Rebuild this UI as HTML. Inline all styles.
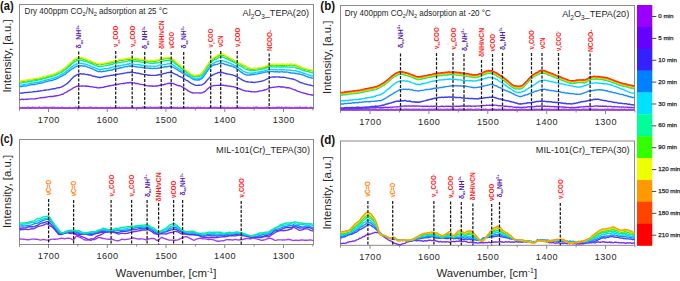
<!DOCTYPE html><html><head><meta charset="utf-8"><style>
html,body{margin:0;padding:0;background:#fff;}
svg{display:block;font-family:"Liberation Sans", sans-serif;}
</style></head><body>
<svg width="680" height="281" viewBox="0 0 680 281">
<rect x="19.5" y="4.5" width="294.0" height="104.0" fill="none" stroke="#8a8a8a" stroke-width="1"/>
<line x1="19.5" y1="108.5" x2="19.5" y2="110.8" stroke="#8a8a8a" stroke-width="1"/>
<line x1="48.50" y1="108.5" x2="48.50" y2="112.0" stroke="#8a8a8a" stroke-width="1"/>
<text x="48.80" y="123.0" font-size="9.1" letter-spacing="0.5" text-anchor="middle" fill="#262626">1700</text>
<line x1="77.88" y1="108.5" x2="77.88" y2="110.5" stroke="#8a8a8a" stroke-width="1"/>
<line x1="107.25" y1="108.5" x2="107.25" y2="112.0" stroke="#8a8a8a" stroke-width="1"/>
<text x="107.55" y="123.0" font-size="9.1" letter-spacing="0.5" text-anchor="middle" fill="#262626">1600</text>
<line x1="136.62" y1="108.5" x2="136.62" y2="110.5" stroke="#8a8a8a" stroke-width="1"/>
<line x1="166.00" y1="108.5" x2="166.00" y2="112.0" stroke="#8a8a8a" stroke-width="1"/>
<text x="166.30" y="123.0" font-size="9.1" letter-spacing="0.5" text-anchor="middle" fill="#262626">1500</text>
<line x1="195.38" y1="108.5" x2="195.38" y2="110.5" stroke="#8a8a8a" stroke-width="1"/>
<line x1="224.75" y1="108.5" x2="224.75" y2="112.0" stroke="#8a8a8a" stroke-width="1"/>
<text x="225.05" y="123.0" font-size="9.1" letter-spacing="0.5" text-anchor="middle" fill="#262626">1400</text>
<line x1="254.12" y1="108.5" x2="254.12" y2="110.5" stroke="#8a8a8a" stroke-width="1"/>
<line x1="283.50" y1="108.5" x2="283.50" y2="112.0" stroke="#8a8a8a" stroke-width="1"/>
<text x="283.80" y="123.0" font-size="9.1" letter-spacing="0.5" text-anchor="middle" fill="#262626">1300</text>
<line x1="312.88" y1="108.5" x2="312.88" y2="110.5" stroke="#8a8a8a" stroke-width="1"/>
<rect x="340.5" y="5.5" width="294.0" height="105.0" fill="none" stroke="#8a8a8a" stroke-width="1"/>
<line x1="340.5" y1="110.5" x2="340.5" y2="112.8" stroke="#8a8a8a" stroke-width="1"/>
<line x1="370.04" y1="110.5" x2="370.04" y2="114.0" stroke="#8a8a8a" stroke-width="1"/>
<text x="370.34" y="125.0" font-size="9.1" letter-spacing="0.5" text-anchor="middle" fill="#262626">1700</text>
<line x1="399.48" y1="110.5" x2="399.48" y2="112.5" stroke="#8a8a8a" stroke-width="1"/>
<line x1="428.92" y1="110.5" x2="428.92" y2="114.0" stroke="#8a8a8a" stroke-width="1"/>
<text x="429.22" y="125.0" font-size="9.1" letter-spacing="0.5" text-anchor="middle" fill="#262626">1600</text>
<line x1="458.36" y1="110.5" x2="458.36" y2="112.5" stroke="#8a8a8a" stroke-width="1"/>
<line x1="487.80" y1="110.5" x2="487.80" y2="114.0" stroke="#8a8a8a" stroke-width="1"/>
<text x="488.10" y="125.0" font-size="9.1" letter-spacing="0.5" text-anchor="middle" fill="#262626">1500</text>
<line x1="517.24" y1="110.5" x2="517.24" y2="112.5" stroke="#8a8a8a" stroke-width="1"/>
<line x1="546.68" y1="110.5" x2="546.68" y2="114.0" stroke="#8a8a8a" stroke-width="1"/>
<text x="546.98" y="125.0" font-size="9.1" letter-spacing="0.5" text-anchor="middle" fill="#262626">1400</text>
<line x1="576.12" y1="110.5" x2="576.12" y2="112.5" stroke="#8a8a8a" stroke-width="1"/>
<line x1="605.56" y1="110.5" x2="605.56" y2="114.0" stroke="#8a8a8a" stroke-width="1"/>
<text x="605.86" y="125.0" font-size="9.1" letter-spacing="0.5" text-anchor="middle" fill="#262626">1300</text>
<line x1="635.00" y1="110.5" x2="635.00" y2="112.5" stroke="#8a8a8a" stroke-width="1"/>
<rect x="19.5" y="139.5" width="294.0" height="105.0" fill="none" stroke="#8a8a8a" stroke-width="1"/>
<line x1="19.5" y1="244.5" x2="19.5" y2="246.8" stroke="#8a8a8a" stroke-width="1"/>
<line x1="48.50" y1="244.5" x2="48.50" y2="248.0" stroke="#8a8a8a" stroke-width="1"/>
<text x="48.80" y="259.0" font-size="9.1" letter-spacing="0.5" text-anchor="middle" fill="#262626">1700</text>
<line x1="77.88" y1="244.5" x2="77.88" y2="246.5" stroke="#8a8a8a" stroke-width="1"/>
<line x1="107.25" y1="244.5" x2="107.25" y2="248.0" stroke="#8a8a8a" stroke-width="1"/>
<text x="107.55" y="259.0" font-size="9.1" letter-spacing="0.5" text-anchor="middle" fill="#262626">1600</text>
<line x1="136.62" y1="244.5" x2="136.62" y2="246.5" stroke="#8a8a8a" stroke-width="1"/>
<line x1="166.00" y1="244.5" x2="166.00" y2="248.0" stroke="#8a8a8a" stroke-width="1"/>
<text x="166.30" y="259.0" font-size="9.1" letter-spacing="0.5" text-anchor="middle" fill="#262626">1500</text>
<line x1="195.38" y1="244.5" x2="195.38" y2="246.5" stroke="#8a8a8a" stroke-width="1"/>
<line x1="224.75" y1="244.5" x2="224.75" y2="248.0" stroke="#8a8a8a" stroke-width="1"/>
<text x="225.05" y="259.0" font-size="9.1" letter-spacing="0.5" text-anchor="middle" fill="#262626">1400</text>
<line x1="254.12" y1="244.5" x2="254.12" y2="246.5" stroke="#8a8a8a" stroke-width="1"/>
<line x1="283.50" y1="244.5" x2="283.50" y2="248.0" stroke="#8a8a8a" stroke-width="1"/>
<text x="283.80" y="259.0" font-size="9.1" letter-spacing="0.5" text-anchor="middle" fill="#262626">1300</text>
<line x1="312.88" y1="244.5" x2="312.88" y2="246.5" stroke="#8a8a8a" stroke-width="1"/>
<rect x="340.5" y="141.0" width="294.0" height="104.30000000000001" fill="none" stroke="#8a8a8a" stroke-width="1"/>
<line x1="340.5" y1="245.3" x2="340.5" y2="247.60000000000002" stroke="#8a8a8a" stroke-width="1"/>
<line x1="370.04" y1="245.3" x2="370.04" y2="248.8" stroke="#8a8a8a" stroke-width="1"/>
<text x="370.34" y="259.8" font-size="9.1" letter-spacing="0.5" text-anchor="middle" fill="#262626">1700</text>
<line x1="399.48" y1="245.3" x2="399.48" y2="247.3" stroke="#8a8a8a" stroke-width="1"/>
<line x1="428.92" y1="245.3" x2="428.92" y2="248.8" stroke="#8a8a8a" stroke-width="1"/>
<text x="429.22" y="259.8" font-size="9.1" letter-spacing="0.5" text-anchor="middle" fill="#262626">1600</text>
<line x1="458.36" y1="245.3" x2="458.36" y2="247.3" stroke="#8a8a8a" stroke-width="1"/>
<line x1="487.80" y1="245.3" x2="487.80" y2="248.8" stroke="#8a8a8a" stroke-width="1"/>
<text x="488.10" y="259.8" font-size="9.1" letter-spacing="0.5" text-anchor="middle" fill="#262626">1500</text>
<line x1="517.24" y1="245.3" x2="517.24" y2="247.3" stroke="#8a8a8a" stroke-width="1"/>
<line x1="546.68" y1="245.3" x2="546.68" y2="248.8" stroke="#8a8a8a" stroke-width="1"/>
<text x="546.98" y="259.8" font-size="9.1" letter-spacing="0.5" text-anchor="middle" fill="#262626">1400</text>
<line x1="576.12" y1="245.3" x2="576.12" y2="247.3" stroke="#8a8a8a" stroke-width="1"/>
<line x1="605.56" y1="245.3" x2="605.56" y2="248.8" stroke="#8a8a8a" stroke-width="1"/>
<text x="605.86" y="259.8" font-size="9.1" letter-spacing="0.5" text-anchor="middle" fill="#262626">1300</text>
<line x1="635.00" y1="245.3" x2="635.00" y2="247.3" stroke="#8a8a8a" stroke-width="1"/>
<text transform="translate(0,9.9) scale(1,1.15)" font-size="10.5" font-weight="bold" fill="#111" textLength="13.6" lengthAdjust="spacingAndGlyphs">(a)</text>
<text transform="translate(320.3,9.9) scale(1,1.15)" font-size="10.5" font-weight="bold" fill="#111" textLength="14.8" lengthAdjust="spacingAndGlyphs">(b)</text>
<text transform="translate(0.3,143) scale(1,1.15)" font-size="10.5" font-weight="bold" fill="#111" textLength="12.8" lengthAdjust="spacingAndGlyphs">(c)</text>
<text transform="translate(320.3,144) scale(1,1.15)" font-size="10.5" font-weight="bold" fill="#111" textLength="14.8" lengthAdjust="spacingAndGlyphs">(d)</text>
<text transform="translate(10.5,56) rotate(-90)" x="0" y="0" font-size="11.4" text-anchor="middle" fill="#262626">Intensity, [a.u.]</text>
<text transform="translate(331.3,57.3) rotate(-90)" x="0" y="0" font-size="11.4" text-anchor="middle" fill="#262626">Intensity, [a.u.]</text>
<text transform="translate(10.5,191.5) rotate(-90)" x="0" y="0" font-size="11.4" text-anchor="middle" fill="#262626">Intensity, [a.u.]</text>
<text transform="translate(331.3,193) rotate(-90)" x="0" y="0" font-size="11.4" text-anchor="middle" fill="#262626">Intensity, [a.u.]</text>
<text x="166" y="276.5" font-size="11.4" text-anchor="middle" fill="#262626">Wavenumber, [cm<tspan dy="-3.5" font-size="7">-1</tspan><tspan dy="3.5">]</tspan></text>
<text x="486.8" y="276.5" font-size="11.4" text-anchor="middle" fill="#262626">Wavenumber, [cm<tspan dy="-3.5" font-size="7">-1</tspan><tspan dy="3.5">]</tspan></text>
<text x="24.6" y="13.6" font-size="8.3" textLength="143.2" lengthAdjust="spacingAndGlyphs" fill="#262626">Dry 400ppm CO<tspan dy="2.6" font-size="5.8">2</tspan><tspan dy="-2.6">/N</tspan><tspan dy="2.6" font-size="5.8">2</tspan><tspan dy="-2.6"> adsorption at 25 °C</tspan></text>
<text x="344.8" y="15.7" font-size="8.3" textLength="146" lengthAdjust="spacingAndGlyphs" fill="#262626">Dry 400ppm CO<tspan dy="2.6" font-size="5.8">2</tspan><tspan dy="-2.6">/N</tspan><tspan dy="2.6" font-size="5.8">2</tspan><tspan dy="-2.6"> adsorption at -20 °C</tspan></text>
<text x="242.6" y="15.9" font-size="9" textLength="66.4" lengthAdjust="spacingAndGlyphs" fill="#262626">Al<tspan dy="2.8" font-size="6.3">2</tspan><tspan dy="-2.8">O</tspan><tspan dy="2.8" font-size="6.3">3</tspan><tspan dy="-2.8">_TEPA(20)</tspan></text>
<text x="562.2" y="16.9" font-size="9" textLength="67" lengthAdjust="spacingAndGlyphs" fill="#262626">Al<tspan dy="2.8" font-size="6.3">2</tspan><tspan dy="-2.8">O</tspan><tspan dy="2.8" font-size="6.3">3</tspan><tspan dy="-2.8">_TEPA(20)</tspan></text>
<text x="216" y="153" font-size="9.2" textLength="94" lengthAdjust="spacingAndGlyphs" fill="#262626">MIL-101(Cr)_TEPA(30)</text>
<text x="535.8" y="153" font-size="9.2" textLength="93.8" lengthAdjust="spacingAndGlyphs" fill="#262626">MIL-101(Cr)_TEPA(30)</text>
<rect x="637" y="5.00" width="15.3" height="22.16" fill="#9900ff"/>
<line x1="652" y1="16.53" x2="656.3" y2="16.53" stroke="#333" stroke-width="0.9"/>
<text x="658.3" y="18.08" font-size="6.2" font-weight="normal" stroke="#222" stroke-width="0.25" fill="#222">0 min</text>
<rect x="637" y="26.86" width="15.3" height="22.16" fill="#6600ff"/>
<line x1="652" y1="38.40" x2="656.3" y2="38.40" stroke="#333" stroke-width="0.9"/>
<text x="658.3" y="39.95" font-size="6.2" font-weight="normal" stroke="#222" stroke-width="0.25" fill="#222">5 min</text>
<rect x="637" y="48.73" width="15.3" height="22.16" fill="#3322ff"/>
<line x1="652" y1="60.26" x2="656.3" y2="60.26" stroke="#333" stroke-width="0.9"/>
<text x="658.3" y="61.81" font-size="6.2" font-weight="normal" stroke="#222" stroke-width="0.25" fill="#222">10 min</text>
<rect x="637" y="70.59" width="15.3" height="22.16" fill="#0080ff"/>
<line x1="652" y1="82.12" x2="656.3" y2="82.12" stroke="#333" stroke-width="0.9"/>
<text x="658.3" y="83.67" font-size="6.2" font-weight="normal" stroke="#222" stroke-width="0.25" fill="#222">20 min</text>
<rect x="637" y="92.45" width="15.3" height="22.16" fill="#00e0ff"/>
<line x1="652" y1="103.99" x2="656.3" y2="103.99" stroke="#333" stroke-width="0.9"/>
<text x="658.3" y="105.54" font-size="6.2" font-weight="normal" stroke="#222" stroke-width="0.25" fill="#222">30 min</text>
<rect x="637" y="114.32" width="15.3" height="22.16" fill="#00ff99"/>
<line x1="652" y1="125.85" x2="656.3" y2="125.85" stroke="#333" stroke-width="0.9"/>
<text x="658.3" y="127.40" font-size="6.2" font-weight="normal" stroke="#222" stroke-width="0.25" fill="#222">60 min</text>
<rect x="637" y="136.18" width="15.3" height="22.16" fill="#33ff00"/>
<line x1="652" y1="147.71" x2="656.3" y2="147.71" stroke="#333" stroke-width="0.9"/>
<text x="658.3" y="149.26" font-size="6.2" font-weight="normal" stroke="#222" stroke-width="0.25" fill="#222">90 min</text>
<rect x="637" y="158.05" width="15.3" height="22.16" fill="#eeff00"/>
<line x1="652" y1="169.58" x2="656.3" y2="169.58" stroke="#333" stroke-width="0.9"/>
<text x="658.3" y="171.13" font-size="6.2" font-weight="normal" stroke="#222" stroke-width="0.25" fill="#222">120 min</text>
<rect x="637" y="179.91" width="15.3" height="22.16" fill="#ff9900"/>
<line x1="652" y1="191.44" x2="656.3" y2="191.44" stroke="#333" stroke-width="0.9"/>
<text x="658.3" y="192.99" font-size="6.2" font-weight="normal" stroke="#222" stroke-width="0.25" fill="#222">150 min</text>
<rect x="637" y="201.77" width="15.3" height="22.16" fill="#ff4400"/>
<line x1="652" y1="213.30" x2="656.3" y2="213.30" stroke="#333" stroke-width="0.9"/>
<text x="658.3" y="214.85" font-size="6.2" font-weight="normal" stroke="#222" stroke-width="0.25" fill="#222">180 min</text>
<rect x="637" y="223.64" width="15.3" height="22.16" fill="#ff0000"/>
<line x1="652" y1="235.17" x2="656.3" y2="235.17" stroke="#333" stroke-width="0.9"/>
<text x="658.3" y="236.72" font-size="6.2" font-weight="normal" stroke="#222" stroke-width="0.25" fill="#222">210 min</text>
<polyline points="19.5,107.54 20.5,108.04 21.5,107.98 22.5,107.63 23.5,107.80 24.5,107.76 25.5,107.91 26.5,108.00 27.5,107.52 28.5,107.47 29.5,108.04 30.5,107.75 31.5,107.98 32.5,107.45 33.5,107.76 34.5,107.96 35.5,107.61 36.5,108.11 37.5,108.08 38.5,107.47 39.5,107.47 40.5,107.83 41.5,108.11 42.5,107.72 43.5,107.60 44.5,107.75 45.5,107.47 46.5,107.61 47.5,107.76 48.5,107.80 49.5,107.61 50.5,107.61 51.5,107.60 52.5,107.77 53.5,107.65 54.5,107.47 55.5,108.04 56.5,107.84 57.5,107.90 58.5,107.58 59.5,108.14 60.5,108.05 61.5,107.53 62.5,107.68 63.5,107.96 64.5,107.95 65.5,108.11 66.5,107.75 67.5,108.03 68.5,107.92 69.5,107.66 70.5,107.86 71.5,108.07 72.5,108.04 73.5,107.80 74.5,107.86 75.5,107.47 76.5,107.62 77.5,108.01 78.5,107.74 79.5,107.57 80.5,107.83 81.5,107.94 82.5,107.92 83.5,107.71 84.5,107.76 85.5,107.81 86.5,107.99 87.5,107.81 88.5,107.73 89.5,107.79 90.5,107.47 91.5,107.48 92.5,107.94 93.5,108.14 94.5,107.87 95.5,107.73 96.5,107.57 97.5,107.80 98.5,108.14 99.5,107.99 100.5,107.83 101.5,108.05 102.5,107.61 103.5,107.81 104.5,108.12 105.5,107.85 106.5,107.77 107.5,107.64 108.5,107.83 109.5,108.12 110.5,107.45 111.5,108.00 112.5,108.02 113.5,108.07 114.5,107.97 115.5,108.02 116.5,107.81 117.5,107.84 118.5,107.75 119.5,107.49 120.5,108.06 121.5,107.85 122.5,107.59 123.5,107.80 124.5,107.79 125.5,107.70 126.5,107.69 127.5,107.83 128.5,107.89 129.5,107.88 130.5,107.77 131.5,107.47 132.5,107.61 133.5,107.57 134.5,107.86 135.5,108.05 136.5,108.01 137.5,108.01 138.5,108.02 139.5,107.63 140.5,108.04 141.5,107.92 142.5,107.51 143.5,107.46 144.5,107.46 145.5,107.98 146.5,107.62 147.5,107.53 148.5,107.89 149.5,107.69 150.5,107.50 151.5,107.56 152.5,107.82 153.5,107.57 154.5,107.64 155.5,107.95 156.5,107.77 157.5,107.68 158.5,107.78 159.5,107.47 160.5,107.72 161.5,107.74 162.5,107.58 163.5,107.53 164.5,108.08 165.5,107.81 166.5,107.60 167.5,107.87 168.5,108.02 169.5,107.46 170.5,107.46 171.5,107.55 172.5,107.95 173.5,107.56 174.5,107.94 175.5,107.92 176.5,107.83 177.5,107.60 178.5,108.13 179.5,108.01 180.5,107.81 181.5,107.61 182.5,107.90 183.5,107.73 184.5,107.85 185.5,107.67 186.5,107.89 187.5,107.49 188.5,107.66 189.5,108.13 190.5,108.06 191.5,107.66 192.5,108.05 193.5,107.67 194.5,108.11 195.5,107.97 196.5,107.74 197.5,107.63 198.5,107.46 199.5,108.07 200.5,107.48 201.5,108.02 202.5,108.12 203.5,107.85 204.5,107.57 205.5,108.06 206.5,108.13 207.5,107.94 208.5,107.81 209.5,107.71 210.5,107.69 211.5,107.59 212.5,107.92 213.5,107.75 214.5,107.59 215.5,107.52 216.5,107.92 217.5,107.66 218.5,107.80 219.5,107.68 220.5,108.06 221.5,108.08 222.5,107.46 223.5,107.59 224.5,107.68 225.5,108.14 226.5,108.00 227.5,107.69 228.5,107.60 229.5,107.92 230.5,108.04 231.5,108.10 232.5,107.69 233.5,108.07 234.5,107.93 235.5,107.79 236.5,108.14 237.5,107.61 238.5,107.96 239.5,107.51 240.5,107.57 241.5,108.09 242.5,107.60 243.5,107.98 244.5,107.87 245.5,108.04 246.5,107.71 247.5,107.69 248.5,107.65 249.5,108.06 250.5,107.87 251.5,108.12 252.5,108.07 253.5,107.54 254.5,107.84 255.5,107.52 256.5,107.48 257.5,107.50 258.5,108.06 259.5,108.00 260.5,108.03 261.5,107.69 262.5,107.88 263.5,108.00 264.5,107.71 265.5,107.85 266.5,107.61 267.5,107.51 268.5,107.64 269.5,108.07 270.5,107.85 271.5,108.10 272.5,107.77 273.5,107.64 274.5,108.00 275.5,108.03 276.5,107.46 277.5,107.92 278.5,107.51 279.5,107.53 280.5,108.07 281.5,107.48 282.5,107.62 283.5,108.14 284.5,107.74 285.5,107.53 286.5,107.57 287.5,107.62 288.5,107.97 289.5,107.52 290.5,108.09 291.5,107.71 292.5,108.13 293.5,108.09 294.5,107.66 295.5,107.63 296.5,107.78 297.5,107.52 298.5,107.91 299.5,107.48 300.5,107.46 301.5,108.14 302.5,107.66 303.5,107.87 304.5,107.76 305.5,107.67 306.5,107.49 307.5,108.09 308.5,108.13 309.5,108.13 310.5,107.53 311.5,107.60 312.5,107.88 313.5,108.14" fill="none" stroke="#a23cf5" stroke-width="1.8399999999999999" stroke-linejoin="round" opacity="1"/>
<polyline points="19.5,99.70 20.5,99.67 21.5,99.29 22.5,99.25 23.5,99.49 24.5,99.40 25.5,99.32 26.5,99.12 27.5,99.19 28.5,99.14 29.5,99.07 30.5,98.85 31.5,98.91 32.5,98.83 33.5,98.88 34.5,98.90 35.5,98.77 36.5,98.48 37.5,98.31 38.5,98.11 39.5,97.88 40.5,97.74 41.5,97.79 42.5,97.59 43.5,97.49 44.5,97.56 45.5,97.28 46.5,97.16 47.5,96.89 48.5,96.68 49.5,96.66 50.5,96.45 51.5,96.47 52.5,96.53 53.5,96.26 54.5,95.91 55.5,96.02 56.5,95.79 57.5,95.56 58.5,95.41 59.5,95.14 60.5,94.90 61.5,94.41 62.5,94.27 63.5,93.81 64.5,92.96 65.5,92.63 66.5,92.05 67.5,91.39 68.5,90.85 69.5,90.25 70.5,89.82 71.5,89.04 72.5,88.55 73.5,87.72 74.5,87.36 75.5,86.92 76.5,86.42 77.5,86.26 78.5,86.32 79.5,86.23 80.5,86.11 81.5,85.99 82.5,86.01 83.5,86.14 84.5,85.91 85.5,86.21 86.5,85.99 87.5,86.32 88.5,86.19 89.5,86.60 90.5,86.67 91.5,86.75 92.5,86.92 93.5,87.14 94.5,87.29 95.5,87.34 96.5,87.47 97.5,87.72 98.5,87.94 99.5,87.80 100.5,87.49 101.5,87.63 102.5,87.39 103.5,87.26 104.5,86.78 105.5,86.80 106.5,86.32 107.5,86.36 108.5,86.01 109.5,85.79 110.5,85.85 111.5,85.34 112.5,85.31 113.5,85.24 114.5,84.80 115.5,84.59 116.5,84.68 117.5,84.32 118.5,84.28 119.5,83.86 120.5,83.84 121.5,83.63 122.5,83.68 123.5,83.30 124.5,83.51 125.5,83.00 126.5,83.13 127.5,82.71 128.5,82.66 129.5,82.77 130.5,82.47 131.5,82.51 132.5,82.81 133.5,82.85 134.5,82.92 135.5,83.50 136.5,83.36 137.5,83.51 138.5,83.84 139.5,84.15 140.5,84.40 141.5,84.35 142.5,84.63 143.5,84.71 144.5,85.08 145.5,85.40 146.5,85.56 147.5,85.77 148.5,85.84 149.5,85.99 150.5,86.03 151.5,86.04 152.5,86.04 153.5,86.28 154.5,86.15 155.5,86.01 156.5,86.03 157.5,86.02 158.5,85.51 159.5,85.48 160.5,85.19 161.5,85.02 162.5,84.66 163.5,84.78 164.5,84.28 165.5,84.21 166.5,83.92 167.5,83.55 168.5,83.55 169.5,83.23 170.5,83.15 171.5,83.20 172.5,83.42 173.5,83.67 174.5,84.22 175.5,84.50 176.5,85.03 177.5,85.34 178.5,85.70 179.5,85.73 180.5,86.14 181.5,86.44 182.5,87.04 183.5,87.59 184.5,88.29 185.5,88.96 186.5,89.53 187.5,90.34 188.5,91.14 189.5,91.60 190.5,92.14 191.5,92.66 192.5,92.77 193.5,93.09 194.5,92.90 195.5,92.84 196.5,92.87 197.5,92.89 198.5,92.89 199.5,93.01 200.5,92.99 201.5,92.84 202.5,92.71 203.5,92.10 204.5,91.76 205.5,91.00 206.5,90.03 207.5,89.04 208.5,88.19 209.5,87.42 210.5,86.57 211.5,86.23 212.5,85.94 213.5,85.62 214.5,85.49 215.5,85.67 216.5,85.40 217.5,85.36 218.5,85.42 219.5,85.22 220.5,85.06 221.5,85.36 222.5,85.19 223.5,85.16 224.5,85.57 225.5,85.48 226.5,85.71 227.5,86.06 228.5,86.14 229.5,86.02 230.5,86.34 231.5,86.46 232.5,86.64 233.5,86.69 234.5,87.07 235.5,87.13 236.5,87.54 237.5,87.95 238.5,88.57 239.5,88.63 240.5,89.30 241.5,89.48 242.5,90.03 243.5,90.33 244.5,90.67 245.5,91.03 246.5,91.08 247.5,91.10 248.5,91.20 249.5,91.28 250.5,91.69 251.5,91.71 252.5,91.93 253.5,91.90 254.5,91.64 255.5,91.84 256.5,91.78 257.5,91.59 258.5,91.30 259.5,91.04 260.5,90.88 261.5,90.82 262.5,90.41 263.5,90.28 264.5,89.97 265.5,89.81 266.5,89.34 267.5,88.96 268.5,88.52 269.5,87.97 270.5,87.68 271.5,87.58 272.5,87.32 273.5,87.22 274.5,87.15 275.5,87.08 276.5,86.81 277.5,86.83 278.5,86.52 279.5,86.66 280.5,87.01 281.5,86.80 282.5,87.03 283.5,87.01 284.5,87.15 285.5,87.60 286.5,87.76 287.5,87.75 288.5,87.69 289.5,87.97 290.5,88.20 291.5,88.70 292.5,89.07 293.5,89.38 294.5,89.81 295.5,90.04 296.5,90.62 297.5,91.18 298.5,91.49 299.5,91.59 300.5,92.09 301.5,92.48 302.5,92.58 303.5,93.10 304.5,93.20 305.5,93.56 306.5,93.71 307.5,94.22 308.5,94.40 309.5,94.59 310.5,94.68 311.5,95.05 312.5,95.01 313.5,95.36" fill="none" stroke="#7a2cf0" stroke-width="1.38" stroke-linejoin="round" opacity="1"/>
<polyline points="19.5,93.12 20.5,93.19 21.5,93.06 22.5,93.04 23.5,92.94 24.5,92.60 25.5,92.46 26.5,92.68 27.5,92.33 28.5,92.21 29.5,92.40 30.5,92.07 31.5,92.11 32.5,91.85 33.5,91.80 34.5,91.49 35.5,91.57 36.5,91.55 37.5,91.29 38.5,91.26 39.5,91.10 40.5,90.72 41.5,90.85 42.5,90.62 43.5,90.34 44.5,90.06 45.5,90.23 46.5,89.91 47.5,89.84 48.5,89.73 49.5,89.50 50.5,89.42 51.5,89.04 52.5,89.04 53.5,88.72 54.5,88.74 55.5,88.53 56.5,88.01 57.5,87.82 58.5,87.64 59.5,87.72 60.5,87.25 61.5,86.98 62.5,86.41 63.5,85.96 64.5,85.29 65.5,84.61 66.5,83.98 67.5,83.15 68.5,82.35 69.5,81.22 70.5,80.17 71.5,79.01 72.5,78.05 73.5,77.04 74.5,76.08 75.5,75.73 76.5,75.20 77.5,74.68 78.5,74.18 79.5,74.00 80.5,73.70 81.5,73.98 82.5,73.98 83.5,73.96 84.5,73.98 85.5,74.41 86.5,74.61 87.5,74.44 88.5,74.94 89.5,75.03 90.5,75.19 91.5,75.52 92.5,75.97 93.5,76.28 94.5,76.22 95.5,76.71 96.5,76.75 97.5,77.24 98.5,77.22 99.5,77.49 100.5,77.48 101.5,77.16 102.5,77.18 103.5,76.72 104.5,76.45 105.5,76.48 106.5,76.08 107.5,75.97 108.5,75.87 109.5,75.78 110.5,75.42 111.5,75.19 112.5,75.35 113.5,74.95 114.5,75.03 115.5,74.83 116.5,74.44 117.5,74.30 118.5,74.15 119.5,74.03 120.5,73.84 121.5,73.65 122.5,73.51 123.5,73.46 124.5,73.12 125.5,72.92 126.5,72.86 127.5,72.50 128.5,72.35 129.5,72.48 130.5,72.24 131.5,72.26 132.5,72.12 133.5,72.43 134.5,72.69 135.5,72.65 136.5,73.08 137.5,73.27 138.5,73.23 139.5,73.64 140.5,73.77 141.5,74.04 142.5,74.10 143.5,74.43 144.5,74.63 145.5,74.52 146.5,74.69 147.5,75.06 148.5,75.29 149.5,75.09 150.5,75.25 151.5,75.37 152.5,75.34 153.5,75.40 154.5,75.37 155.5,75.32 156.5,75.27 157.5,74.96 158.5,74.76 159.5,74.70 160.5,74.17 161.5,74.17 162.5,74.01 163.5,73.61 164.5,73.35 165.5,73.36 166.5,72.91 167.5,72.66 168.5,72.54 169.5,72.49 170.5,72.24 171.5,72.47 172.5,72.76 173.5,73.38 174.5,73.73 175.5,74.39 176.5,74.62 177.5,75.18 178.5,75.81 179.5,76.40 180.5,76.73 181.5,77.15 182.5,77.65 183.5,78.38 184.5,78.84 185.5,79.71 186.5,80.35 187.5,80.72 188.5,81.39 189.5,82.24 190.5,82.81 191.5,83.51 192.5,83.95 193.5,84.43 194.5,84.92 195.5,85.40 196.5,85.33 197.5,85.35 198.5,85.30 199.5,85.23 200.5,85.15 201.5,85.17 202.5,84.46 203.5,83.77 204.5,83.30 205.5,82.21 206.5,81.08 207.5,79.69 208.5,78.72 209.5,77.61 210.5,76.39 211.5,75.81 212.5,75.21 213.5,74.67 214.5,74.21 215.5,73.72 216.5,73.34 217.5,72.89 218.5,72.49 219.5,72.49 220.5,72.29 221.5,72.55 222.5,72.42 223.5,73.00 224.5,73.16 225.5,73.49 226.5,73.72 227.5,73.96 228.5,74.07 229.5,74.09 230.5,74.62 231.5,74.63 232.5,74.92 233.5,75.34 234.5,75.63 235.5,76.00 236.5,76.70 237.5,77.12 238.5,77.60 239.5,78.16 240.5,78.99 241.5,79.43 242.5,80.14 243.5,80.51 244.5,80.89 245.5,81.37 246.5,81.73 247.5,81.62 248.5,81.97 249.5,82.12 250.5,82.17 251.5,82.28 252.5,82.05 253.5,82.37 254.5,82.48 255.5,82.10 256.5,82.08 257.5,81.91 258.5,81.81 259.5,81.57 260.5,81.39 261.5,81.31 262.5,80.80 263.5,80.57 264.5,80.23 265.5,79.75 266.5,79.15 267.5,78.88 268.5,78.27 269.5,77.53 270.5,77.39 271.5,77.13 272.5,77.02 273.5,76.93 274.5,76.99 275.5,76.94 276.5,76.87 277.5,76.85 278.5,76.98 279.5,76.96 280.5,77.21 281.5,77.34 282.5,77.28 283.5,77.24 284.5,77.39 285.5,77.60 286.5,77.85 287.5,78.11 288.5,78.15 289.5,78.52 290.5,78.65 291.5,78.77 292.5,78.95 293.5,79.24 294.5,79.64 295.5,79.93 296.5,80.52 297.5,80.98 298.5,81.46 299.5,82.08 300.5,82.58 301.5,82.70 302.5,83.14 303.5,83.41 304.5,83.86 305.5,84.16 306.5,84.20 307.5,84.68 308.5,84.90 309.5,84.96 310.5,85.31 311.5,85.42 312.5,85.82 313.5,85.89" fill="none" stroke="#4040f0" stroke-width="1.38" stroke-linejoin="round" opacity="1"/>
<polyline points="19.5,86.61 20.5,86.45 21.5,86.51 22.5,86.21 23.5,86.00 24.5,85.99 25.5,86.07 26.5,85.84 27.5,85.65 28.5,85.20 29.5,85.18 30.5,84.88 31.5,84.65 32.5,84.44 33.5,84.32 34.5,84.50 35.5,84.28 36.5,84.09 37.5,83.91 38.5,83.40 39.5,83.25 40.5,83.18 41.5,82.99 42.5,82.80 43.5,82.57 44.5,81.92 45.5,81.93 46.5,81.71 47.5,81.38 48.5,80.96 49.5,80.86 50.5,80.42 51.5,80.59 52.5,80.31 53.5,79.87 54.5,79.43 55.5,79.35 56.5,78.76 57.5,78.44 58.5,77.92 59.5,77.25 60.5,76.71 61.5,76.30 62.5,75.72 63.5,75.05 64.5,74.53 65.5,74.13 66.5,73.02 67.5,72.24 68.5,71.72 69.5,70.73 70.5,70.05 71.5,69.24 72.5,68.47 73.5,68.17 74.5,67.21 75.5,66.83 76.5,66.28 77.5,66.10 78.5,65.66 79.5,65.55 80.5,65.73 81.5,65.62 82.5,65.90 83.5,66.23 84.5,65.99 85.5,66.16 86.5,66.49 87.5,67.06 88.5,67.33 89.5,67.55 90.5,68.03 91.5,68.39 92.5,68.96 93.5,69.19 94.5,69.95 95.5,70.48 96.5,70.94 97.5,71.21 98.5,71.59 99.5,71.28 100.5,71.46 101.5,71.73 102.5,71.52 103.5,71.22 104.5,71.36 105.5,71.08 106.5,71.06 107.5,70.66 108.5,70.45 109.5,70.40 110.5,70.03 111.5,69.92 112.5,69.96 113.5,69.39 114.5,68.98 115.5,68.75 116.5,68.58 117.5,68.66 118.5,68.24 119.5,68.00 120.5,67.70 121.5,67.94 122.5,67.46 123.5,67.15 124.5,66.88 125.5,66.68 126.5,66.53 127.5,66.59 128.5,66.12 129.5,65.91 130.5,66.05 131.5,65.91 132.5,66.35 133.5,66.05 134.5,66.43 135.5,66.72 136.5,66.72 137.5,67.18 138.5,67.08 139.5,67.11 140.5,67.34 141.5,67.28 142.5,67.60 143.5,67.64 144.5,68.08 145.5,68.17 146.5,68.11 147.5,67.96 148.5,68.14 149.5,68.20 150.5,68.23 151.5,68.29 152.5,68.66 153.5,68.32 154.5,68.26 155.5,68.64 156.5,68.35 157.5,68.41 158.5,67.94 159.5,68.01 160.5,67.71 161.5,67.61 162.5,67.41 163.5,67.11 164.5,66.73 165.5,66.62 166.5,66.77 167.5,66.61 168.5,66.45 169.5,66.06 170.5,66.28 171.5,66.57 172.5,66.88 173.5,67.50 174.5,67.97 175.5,68.65 176.5,69.28 177.5,69.69 178.5,70.64 179.5,71.27 180.5,71.45 181.5,72.51 182.5,73.11 183.5,73.56 184.5,73.84 185.5,74.86 186.5,75.06 187.5,76.06 188.5,76.49 189.5,76.77 190.5,77.41 191.5,78.23 192.5,78.78 193.5,79.38 194.5,79.86 195.5,79.77 196.5,79.79 197.5,80.24 198.5,79.72 199.5,79.96 200.5,79.12 201.5,78.74 202.5,77.74 203.5,76.54 204.5,75.00 205.5,73.78 206.5,72.06 207.5,70.92 208.5,69.37 209.5,68.37 210.5,67.26 211.5,66.27 212.5,65.67 213.5,65.01 214.5,64.72 215.5,64.70 216.5,64.34 217.5,64.23 218.5,63.80 219.5,63.33 220.5,63.32 221.5,63.52 222.5,63.52 223.5,63.51 224.5,64.22 225.5,64.51 226.5,64.44 227.5,64.97 228.5,65.19 229.5,65.69 230.5,65.76 231.5,66.02 232.5,66.44 233.5,67.03 234.5,67.04 235.5,67.59 236.5,68.48 237.5,69.34 238.5,69.94 239.5,70.68 240.5,71.67 241.5,72.41 242.5,72.83 243.5,73.94 244.5,74.15 245.5,74.59 246.5,75.09 247.5,74.96 248.5,75.15 249.5,74.81 250.5,75.11 251.5,74.66 252.5,74.51 253.5,74.51 254.5,74.24 255.5,74.15 256.5,74.13 257.5,73.84 258.5,73.29 259.5,73.25 260.5,73.18 261.5,72.95 262.5,72.87 263.5,72.56 264.5,72.16 265.5,72.05 266.5,72.16 267.5,71.74 268.5,71.82 269.5,71.85 270.5,71.63 271.5,71.67 272.5,71.66 273.5,71.55 274.5,71.88 275.5,71.69 276.5,71.94 277.5,71.67 278.5,71.98 279.5,71.97 280.5,71.92 281.5,71.86 282.5,71.74 283.5,72.10 284.5,71.96 285.5,72.19 286.5,72.03 287.5,72.12 288.5,72.29 289.5,72.75 290.5,72.57 291.5,73.07 292.5,72.94 293.5,73.17 294.5,73.19 295.5,73.46 296.5,73.33 297.5,73.62 298.5,74.04 299.5,73.86 300.5,74.34 301.5,74.45 302.5,74.77 303.5,74.97 304.5,75.32 305.5,76.13 306.5,76.41 307.5,76.75 308.5,77.10 309.5,77.52 310.5,77.46 311.5,77.99 312.5,78.11 313.5,78.31" fill="none" stroke="#1a8cff" stroke-width="1.38" stroke-linejoin="round" opacity="1"/>
<polyline points="19.5,85.21 20.5,85.18 21.5,85.12 22.5,85.02 23.5,84.75 24.5,84.67 25.5,84.05 26.5,84.10 27.5,84.16 28.5,83.84 29.5,83.80 30.5,83.23 31.5,83.24 32.5,82.95 33.5,82.93 34.5,82.77 35.5,82.32 36.5,82.25 37.5,82.10 38.5,82.22 39.5,81.93 40.5,81.40 41.5,81.47 42.5,80.88 43.5,80.86 44.5,80.36 45.5,80.04 46.5,80.22 47.5,79.63 48.5,79.38 49.5,79.50 50.5,79.19 51.5,78.64 52.5,78.72 53.5,78.23 54.5,77.96 55.5,77.34 56.5,77.27 57.5,76.65 58.5,76.27 59.5,75.72 60.5,74.90 61.5,74.42 62.5,73.80 63.5,73.24 64.5,72.58 65.5,72.01 66.5,71.40 67.5,70.27 68.5,69.74 69.5,68.71 70.5,67.83 71.5,67.26 72.5,66.34 73.5,65.59 74.5,65.08 75.5,64.68 76.5,63.88 77.5,63.94 78.5,63.19 79.5,63.42 80.5,63.47 81.5,63.20 82.5,63.79 83.5,63.79 84.5,64.10 85.5,64.05 86.5,64.34 87.5,64.72 88.5,65.47 89.5,65.49 90.5,66.20 91.5,66.71 92.5,67.14 93.5,67.26 94.5,67.69 95.5,68.20 96.5,68.75 97.5,68.78 98.5,69.36 99.5,69.52 100.5,69.58 101.5,69.08 102.5,69.40 103.5,68.83 104.5,68.81 105.5,68.80 106.5,68.81 107.5,68.37 108.5,68.49 109.5,68.10 110.5,67.77 111.5,67.53 112.5,67.21 113.5,66.91 114.5,66.70 115.5,66.72 116.5,66.64 117.5,66.01 118.5,65.74 119.5,66.01 120.5,65.59 121.5,65.34 122.5,65.06 123.5,65.05 124.5,64.97 125.5,64.59 126.5,64.38 127.5,64.01 128.5,64.25 129.5,63.65 130.5,63.79 131.5,63.95 132.5,63.65 133.5,64.08 134.5,64.35 135.5,64.35 136.5,64.59 137.5,64.41 138.5,64.73 139.5,64.73 140.5,65.23 141.5,65.09 142.5,65.31 143.5,65.72 144.5,65.79 145.5,65.98 146.5,65.83 147.5,65.95 148.5,66.15 149.5,66.09 150.5,66.06 151.5,66.17 152.5,66.10 153.5,66.24 154.5,66.52 155.5,66.42 156.5,66.10 157.5,65.84 158.5,65.53 159.5,65.17 160.5,65.03 161.5,65.06 162.5,64.90 163.5,64.47 164.5,64.51 165.5,64.36 166.5,64.18 167.5,64.02 168.5,63.93 169.5,63.67 170.5,63.95 171.5,64.01 172.5,64.55 173.5,65.30 174.5,65.95 175.5,66.43 176.5,67.45 177.5,67.99 178.5,68.64 179.5,69.04 180.5,69.99 181.5,70.53 182.5,71.41 183.5,71.97 184.5,72.79 185.5,73.35 186.5,74.06 187.5,74.47 188.5,75.26 189.5,75.94 190.5,76.62 191.5,76.99 192.5,77.80 193.5,78.27 194.5,78.50 195.5,78.82 196.5,78.87 197.5,78.62 198.5,78.54 199.5,78.14 200.5,77.99 201.5,77.30 202.5,76.05 203.5,74.88 204.5,73.48 205.5,72.07 206.5,70.38 207.5,69.27 208.5,67.75 209.5,66.48 210.5,65.25 211.5,64.44 212.5,63.81 213.5,63.24 214.5,62.88 215.5,62.13 216.5,61.79 217.5,61.53 218.5,61.23 219.5,60.69 220.5,60.75 221.5,60.70 222.5,60.55 223.5,61.05 224.5,61.30 225.5,61.59 226.5,62.00 227.5,62.46 228.5,62.76 229.5,63.14 230.5,63.43 231.5,64.01 232.5,64.34 233.5,64.86 234.5,65.32 235.5,65.68 236.5,66.62 237.5,66.84 238.5,67.75 239.5,68.39 240.5,69.17 241.5,69.73 242.5,70.79 243.5,71.21 244.5,71.58 245.5,72.30 246.5,72.35 247.5,72.78 248.5,72.82 249.5,73.05 250.5,73.29 251.5,73.20 252.5,72.92 253.5,72.97 254.5,72.71 255.5,72.39 256.5,72.10 257.5,72.14 258.5,71.95 259.5,71.96 260.5,71.79 261.5,71.43 262.5,71.12 263.5,71.20 264.5,70.53 265.5,70.34 266.5,70.29 267.5,70.05 268.5,69.60 269.5,69.69 270.5,69.75 271.5,69.48 272.5,69.53 273.5,69.45 274.5,69.50 275.5,69.87 276.5,69.59 277.5,69.91 278.5,69.90 279.5,69.77 280.5,69.62 281.5,70.01 282.5,69.79 283.5,69.77 284.5,69.77 285.5,70.15 286.5,69.97 287.5,69.94 288.5,70.11 289.5,70.02 290.5,70.35 291.5,70.34 292.5,70.36 293.5,70.72 294.5,70.90 295.5,70.67 296.5,71.14 297.5,71.23 298.5,71.79 299.5,71.98 300.5,72.01 301.5,72.34 302.5,72.63 303.5,73.39 304.5,73.38 305.5,73.86 306.5,74.12 307.5,74.52 308.5,74.82 309.5,75.21 310.5,75.22 311.5,75.82 312.5,75.75 313.5,76.01" fill="none" stroke="#00d8ff" stroke-width="1.38" stroke-linejoin="round" opacity="1"/>
<polyline points="19.5,83.13 20.5,83.06 21.5,82.81 22.5,82.53 23.5,82.23 24.5,82.39 25.5,82.13 26.5,82.10 27.5,81.74 28.5,81.77 29.5,81.36 30.5,81.45 31.5,81.25 32.5,80.92 33.5,80.82 34.5,80.72 35.5,80.31 36.5,80.32 37.5,80.27 38.5,79.80 39.5,79.85 40.5,79.55 41.5,79.38 42.5,78.86 43.5,78.47 44.5,78.55 45.5,78.29 46.5,77.84 47.5,77.40 48.5,77.19 49.5,77.14 50.5,76.70 51.5,76.76 52.5,76.32 53.5,75.83 54.5,75.71 55.5,75.16 56.5,74.99 57.5,74.46 58.5,73.72 59.5,73.25 60.5,72.74 61.5,72.25 62.5,71.80 63.5,70.74 64.5,70.25 65.5,69.63 66.5,68.67 67.5,67.91 68.5,66.73 69.5,66.19 70.5,65.07 71.5,63.98 72.5,63.44 73.5,62.55 74.5,61.85 75.5,61.45 76.5,60.77 77.5,60.38 78.5,60.44 79.5,60.23 80.5,59.93 81.5,60.50 82.5,60.39 83.5,60.82 84.5,61.38 85.5,61.52 86.5,61.67 87.5,62.05 88.5,62.42 89.5,62.69 90.5,63.54 91.5,63.48 92.5,64.07 93.5,64.64 94.5,64.88 95.5,65.58 96.5,65.63 97.5,66.35 98.5,66.54 99.5,66.55 100.5,66.66 101.5,66.33 102.5,66.34 103.5,66.15 104.5,65.84 105.5,65.65 106.5,65.59 107.5,65.26 108.5,64.90 109.5,65.02 110.5,64.56 111.5,64.42 112.5,64.32 113.5,63.77 114.5,63.44 115.5,63.25 116.5,63.25 117.5,62.92 118.5,62.67 119.5,62.58 120.5,62.64 121.5,62.12 122.5,62.02 123.5,62.07 124.5,61.75 125.5,61.40 126.5,61.32 127.5,61.14 128.5,60.79 129.5,60.76 130.5,60.64 131.5,60.87 132.5,60.68 133.5,60.95 134.5,61.25 135.5,61.37 136.5,61.24 137.5,61.50 138.5,61.50 139.5,61.69 140.5,61.89 141.5,62.20 142.5,62.43 143.5,62.26 144.5,62.28 145.5,62.65 146.5,62.58 147.5,62.68 148.5,63.15 149.5,62.89 150.5,63.26 151.5,63.15 152.5,63.50 153.5,63.49 154.5,63.05 155.5,63.00 156.5,63.18 157.5,62.74 158.5,62.34 159.5,62.21 160.5,61.92 161.5,61.47 162.5,61.22 163.5,60.84 164.5,60.81 165.5,60.59 166.5,60.74 167.5,60.63 168.5,60.31 169.5,60.55 170.5,60.45 171.5,60.80 172.5,61.59 173.5,62.19 174.5,63.19 175.5,63.84 176.5,64.66 177.5,65.15 178.5,66.28 179.5,66.69 180.5,67.74 181.5,68.66 182.5,69.42 183.5,70.16 184.5,70.66 185.5,71.50 186.5,72.25 187.5,72.63 188.5,73.74 189.5,74.43 190.5,74.91 191.5,75.72 192.5,76.09 193.5,76.39 194.5,76.83 195.5,76.57 196.5,76.90 197.5,76.91 198.5,76.46 199.5,76.54 200.5,75.60 201.5,75.21 202.5,73.87 203.5,72.89 204.5,71.16 205.5,69.95 206.5,68.04 207.5,66.61 208.5,65.52 209.5,64.06 210.5,62.82 211.5,61.57 212.5,60.82 213.5,60.28 214.5,59.58 215.5,59.51 216.5,58.85 217.5,58.40 218.5,57.73 219.5,57.11 220.5,56.73 221.5,57.02 222.5,56.87 223.5,57.45 224.5,57.88 225.5,58.36 226.5,58.61 227.5,59.08 228.5,59.77 229.5,59.99 230.5,60.70 231.5,60.98 232.5,61.51 233.5,61.92 234.5,62.64 235.5,63.08 236.5,63.57 237.5,64.16 238.5,64.94 239.5,65.72 240.5,66.08 241.5,66.56 242.5,67.24 243.5,67.79 244.5,68.48 245.5,69.06 246.5,69.38 247.5,69.55 248.5,69.96 249.5,70.28 250.5,70.51 251.5,70.58 252.5,70.87 253.5,70.53 254.5,70.43 255.5,70.29 256.5,70.10 257.5,70.02 258.5,69.64 259.5,69.63 260.5,69.62 261.5,69.06 262.5,69.13 263.5,68.81 264.5,68.40 265.5,68.07 266.5,68.04 267.5,67.32 268.5,67.29 269.5,66.75 270.5,66.75 271.5,66.54 272.5,66.81 273.5,66.94 274.5,66.67 275.5,66.85 276.5,67.04 277.5,66.74 278.5,66.83 279.5,66.97 280.5,67.05 281.5,66.72 282.5,66.97 283.5,66.71 284.5,66.72 285.5,67.16 286.5,66.71 287.5,67.15 288.5,67.07 289.5,67.04 290.5,67.08 291.5,67.05 292.5,66.91 293.5,67.10 294.5,67.15 295.5,67.72 296.5,67.98 297.5,68.33 298.5,68.38 299.5,68.93 300.5,69.14 301.5,69.78 302.5,70.13 303.5,70.60 304.5,70.78 305.5,71.06 306.5,71.39 307.5,71.33 308.5,71.86 309.5,71.86 310.5,72.31 311.5,72.44 312.5,72.99 313.5,72.66" fill="none" stroke="#00f090" stroke-width="1.38" stroke-linejoin="round" opacity="1"/>
<polyline points="19.5,81.63 20.5,81.44 21.5,81.66 22.5,81.15 23.5,81.26 24.5,80.99 25.5,80.64 26.5,80.74 27.5,80.29 28.5,80.37 29.5,79.98 30.5,79.83 31.5,79.86 32.5,79.94 33.5,79.35 34.5,79.24 35.5,79.32 36.5,79.34 37.5,78.94 38.5,78.64 39.5,78.77 40.5,77.97 41.5,78.20 42.5,77.58 43.5,77.22 44.5,76.93 45.5,76.78 46.5,76.81 47.5,76.16 48.5,76.12 49.5,75.89 50.5,75.46 51.5,75.29 52.5,74.73 53.5,74.42 54.5,74.16 55.5,74.03 56.5,73.41 57.5,72.81 58.5,72.42 59.5,71.79 60.5,71.15 61.5,70.89 62.5,70.28 63.5,69.41 64.5,68.93 65.5,68.14 66.5,67.50 67.5,66.47 68.5,65.23 69.5,64.67 70.5,63.17 71.5,62.42 72.5,61.78 73.5,60.67 74.5,60.21 75.5,59.38 76.5,59.23 77.5,58.85 78.5,58.46 79.5,58.53 80.5,58.25 81.5,58.70 82.5,58.95 83.5,59.24 84.5,59.47 85.5,60.02 86.5,60.42 87.5,60.49 88.5,60.98 89.5,61.01 90.5,61.80 91.5,62.17 92.5,62.78 93.5,63.08 94.5,63.16 95.5,63.63 96.5,64.20 97.5,64.16 98.5,64.65 99.5,64.58 100.5,64.54 101.5,64.37 102.5,64.61 103.5,64.03 104.5,63.91 105.5,63.81 106.5,63.91 107.5,63.24 108.5,63.25 109.5,63.09 110.5,63.06 111.5,62.77 112.5,62.55 113.5,61.95 114.5,61.78 115.5,61.51 116.5,61.59 117.5,61.43 118.5,60.74 119.5,60.58 120.5,60.44 121.5,60.26 122.5,60.24 123.5,60.12 124.5,59.75 125.5,59.42 126.5,59.50 127.5,59.29 128.5,59.24 129.5,59.32 130.5,59.08 131.5,58.96 132.5,59.06 133.5,59.19 134.5,58.95 135.5,59.59 136.5,59.65 137.5,59.84 138.5,59.94 139.5,59.84 140.5,60.00 141.5,59.99 142.5,60.48 143.5,60.31 144.5,60.48 145.5,60.72 146.5,60.83 147.5,61.06 148.5,60.99 149.5,61.04 150.5,61.20 151.5,61.24 152.5,61.47 153.5,61.30 154.5,61.76 155.5,61.46 156.5,60.96 157.5,60.71 158.5,60.42 159.5,60.07 160.5,59.58 161.5,59.69 162.5,59.51 163.5,58.99 164.5,58.85 165.5,58.52 166.5,58.46 167.5,58.54 168.5,58.43 169.5,58.79 170.5,58.60 171.5,58.90 172.5,60.02 173.5,60.52 174.5,61.12 175.5,62.20 176.5,62.73 177.5,63.86 178.5,64.97 179.5,65.74 180.5,66.47 181.5,67.04 182.5,67.91 183.5,68.59 184.5,69.72 185.5,70.34 186.5,71.23 187.5,71.71 188.5,72.39 189.5,73.49 190.5,74.35 191.5,74.94 192.5,75.42 193.5,75.77 194.5,75.90 195.5,75.59 196.5,75.67 197.5,75.46 198.5,75.15 199.5,74.89 200.5,74.52 201.5,73.70 202.5,72.89 203.5,71.70 204.5,69.90 205.5,68.71 206.5,67.26 207.5,65.75 208.5,63.91 209.5,62.43 210.5,61.20 211.5,60.13 212.5,59.25 213.5,58.79 214.5,58.33 215.5,57.67 216.5,56.83 217.5,56.31 218.5,55.77 219.5,54.83 220.5,54.89 221.5,54.99 222.5,55.09 223.5,55.47 224.5,55.83 225.5,56.17 226.5,57.06 227.5,57.30 228.5,58.10 229.5,58.73 230.5,58.90 231.5,59.42 232.5,60.27 233.5,60.66 234.5,60.86 235.5,61.37 236.5,61.92 237.5,62.92 238.5,63.41 239.5,63.57 240.5,64.53 241.5,65.17 242.5,65.52 243.5,65.88 244.5,66.52 245.5,66.77 246.5,67.19 247.5,68.23 248.5,68.49 249.5,68.81 250.5,69.33 251.5,69.19 252.5,69.48 253.5,69.37 254.5,68.85 255.5,68.72 256.5,68.60 257.5,68.42 258.5,68.48 259.5,68.13 260.5,68.08 261.5,67.76 262.5,68.08 263.5,67.55 264.5,67.34 265.5,67.05 266.5,66.80 267.5,66.03 268.5,65.93 269.5,65.40 270.5,65.25 271.5,65.19 272.5,64.89 273.5,65.14 274.5,64.99 275.5,64.89 276.5,65.37 277.5,65.00 278.5,65.18 279.5,65.34 280.5,65.24 281.5,65.11 282.5,65.23 283.5,65.25 284.5,65.38 285.5,64.96 286.5,65.21 287.5,64.99 288.5,64.98 289.5,65.24 290.5,65.05 291.5,65.05 292.5,65.18 293.5,65.37 294.5,65.27 295.5,65.65 296.5,65.95 297.5,66.36 298.5,66.88 299.5,67.15 300.5,67.62 301.5,67.99 302.5,68.65 303.5,68.85 304.5,69.27 305.5,69.59 306.5,69.44 307.5,69.88 308.5,70.37 309.5,70.57 310.5,70.41 311.5,70.64 312.5,70.96 313.5,70.85" fill="none" stroke="#40e010" stroke-width="1.38" stroke-linejoin="round" opacity="1"/>
<polyline points="19.5,80.89 20.5,81.25 21.5,80.66 22.5,80.85 23.5,80.31 24.5,80.24 25.5,80.53 26.5,79.89 27.5,79.98 28.5,79.71 29.5,79.54 30.5,79.40 31.5,79.05 32.5,79.27 33.5,78.66 34.5,78.58 35.5,78.29 36.5,78.27 37.5,78.18 38.5,78.28 39.5,77.75 40.5,77.34 41.5,77.17 42.5,77.33 43.5,76.50 44.5,76.56 45.5,76.14 46.5,76.03 47.5,75.57 48.5,75.50 49.5,75.11 50.5,74.93 51.5,74.80 52.5,74.34 53.5,73.77 54.5,73.36 55.5,73.47 56.5,72.72 57.5,72.02 58.5,71.91 59.5,71.13 60.5,70.66 61.5,70.19 62.5,69.27 63.5,68.71 64.5,68.33 65.5,67.10 66.5,66.61 67.5,65.26 68.5,64.61 69.5,63.62 70.5,62.77 71.5,61.75 72.5,60.69 73.5,59.74 74.5,59.04 75.5,58.68 76.5,58.14 77.5,57.43 78.5,57.65 79.5,57.31 80.5,57.49 81.5,57.44 82.5,57.78 83.5,57.97 84.5,58.49 85.5,58.78 86.5,59.22 87.5,59.56 88.5,60.21 89.5,60.63 90.5,60.61 91.5,61.14 92.5,61.40 93.5,62.10 94.5,62.68 95.5,62.62 96.5,63.36 97.5,63.42 98.5,63.47 99.5,64.02 100.5,63.75 101.5,63.50 102.5,63.46 103.5,63.14 104.5,63.05 105.5,62.87 106.5,62.65 107.5,62.55 108.5,62.15 109.5,61.81 110.5,61.57 111.5,61.34 112.5,61.34 113.5,60.99 114.5,61.01 115.5,60.59 116.5,60.48 117.5,60.43 118.5,59.69 119.5,59.48 120.5,59.38 121.5,59.36 122.5,59.30 123.5,59.23 124.5,58.83 125.5,59.02 126.5,58.27 127.5,58.60 128.5,58.05 129.5,58.31 130.5,57.72 131.5,58.26 132.5,58.17 133.5,58.41 134.5,58.29 135.5,58.17 136.5,58.77 137.5,58.58 138.5,58.51 139.5,58.97 140.5,59.07 141.5,59.22 142.5,59.21 143.5,59.36 144.5,59.81 145.5,59.90 146.5,59.85 147.5,60.16 148.5,60.44 149.5,60.52 150.5,60.45 151.5,60.47 152.5,60.53 153.5,60.48 154.5,60.40 155.5,60.40 156.5,59.96 157.5,60.00 158.5,59.61 159.5,59.18 160.5,58.45 161.5,58.31 162.5,58.08 163.5,57.66 164.5,58.04 165.5,57.83 166.5,57.63 167.5,57.70 168.5,57.35 169.5,57.40 170.5,57.81 171.5,58.35 172.5,58.88 173.5,59.27 174.5,60.50 175.5,61.55 176.5,62.31 177.5,63.29 178.5,64.19 179.5,64.60 180.5,65.51 181.5,66.52 182.5,67.61 183.5,68.07 184.5,69.21 185.5,69.94 186.5,70.50 187.5,71.34 188.5,72.31 189.5,72.97 190.5,73.45 191.5,74.46 192.5,74.57 193.5,75.00 194.5,75.50 195.5,75.40 196.5,74.95 197.5,74.81 198.5,74.88 199.5,74.76 200.5,74.12 201.5,73.46 202.5,72.25 203.5,70.94 204.5,69.31 205.5,67.67 206.5,66.21 207.5,64.74 208.5,63.27 209.5,62.04 210.5,60.44 211.5,59.24 212.5,58.72 213.5,57.69 214.5,57.11 215.5,56.26 216.5,56.01 217.5,55.01 218.5,54.35 219.5,54.11 220.5,53.63 221.5,53.43 222.5,53.98 223.5,54.12 224.5,54.64 225.5,55.55 226.5,56.00 227.5,56.52 228.5,56.77 229.5,57.66 230.5,58.08 231.5,58.77 232.5,59.05 233.5,59.84 234.5,60.39 235.5,60.68 236.5,61.37 237.5,61.97 238.5,62.61 239.5,63.09 240.5,63.52 241.5,63.65 242.5,64.46 243.5,65.02 244.5,65.18 245.5,65.92 246.5,66.69 247.5,67.23 248.5,67.76 249.5,67.71 250.5,68.34 251.5,68.68 252.5,68.61 253.5,68.33 254.5,68.02 255.5,68.41 256.5,68.23 257.5,67.96 258.5,67.65 259.5,67.78 260.5,67.63 261.5,67.43 262.5,67.22 263.5,66.86 264.5,66.56 265.5,66.21 266.5,65.71 267.5,65.31 268.5,64.63 269.5,64.68 270.5,64.27 271.5,64.10 272.5,64.15 273.5,64.23 274.5,64.26 275.5,64.47 276.5,64.06 277.5,64.13 278.5,64.18 279.5,64.11 280.5,64.45 281.5,64.07 282.5,64.03 283.5,64.33 284.5,64.42 285.5,64.45 286.5,64.25 287.5,64.06 288.5,64.33 289.5,64.19 290.5,63.98 291.5,63.98 292.5,64.19 293.5,64.33 294.5,64.48 295.5,64.30 296.5,64.81 297.5,65.30 298.5,65.60 299.5,66.40 300.5,66.43 301.5,67.35 302.5,67.55 303.5,67.92 304.5,68.10 305.5,68.69 306.5,68.72 307.5,69.16 308.5,69.43 309.5,69.54 310.5,69.97 311.5,69.89 312.5,69.94 313.5,70.34" fill="none" stroke="#e8f000" stroke-width="1.38" stroke-linejoin="round" opacity="1"/>
<polyline points="340.5,109.57 341.5,109.64 342.5,109.85 343.5,109.58 344.5,109.60 345.5,109.65 346.5,109.41 347.5,109.61 348.5,109.68 349.5,109.78 350.5,109.36 351.5,109.48 352.5,109.35 353.5,109.79 354.5,109.72 355.5,109.33 356.5,109.89 357.5,109.88 358.5,109.69 359.5,109.67 360.5,109.39 361.5,109.31 362.5,109.62 363.5,109.34 364.5,109.41 365.5,109.45 366.5,109.32 367.5,109.58 368.5,109.56 369.5,109.81 370.5,109.61 371.5,109.68 372.5,109.60 373.5,109.70 374.5,109.57 375.5,109.47 376.5,109.90 377.5,109.90 378.5,109.80 379.5,109.72 380.5,109.49 381.5,109.44 382.5,109.47 383.5,109.34 384.5,109.76 385.5,109.54 386.5,109.81 387.5,109.53 388.5,109.87 389.5,109.81 390.5,109.30 391.5,109.43 392.5,109.85 393.5,109.58 394.5,109.89 395.5,109.54 396.5,109.34 397.5,109.68 398.5,109.77 399.5,109.46 400.5,109.35 401.5,109.50 402.5,109.88 403.5,109.75 404.5,109.37 405.5,109.45 406.5,109.36 407.5,109.34 408.5,109.78 409.5,109.41 410.5,109.64 411.5,109.57 412.5,109.41 413.5,109.74 414.5,109.38 415.5,109.69 416.5,109.37 417.5,109.55 418.5,109.43 419.5,109.46 420.5,109.88 421.5,109.78 422.5,109.48 423.5,109.83 424.5,109.43 425.5,109.54 426.5,109.81 427.5,109.69 428.5,109.36 429.5,109.89 430.5,109.43 431.5,109.45 432.5,109.76 433.5,109.50 434.5,109.48 435.5,109.34 436.5,109.35 437.5,109.65 438.5,109.45 439.5,109.66 440.5,109.52 441.5,109.57 442.5,109.88 443.5,109.59 444.5,109.64 445.5,109.82 446.5,109.41 447.5,109.39 448.5,109.85 449.5,109.79 450.5,109.45 451.5,109.41 452.5,109.74 453.5,109.86 454.5,109.42 455.5,109.87 456.5,109.83 457.5,109.66 458.5,109.55 459.5,109.36 460.5,109.32 461.5,109.88 462.5,109.44 463.5,109.72 464.5,109.45 465.5,109.79 466.5,109.66 467.5,109.48 468.5,109.41 469.5,109.73 470.5,109.34 471.5,109.44 472.5,109.64 473.5,109.81 474.5,109.67 475.5,109.47 476.5,109.85 477.5,109.42 478.5,109.31 479.5,109.46 480.5,109.57 481.5,109.34 482.5,109.41 483.5,109.52 484.5,109.64 485.5,109.38 486.5,109.52 487.5,109.83 488.5,109.89 489.5,109.69 490.5,109.71 491.5,109.65 492.5,109.38 493.5,109.32 494.5,109.31 495.5,109.85 496.5,109.72 497.5,109.88 498.5,109.31 499.5,109.68 500.5,109.59 501.5,109.74 502.5,109.49 503.5,109.90 504.5,109.35 505.5,109.63 506.5,109.74 507.5,109.84 508.5,109.74 509.5,109.72 510.5,109.78 511.5,109.85 512.5,109.51 513.5,109.71 514.5,109.84 515.5,109.82 516.5,109.55 517.5,109.77 518.5,109.82 519.5,109.64 520.5,109.67 521.5,109.53 522.5,109.65 523.5,109.67 524.5,109.35 525.5,109.68 526.5,109.90 527.5,109.83 528.5,109.74 529.5,109.53 530.5,109.74 531.5,109.65 532.5,109.56 533.5,109.80 534.5,109.35 535.5,109.75 536.5,109.32 537.5,109.66 538.5,109.59 539.5,109.44 540.5,109.72 541.5,109.60 542.5,109.67 543.5,109.85 544.5,109.45 545.5,109.31 546.5,109.48 547.5,109.71 548.5,109.42 549.5,109.40 550.5,109.84 551.5,109.70 552.5,109.57 553.5,109.84 554.5,109.50 555.5,109.70 556.5,109.42 557.5,109.56 558.5,109.78 559.5,109.85 560.5,109.83 561.5,109.53 562.5,109.65 563.5,109.49 564.5,109.38 565.5,109.60 566.5,109.80 567.5,109.81 568.5,109.73 569.5,109.87 570.5,109.47 571.5,109.40 572.5,109.57 573.5,109.47 574.5,109.43 575.5,109.55 576.5,109.68 577.5,109.60 578.5,109.49 579.5,109.80 580.5,109.89 581.5,109.57 582.5,109.34 583.5,109.32 584.5,109.82 585.5,109.32 586.5,109.73 587.5,109.64 588.5,109.49 589.5,109.77 590.5,109.31 591.5,109.38 592.5,109.57 593.5,109.31 594.5,109.80 595.5,109.44 596.5,109.38 597.5,109.33 598.5,109.68 599.5,109.57 600.5,109.68 601.5,109.69 602.5,109.78 603.5,109.88 604.5,109.71 605.5,109.42 606.5,109.59 607.5,109.41 608.5,109.31 609.5,109.58 610.5,109.73 611.5,109.41 612.5,109.46 613.5,109.51 614.5,109.72 615.5,109.61 616.5,109.67 617.5,109.75 618.5,109.54 619.5,109.78 620.5,109.84 621.5,109.35 622.5,109.86 623.5,109.73 624.5,109.38 625.5,109.57 626.5,109.68 627.5,109.85 628.5,109.53 629.5,109.64 630.5,109.83 631.5,109.78 632.5,109.87 633.5,109.58 634.5,109.69" fill="none" stroke="#a23cf5" stroke-width="1.8399999999999999" stroke-linejoin="round" opacity="1"/>
<polyline points="340.5,108.95 341.5,109.02 342.5,109.01 343.5,108.71 344.5,108.61 345.5,108.76 346.5,108.67 347.5,108.90 348.5,108.81 349.5,108.73 350.5,108.67 351.5,108.68 352.5,108.39 353.5,108.50 354.5,108.33 355.5,108.66 356.5,108.20 357.5,108.55 358.5,108.14 359.5,108.41 360.5,108.20 361.5,108.20 362.5,108.38 363.5,107.93 364.5,107.92 365.5,108.31 366.5,108.07 367.5,107.82 368.5,108.23 369.5,108.18 370.5,107.73 371.5,107.84 372.5,107.66 373.5,107.72 374.5,107.84 375.5,107.57 376.5,107.80 377.5,107.44 378.5,107.47 379.5,107.75 380.5,107.51 381.5,107.48 382.5,107.53 383.5,107.44 384.5,107.36 385.5,107.14 386.5,107.46 387.5,107.54 388.5,107.51 389.5,107.32 390.5,107.13 391.5,107.09 392.5,107.22 393.5,107.18 394.5,106.85 395.5,106.85 396.5,106.83 397.5,106.81 398.5,106.84 399.5,106.56 400.5,106.20 401.5,106.47 402.5,106.17 403.5,106.13 404.5,105.92 405.5,105.99 406.5,105.97 407.5,106.18 408.5,105.85 409.5,106.09 410.5,105.92 411.5,106.19 412.5,105.87 413.5,106.00 414.5,106.05 415.5,106.20 416.5,105.92 417.5,106.14 418.5,106.02 419.5,106.07 420.5,106.18 421.5,106.44 422.5,106.21 423.5,106.46 424.5,106.07 425.5,106.47 426.5,106.20 427.5,106.12 428.5,106.41 429.5,106.51 430.5,106.07 431.5,106.21 432.5,106.47 433.5,106.27 434.5,106.23 435.5,106.12 436.5,106.15 437.5,106.44 438.5,106.63 439.5,106.63 440.5,106.38 441.5,106.13 442.5,106.26 443.5,106.49 444.5,106.50 445.5,106.39 446.5,106.18 447.5,106.31 448.5,106.28 449.5,106.34 450.5,106.15 451.5,106.48 452.5,106.44 453.5,106.07 454.5,106.12 455.5,106.40 456.5,106.09 457.5,106.42 458.5,106.19 459.5,106.27 460.5,106.27 461.5,106.01 462.5,106.03 463.5,106.01 464.5,106.21 465.5,106.21 466.5,105.92 467.5,106.28 468.5,106.04 469.5,105.94 470.5,106.03 471.5,106.29 472.5,106.07 473.5,106.09 474.5,106.22 475.5,106.22 476.5,106.08 477.5,105.86 478.5,105.89 479.5,105.98 480.5,105.86 481.5,105.70 482.5,105.52 483.5,105.47 484.5,105.59 485.5,105.44 486.5,105.10 487.5,105.39 488.5,105.42 489.5,105.31 490.5,105.31 491.5,105.30 492.5,105.13 493.5,105.30 494.5,105.17 495.5,105.12 496.5,105.34 497.5,105.42 498.5,105.82 499.5,105.79 500.5,105.81 501.5,105.94 502.5,105.79 503.5,106.08 504.5,106.26 505.5,106.20 506.5,106.22 507.5,106.39 508.5,106.44 509.5,106.72 510.5,106.54 511.5,106.61 512.5,106.81 513.5,107.09 514.5,107.22 515.5,107.26 516.5,107.49 517.5,107.30 518.5,107.21 519.5,107.48 520.5,107.47 521.5,107.31 522.5,107.50 523.5,107.27 524.5,107.14 525.5,107.11 526.5,107.35 527.5,106.81 528.5,106.91 529.5,106.80 530.5,106.69 531.5,106.73 532.5,106.55 533.5,106.83 534.5,106.55 535.5,106.57 536.5,106.23 537.5,106.31 538.5,106.31 539.5,106.35 540.5,106.00 541.5,106.07 542.5,106.25 543.5,106.26 544.5,106.00 545.5,106.21 546.5,106.37 547.5,106.24 548.5,106.43 549.5,106.48 550.5,106.69 551.5,106.53 552.5,106.65 553.5,106.54 554.5,106.78 555.5,106.63 556.5,106.77 557.5,106.76 558.5,106.78 559.5,106.75 560.5,106.85 561.5,107.06 562.5,106.97 563.5,106.92 564.5,107.35 565.5,107.15 566.5,107.52 567.5,107.41 568.5,107.36 569.5,107.65 570.5,107.71 571.5,107.44 572.5,107.33 573.5,107.56 574.5,107.60 575.5,107.42 576.5,107.44 577.5,107.19 578.5,107.23 579.5,106.98 580.5,106.99 581.5,106.91 582.5,106.84 583.5,106.78 584.5,106.92 585.5,106.53 586.5,106.49 587.5,106.44 588.5,106.74 589.5,106.44 590.5,106.14 591.5,106.47 592.5,106.42 593.5,106.33 594.5,106.04 595.5,106.19 596.5,105.96 597.5,105.89 598.5,106.28 599.5,106.30 600.5,106.03 601.5,106.40 602.5,106.02 603.5,106.20 604.5,106.09 605.5,106.21 606.5,106.24 607.5,106.56 608.5,106.39 609.5,106.37 610.5,106.41 611.5,106.51 612.5,106.82 613.5,106.74 614.5,106.52 615.5,106.85 616.5,106.82 617.5,106.81 618.5,106.89 619.5,106.99 620.5,107.10 621.5,107.00 622.5,107.10 623.5,107.06 624.5,107.18 625.5,107.09 626.5,107.15 627.5,107.24 628.5,107.37 629.5,107.19 630.5,107.56 631.5,107.38 632.5,107.60 633.5,107.54 634.5,107.69" fill="none" stroke="#7a2cf0" stroke-width="1.38" stroke-linejoin="round" opacity="1"/>
<polyline points="340.5,107.84 341.5,108.04 342.5,108.02 343.5,108.07 344.5,107.70 345.5,107.68 346.5,107.61 347.5,107.61 348.5,107.83 349.5,107.49 350.5,107.65 351.5,107.46 352.5,107.46 353.5,107.49 354.5,107.66 355.5,107.51 356.5,107.18 357.5,107.27 358.5,107.17 359.5,107.49 360.5,107.43 361.5,107.39 362.5,107.36 363.5,107.29 364.5,107.35 365.5,107.24 366.5,106.93 367.5,107.16 368.5,106.91 369.5,106.96 370.5,106.76 371.5,106.59 372.5,106.45 373.5,106.38 374.5,106.21 375.5,106.01 376.5,106.25 377.5,106.13 378.5,106.12 379.5,105.86 380.5,105.67 381.5,105.61 382.5,105.10 383.5,105.14 384.5,104.76 385.5,104.34 386.5,104.07 387.5,103.94 388.5,103.52 389.5,103.34 390.5,103.12 391.5,102.73 392.5,102.32 393.5,102.21 394.5,101.81 395.5,101.57 396.5,101.35 397.5,101.26 398.5,100.97 399.5,101.14 400.5,101.16 401.5,100.76 402.5,100.82 403.5,100.88 404.5,100.44 405.5,100.55 406.5,100.99 407.5,101.14 408.5,101.18 409.5,101.08 410.5,101.34 411.5,101.70 412.5,101.85 413.5,101.94 414.5,101.78 415.5,102.24 416.5,102.10 417.5,102.29 418.5,101.95 419.5,102.24 420.5,101.85 421.5,101.67 422.5,101.18 423.5,101.14 424.5,100.88 425.5,100.65 426.5,100.29 427.5,100.23 428.5,99.80 429.5,99.54 430.5,99.23 431.5,99.25 432.5,98.73 433.5,98.54 434.5,98.22 435.5,98.27 436.5,98.01 437.5,97.82 438.5,97.43 439.5,97.53 440.5,97.41 441.5,97.25 442.5,97.16 443.5,97.61 444.5,97.13 445.5,97.18 446.5,97.12 447.5,97.24 448.5,96.94 449.5,97.09 450.5,97.01 451.5,97.24 452.5,96.85 453.5,97.05 454.5,97.21 455.5,97.53 456.5,97.38 457.5,97.45 458.5,97.63 459.5,97.52 460.5,97.47 461.5,97.79 462.5,98.08 463.5,98.08 464.5,97.92 465.5,98.22 466.5,98.38 467.5,98.17 468.5,98.42 469.5,98.39 470.5,98.41 471.5,98.52 472.5,98.56 473.5,98.72 474.5,98.62 475.5,98.82 476.5,98.65 477.5,98.92 478.5,98.74 479.5,98.31 480.5,98.57 481.5,98.16 482.5,98.18 483.5,98.09 484.5,97.85 485.5,97.71 486.5,97.65 487.5,97.38 488.5,97.62 489.5,97.12 490.5,97.39 491.5,97.07 492.5,97.18 493.5,97.36 494.5,97.39 495.5,97.69 496.5,98.06 497.5,98.35 498.5,98.81 499.5,99.12 500.5,98.90 501.5,99.39 502.5,99.44 503.5,100.03 504.5,100.04 505.5,100.57 506.5,100.65 507.5,100.69 508.5,100.88 509.5,101.25 510.5,101.81 511.5,101.70 512.5,102.11 513.5,102.31 514.5,102.55 515.5,103.03 516.5,102.98 517.5,103.48 518.5,103.67 519.5,103.94 520.5,103.79 521.5,103.97 522.5,103.63 523.5,103.56 524.5,103.45 525.5,103.42 526.5,103.31 527.5,102.78 528.5,102.66 529.5,102.72 530.5,102.72 531.5,102.45 532.5,102.20 533.5,102.39 534.5,101.92 535.5,101.68 536.5,101.53 537.5,101.38 538.5,101.59 539.5,101.14 540.5,101.34 541.5,101.35 542.5,101.39 543.5,101.33 544.5,101.21 545.5,101.41 546.5,101.62 547.5,101.66 548.5,101.55 549.5,101.88 550.5,101.65 551.5,101.85 552.5,102.30 553.5,102.14 554.5,102.13 555.5,102.49 556.5,102.43 557.5,102.30 558.5,102.41 559.5,102.63 560.5,102.77 561.5,103.17 562.5,102.92 563.5,103.33 564.5,103.43 565.5,103.31 566.5,103.70 567.5,103.68 568.5,103.64 569.5,103.63 570.5,103.80 571.5,104.03 572.5,103.79 573.5,103.50 574.5,103.42 575.5,103.26 576.5,102.91 577.5,102.89 578.5,102.41 579.5,102.60 580.5,102.07 581.5,101.82 582.5,101.86 583.5,101.51 584.5,101.59 585.5,101.19 586.5,100.99 587.5,100.94 588.5,100.42 589.5,100.48 590.5,100.22 591.5,99.90 592.5,99.96 593.5,99.28 594.5,99.53 595.5,99.08 596.5,99.42 597.5,99.15 598.5,99.25 599.5,99.66 600.5,100.06 601.5,99.91 602.5,100.21 603.5,100.46 604.5,100.47 605.5,100.80 606.5,100.72 607.5,101.13 608.5,101.47 609.5,101.45 610.5,101.57 611.5,101.66 612.5,102.15 613.5,102.16 614.5,102.54 615.5,102.59 616.5,102.40 617.5,102.94 618.5,103.08 619.5,103.16 620.5,103.30 621.5,103.36 622.5,103.51 623.5,103.62 624.5,103.71 625.5,103.68 626.5,103.75 627.5,104.18 628.5,104.25 629.5,104.11 630.5,104.54 631.5,104.66 632.5,104.74 633.5,104.94 634.5,105.05" fill="none" stroke="#4040f0" stroke-width="1.4949999999999999" stroke-linejoin="round" opacity="1"/>
<polyline points="340.5,103.72 341.5,103.97 342.5,103.91 343.5,103.97 344.5,103.55 345.5,103.45 346.5,103.61 347.5,103.49 348.5,103.22 349.5,103.33 350.5,103.10 351.5,103.21 352.5,102.79 353.5,102.76 354.5,103.01 355.5,102.66 356.5,102.52 357.5,102.71 358.5,102.54 359.5,102.21 360.5,102.33 361.5,102.30 362.5,101.97 363.5,102.13 364.5,101.78 365.5,101.80 366.5,101.59 367.5,101.56 368.5,101.87 369.5,101.49 370.5,101.70 371.5,101.34 372.5,101.35 373.5,101.39 374.5,101.22 375.5,100.85 376.5,101.00 377.5,100.94 378.5,100.63 379.5,100.51 380.5,100.76 381.5,100.33 382.5,99.82 383.5,99.48 384.5,98.80 385.5,98.46 386.5,97.69 387.5,96.86 388.5,96.60 389.5,95.61 390.5,95.08 391.5,94.33 392.5,94.06 393.5,93.14 394.5,92.74 395.5,91.93 396.5,91.53 397.5,91.05 398.5,90.45 399.5,89.99 400.5,89.69 401.5,89.47 402.5,89.45 403.5,89.17 404.5,89.32 405.5,89.16 406.5,89.46 407.5,89.53 408.5,89.16 409.5,89.31 410.5,89.75 411.5,89.87 412.5,89.77 413.5,90.29 414.5,90.59 415.5,90.51 416.5,90.62 417.5,90.81 418.5,91.01 419.5,90.62 420.5,90.53 421.5,90.32 422.5,90.39 423.5,90.16 424.5,89.90 425.5,89.82 426.5,89.49 427.5,89.48 428.5,89.67 429.5,89.32 430.5,89.02 431.5,89.19 432.5,88.75 433.5,88.55 434.5,88.29 435.5,88.20 436.5,88.07 437.5,87.93 438.5,88.09 439.5,87.62 440.5,87.45 441.5,87.45 442.5,87.44 443.5,86.95 444.5,87.02 445.5,86.65 446.5,86.57 447.5,86.42 448.5,86.42 449.5,86.16 450.5,85.88 451.5,85.94 452.5,85.63 453.5,85.61 454.5,85.91 455.5,85.74 456.5,85.89 457.5,85.69 458.5,86.02 459.5,85.91 460.5,85.76 461.5,86.13 462.5,85.95 463.5,85.96 464.5,86.02 465.5,86.06 466.5,86.27 467.5,86.68 468.5,86.57 469.5,86.80 470.5,87.06 471.5,87.27 472.5,87.36 473.5,87.73 474.5,87.59 475.5,87.68 476.5,87.67 477.5,87.40 478.5,87.24 479.5,86.95 480.5,86.99 481.5,86.45 482.5,86.46 483.5,85.99 484.5,85.95 485.5,85.70 486.5,85.30 487.5,85.34 488.5,84.95 489.5,84.65 490.5,84.22 491.5,84.36 492.5,84.40 493.5,84.75 494.5,85.38 495.5,85.81 496.5,85.87 497.5,86.64 498.5,87.23 499.5,87.50 500.5,87.74 501.5,88.59 502.5,88.84 503.5,89.58 504.5,89.99 505.5,90.43 506.5,90.95 507.5,90.98 508.5,91.81 509.5,92.03 510.5,92.41 511.5,92.99 512.5,93.56 513.5,93.73 514.5,94.42 515.5,95.05 516.5,95.37 517.5,95.85 518.5,96.12 519.5,96.67 520.5,96.36 521.5,96.46 522.5,96.16 523.5,95.48 524.5,95.61 525.5,94.87 526.5,94.88 527.5,94.49 528.5,94.11 529.5,93.72 530.5,93.13 531.5,92.79 532.5,92.38 533.5,92.31 534.5,91.49 535.5,91.18 536.5,91.23 537.5,90.79 538.5,90.38 539.5,90.14 540.5,89.61 541.5,89.56 542.5,89.27 543.5,89.50 544.5,89.20 545.5,89.55 546.5,89.79 547.5,90.06 548.5,90.04 549.5,90.34 550.5,90.65 551.5,90.54 552.5,90.60 553.5,90.68 554.5,91.26 555.5,91.24 556.5,91.36 557.5,91.59 558.5,91.56 559.5,91.78 560.5,91.95 561.5,92.13 562.5,92.60 563.5,92.46 564.5,92.54 565.5,93.08 566.5,93.06 567.5,92.92 568.5,93.36 569.5,93.47 570.5,93.56 571.5,93.73 572.5,93.66 573.5,93.67 574.5,94.03 575.5,94.08 576.5,94.23 577.5,94.07 578.5,94.23 579.5,94.34 580.5,94.05 581.5,93.92 582.5,93.51 583.5,93.27 584.5,92.67 585.5,92.36 586.5,92.14 587.5,91.51 588.5,91.13 589.5,91.10 590.5,90.64 591.5,90.84 592.5,90.41 593.5,90.59 594.5,90.27 595.5,89.94 596.5,89.99 597.5,89.93 598.5,89.73 599.5,89.78 600.5,89.69 601.5,90.10 602.5,89.90 603.5,90.44 604.5,90.27 605.5,90.74 606.5,90.75 607.5,91.00 608.5,91.46 609.5,91.84 610.5,91.77 611.5,92.04 612.5,92.30 613.5,92.59 614.5,92.69 615.5,92.91 616.5,93.39 617.5,93.47 618.5,93.59 619.5,94.07 620.5,94.41 621.5,94.38 622.5,94.45 623.5,94.87 624.5,95.44 625.5,95.35 626.5,95.64 627.5,96.22 628.5,96.15 629.5,96.80 630.5,96.76 631.5,97.12 632.5,97.50 633.5,97.39 634.5,97.86" fill="none" stroke="#1a8cff" stroke-width="1.38" stroke-linejoin="round" opacity="1"/>
<polyline points="340.5,101.09 341.5,100.57 342.5,100.89 343.5,100.55 344.5,100.87 345.5,100.30 346.5,100.64 347.5,100.44 348.5,100.44 349.5,100.42 350.5,99.95 351.5,99.90 352.5,100.00 353.5,99.69 354.5,99.59 355.5,99.48 356.5,99.70 357.5,99.61 358.5,99.46 359.5,99.05 360.5,99.26 361.5,98.90 362.5,98.60 363.5,98.54 364.5,98.33 365.5,97.98 366.5,98.04 367.5,97.75 368.5,97.68 369.5,97.67 370.5,97.32 371.5,96.99 372.5,96.99 373.5,96.82 374.5,96.31 375.5,96.28 376.5,95.54 377.5,95.34 378.5,95.08 379.5,95.15 380.5,94.64 381.5,94.18 382.5,93.41 383.5,92.88 384.5,92.36 385.5,91.17 386.5,90.34 387.5,89.47 388.5,88.84 389.5,88.18 390.5,87.19 391.5,86.27 392.5,85.48 393.5,84.49 394.5,84.12 395.5,83.13 396.5,82.43 397.5,81.92 398.5,81.76 399.5,81.21 400.5,81.30 401.5,80.88 402.5,80.87 403.5,80.67 404.5,81.12 405.5,81.11 406.5,81.06 407.5,81.04 408.5,81.44 409.5,81.65 410.5,82.20 411.5,82.61 412.5,82.92 413.5,83.09 414.5,83.37 415.5,84.15 416.5,84.44 417.5,84.21 418.5,84.46 419.5,84.43 420.5,84.57 421.5,83.90 422.5,83.66 423.5,83.80 424.5,83.41 425.5,83.11 426.5,83.01 427.5,82.67 428.5,82.47 429.5,82.00 430.5,81.67 431.5,81.38 432.5,81.29 433.5,81.20 434.5,80.81 435.5,80.56 436.5,80.49 437.5,80.34 438.5,80.13 439.5,79.85 440.5,80.00 441.5,79.90 442.5,79.88 443.5,79.80 444.5,79.29 445.5,79.55 446.5,79.32 447.5,79.27 448.5,79.26 449.5,79.01 450.5,79.04 451.5,79.41 452.5,79.10 453.5,79.45 454.5,79.42 455.5,79.34 456.5,79.47 457.5,79.74 458.5,79.91 459.5,79.86 460.5,79.84 461.5,80.02 462.5,80.47 463.5,80.50 464.5,80.27 465.5,80.71 466.5,80.64 467.5,80.56 468.5,80.88 469.5,80.54 470.5,80.57 471.5,80.73 472.5,80.97 473.5,80.90 474.5,80.83 475.5,80.97 476.5,80.59 477.5,80.61 478.5,80.00 479.5,80.12 480.5,79.52 481.5,79.47 482.5,79.27 483.5,78.89 484.5,78.56 485.5,78.28 486.5,78.15 487.5,77.77 488.5,77.55 489.5,77.61 490.5,77.53 491.5,77.36 492.5,77.71 493.5,77.92 494.5,78.11 495.5,78.82 496.5,79.39 497.5,79.81 498.5,80.75 499.5,81.49 500.5,82.01 501.5,82.57 502.5,83.18 503.5,83.79 504.5,84.55 505.5,85.59 506.5,85.80 507.5,86.91 508.5,87.48 509.5,88.21 510.5,88.55 511.5,89.50 512.5,89.97 513.5,90.84 514.5,91.43 515.5,91.83 516.5,92.08 517.5,92.50 518.5,92.32 519.5,92.28 520.5,92.50 521.5,91.86 522.5,91.72 523.5,91.31 524.5,91.03 525.5,90.18 526.5,89.63 527.5,88.95 528.5,88.30 529.5,87.65 530.5,87.00 531.5,86.42 532.5,85.69 533.5,85.04 534.5,84.65 535.5,84.03 536.5,83.02 537.5,82.73 538.5,81.62 539.5,81.19 540.5,81.01 541.5,80.31 542.5,80.34 543.5,80.41 544.5,80.25 545.5,80.33 546.5,80.33 547.5,80.75 548.5,80.97 549.5,81.34 550.5,81.36 551.5,81.78 552.5,81.79 553.5,82.12 554.5,82.40 555.5,82.31 556.5,82.92 557.5,82.88 558.5,83.11 559.5,83.57 560.5,83.58 561.5,83.77 562.5,83.83 563.5,84.05 564.5,84.53 565.5,84.62 566.5,84.91 567.5,85.14 568.5,85.34 569.5,85.38 570.5,85.85 571.5,85.85 572.5,85.92 573.5,86.46 574.5,86.67 575.5,86.47 576.5,87.04 577.5,87.08 578.5,86.94 579.5,87.07 580.5,87.15 581.5,86.58 582.5,86.57 583.5,86.01 584.5,85.57 585.5,85.59 586.5,85.23 587.5,84.70 588.5,84.43 589.5,83.91 590.5,83.63 591.5,83.44 592.5,83.31 593.5,83.08 594.5,82.86 595.5,82.88 596.5,82.76 597.5,83.02 598.5,83.15 599.5,83.24 600.5,83.14 601.5,83.31 602.5,83.74 603.5,83.57 604.5,83.85 605.5,83.70 606.5,83.85 607.5,84.05 608.5,84.46 609.5,84.46 610.5,84.94 611.5,84.94 612.5,85.58 613.5,85.96 614.5,86.12 615.5,86.50 616.5,86.90 617.5,87.41 618.5,87.64 619.5,88.05 620.5,88.72 621.5,89.18 622.5,89.18 623.5,89.74 624.5,90.20 625.5,90.73 626.5,90.93 627.5,91.30 628.5,91.81 629.5,92.21 630.5,92.56 631.5,92.90 632.5,93.19 633.5,93.00 634.5,93.55" fill="none" stroke="#00d8ff" stroke-width="1.38" stroke-linejoin="round" opacity="1"/>
<polyline points="340.5,95.22 341.5,95.21 342.5,95.12 343.5,95.01 344.5,94.87 345.5,94.85 346.5,94.57 347.5,94.59 348.5,94.22 349.5,94.21 350.5,94.10 351.5,93.90 352.5,94.02 353.5,93.72 354.5,93.79 355.5,93.74 356.5,93.33 357.5,93.47 358.5,93.30 359.5,93.09 360.5,92.66 361.5,92.64 362.5,92.50 363.5,92.14 364.5,91.89 365.5,91.70 366.5,91.46 367.5,91.45 368.5,91.05 369.5,90.86 370.5,90.72 371.5,90.62 372.5,90.14 373.5,89.82 374.5,89.97 375.5,89.69 376.5,89.41 377.5,88.96 378.5,88.42 379.5,87.88 380.5,87.36 381.5,86.80 382.5,86.01 383.5,85.64 384.5,85.00 385.5,84.02 386.5,83.60 387.5,82.66 388.5,81.98 389.5,80.93 390.5,80.18 391.5,79.17 392.5,78.40 393.5,77.59 394.5,76.71 395.5,76.15 396.5,75.64 397.5,75.21 398.5,74.77 399.5,74.57 400.5,74.49 401.5,74.41 402.5,74.55 403.5,74.88 404.5,75.31 405.5,75.49 406.5,75.70 407.5,76.06 408.5,76.15 409.5,76.46 410.5,76.84 411.5,77.25 412.5,77.60 413.5,78.25 414.5,78.77 415.5,78.85 416.5,79.41 417.5,79.73 418.5,79.75 419.5,79.47 420.5,79.51 421.5,79.14 422.5,78.90 423.5,78.61 424.5,78.60 425.5,78.54 426.5,78.00 427.5,77.80 428.5,77.68 429.5,77.34 430.5,77.31 431.5,77.23 432.5,76.95 433.5,76.60 434.5,76.42 435.5,76.32 436.5,76.34 437.5,76.29 438.5,75.98 439.5,75.70 440.5,75.64 441.5,75.62 442.5,75.39 443.5,75.30 444.5,75.32 445.5,75.39 446.5,75.05 447.5,75.20 448.5,75.10 449.5,74.82 450.5,74.66 451.5,74.61 452.5,74.81 453.5,74.93 454.5,75.04 455.5,74.89 456.5,75.10 457.5,75.05 458.5,75.28 459.5,75.39 460.5,75.44 461.5,75.54 462.5,76.03 463.5,75.88 464.5,76.10 465.5,76.27 466.5,76.41 467.5,76.62 468.5,76.75 469.5,76.91 470.5,76.92 471.5,77.30 472.5,77.48 473.5,77.67 474.5,77.62 475.5,77.68 476.5,77.71 477.5,77.46 478.5,76.86 479.5,76.59 480.5,76.14 481.5,75.98 482.5,75.47 483.5,75.08 484.5,74.63 485.5,74.34 486.5,74.10 487.5,73.80 488.5,73.44 489.5,73.40 490.5,73.51 491.5,73.45 492.5,74.06 493.5,74.11 494.5,74.85 495.5,75.22 496.5,76.10 497.5,76.56 498.5,76.93 499.5,77.60 500.5,78.33 501.5,78.97 502.5,79.59 503.5,80.33 504.5,81.18 505.5,82.08 506.5,82.76 507.5,83.63 508.5,84.54 509.5,85.25 510.5,85.97 511.5,86.95 512.5,87.61 513.5,88.34 514.5,88.77 515.5,89.08 516.5,88.84 517.5,88.81 518.5,89.17 519.5,89.09 520.5,89.09 521.5,88.69 522.5,88.19 523.5,87.10 524.5,86.12 525.5,85.20 526.5,84.15 527.5,82.80 528.5,82.03 529.5,80.64 530.5,79.59 531.5,78.75 532.5,77.83 533.5,77.08 534.5,76.48 535.5,75.92 536.5,75.43 537.5,75.10 538.5,74.60 539.5,74.06 540.5,73.47 541.5,73.34 542.5,73.01 543.5,73.42 544.5,73.53 545.5,73.80 546.5,74.29 547.5,74.60 548.5,75.20 549.5,75.44 550.5,75.69 551.5,76.14 552.5,76.48 553.5,77.22 554.5,77.39 555.5,77.93 556.5,78.24 557.5,78.57 558.5,79.09 559.5,79.42 560.5,79.62 561.5,80.40 562.5,80.54 563.5,81.06 564.5,81.36 565.5,81.97 566.5,82.03 567.5,82.36 568.5,82.72 569.5,83.17 570.5,83.56 571.5,83.50 572.5,83.71 573.5,83.30 574.5,83.48 575.5,83.02 576.5,83.16 577.5,82.74 578.5,82.77 579.5,82.71 580.5,82.82 581.5,82.61 582.5,82.85 583.5,82.61 584.5,82.93 585.5,82.57 586.5,82.16 587.5,81.72 588.5,80.79 589.5,80.31 590.5,79.84 591.5,79.43 592.5,79.22 593.5,79.22 594.5,79.09 595.5,79.21 596.5,79.18 597.5,79.15 598.5,79.51 599.5,79.73 600.5,79.73 601.5,79.73 602.5,79.86 603.5,80.25 604.5,80.17 605.5,80.43 606.5,80.37 607.5,80.92 608.5,81.26 609.5,81.37 610.5,81.77 611.5,82.29 612.5,82.80 613.5,83.11 614.5,83.19 615.5,83.62 616.5,84.31 617.5,84.50 618.5,85.09 619.5,85.23 620.5,85.70 621.5,85.74 622.5,86.29 623.5,86.33 624.5,86.39 625.5,86.71 626.5,86.90 627.5,87.28 628.5,87.73 629.5,87.98 630.5,88.21 631.5,88.24 632.5,88.62 633.5,88.74 634.5,88.89" fill="none" stroke="#00f090" stroke-width="1.0924999999999998" stroke-linejoin="round" opacity="1"/>
<polyline points="340.5,94.59 341.5,94.64 342.5,94.64 343.5,94.25 344.5,94.31 345.5,94.17 346.5,94.03 347.5,93.68 348.5,93.53 349.5,93.55 350.5,93.57 351.5,93.25 352.5,93.22 353.5,93.03 354.5,93.12 355.5,93.03 356.5,92.69 357.5,92.81 358.5,92.30 359.5,92.45 360.5,92.30 361.5,91.82 362.5,91.83 363.5,91.55 364.5,91.48 365.5,90.96 366.5,90.87 367.5,90.79 368.5,90.47 369.5,90.11 370.5,89.80 371.5,89.92 372.5,89.51 373.5,89.50 374.5,88.93 375.5,88.98 376.5,88.72 377.5,88.42 378.5,87.63 379.5,87.27 380.5,86.56 381.5,86.21 382.5,85.43 383.5,85.05 384.5,84.16 385.5,83.62 386.5,82.91 387.5,81.86 388.5,81.14 389.5,80.42 390.5,79.37 391.5,78.43 392.5,77.56 393.5,77.00 394.5,76.08 395.5,75.63 396.5,75.07 397.5,74.57 398.5,73.98 399.5,73.91 400.5,73.89 401.5,73.68 402.5,73.86 403.5,74.34 404.5,74.46 405.5,74.58 406.5,74.74 407.5,75.34 408.5,75.50 409.5,75.90 410.5,76.21 411.5,76.75 412.5,77.19 413.5,77.42 414.5,77.73 415.5,78.49 416.5,78.80 417.5,78.66 418.5,78.97 419.5,78.99 420.5,78.72 421.5,78.63 422.5,78.51 423.5,78.14 424.5,77.85 425.5,77.55 426.5,77.36 427.5,77.10 428.5,76.87 429.5,76.71 430.5,76.77 431.5,76.46 432.5,76.38 433.5,76.26 434.5,76.04 435.5,75.56 436.5,75.74 437.5,75.25 438.5,75.39 439.5,75.29 440.5,75.11 441.5,74.91 442.5,74.68 443.5,74.58 444.5,74.70 445.5,74.45 446.5,74.46 447.5,74.26 448.5,74.12 449.5,74.07 450.5,74.16 451.5,74.03 452.5,74.00 453.5,74.09 454.5,74.21 455.5,74.31 456.5,74.40 457.5,74.73 458.5,74.76 459.5,74.67 460.5,74.82 461.5,74.88 462.5,75.08 463.5,75.07 464.5,75.50 465.5,75.58 466.5,75.69 467.5,76.04 468.5,75.98 469.5,76.25 470.5,76.56 471.5,76.57 472.5,76.76 473.5,76.83 474.5,77.19 475.5,77.10 476.5,76.81 477.5,76.61 478.5,76.38 479.5,75.97 480.5,75.58 481.5,75.07 482.5,74.84 483.5,74.51 484.5,74.15 485.5,73.64 486.5,73.29 487.5,73.05 488.5,72.87 489.5,72.73 490.5,72.56 491.5,72.83 492.5,73.40 493.5,73.73 494.5,74.09 495.5,74.76 496.5,75.10 497.5,75.69 498.5,76.35 499.5,76.98 500.5,77.30 501.5,78.12 502.5,78.99 503.5,79.62 504.5,80.58 505.5,81.06 506.5,82.21 507.5,83.02 508.5,83.53 509.5,84.56 510.5,85.49 511.5,86.11 512.5,87.03 513.5,87.69 514.5,88.08 515.5,88.19 516.5,88.12 517.5,88.32 518.5,88.18 519.5,88.32 520.5,88.10 521.5,87.80 522.5,87.33 523.5,86.67 524.5,85.74 525.5,84.41 526.5,83.15 527.5,82.35 528.5,81.09 529.5,80.15 530.5,79.14 531.5,77.89 532.5,77.35 533.5,76.46 534.5,75.88 535.5,75.34 536.5,74.89 537.5,74.23 538.5,73.79 539.5,73.16 540.5,72.65 541.5,72.44 542.5,72.54 543.5,72.50 544.5,72.74 545.5,73.20 546.5,73.52 547.5,74.22 548.5,74.52 549.5,74.65 550.5,75.10 551.5,75.54 552.5,75.96 553.5,76.29 554.5,76.73 555.5,77.22 556.5,77.37 557.5,77.93 558.5,78.17 559.5,78.71 560.5,79.03 561.5,79.62 562.5,80.05 563.5,80.48 564.5,80.66 565.5,81.13 566.5,81.33 567.5,81.92 568.5,82.31 569.5,82.48 570.5,82.65 571.5,82.93 572.5,82.93 573.5,82.86 574.5,82.51 575.5,82.35 576.5,82.21 577.5,82.04 578.5,81.84 579.5,81.81 580.5,81.93 581.5,81.92 582.5,82.16 583.5,82.04 584.5,81.94 585.5,82.03 586.5,81.27 587.5,80.76 588.5,80.27 589.5,79.49 590.5,79.29 591.5,78.91 592.5,78.59 593.5,78.69 594.5,78.65 595.5,78.48 596.5,78.37 597.5,78.45 598.5,78.86 599.5,79.02 600.5,79.05 601.5,79.22 602.5,79.35 603.5,79.26 604.5,79.37 605.5,79.79 606.5,79.98 607.5,80.07 608.5,80.31 609.5,80.59 610.5,81.11 611.5,81.69 612.5,81.80 613.5,82.23 614.5,82.50 615.5,83.10 616.5,83.28 617.5,83.91 618.5,84.21 619.5,84.52 620.5,84.77 621.5,85.07 622.5,85.56 623.5,85.82 624.5,85.99 625.5,86.01 626.5,86.25 627.5,86.56 628.5,87.00 629.5,87.27 630.5,87.23 631.5,87.63 632.5,87.77 633.5,87.92 634.5,87.94" fill="none" stroke="#40e010" stroke-width="1.0924999999999998" stroke-linejoin="round" opacity="1"/>
<polyline points="340.5,93.75 341.5,93.88 342.5,93.69 343.5,93.51 344.5,93.50 345.5,93.38 346.5,93.25 347.5,93.12 348.5,92.92 349.5,92.79 350.5,92.85 351.5,92.58 352.5,92.59 353.5,92.51 354.5,92.42 355.5,92.33 356.5,91.92 357.5,91.80 358.5,91.87 359.5,91.65 360.5,91.33 361.5,91.33 362.5,91.19 363.5,90.96 364.5,90.49 365.5,90.30 366.5,89.96 367.5,90.12 368.5,89.60 369.5,89.58 370.5,89.28 371.5,89.08 372.5,88.83 373.5,88.73 374.5,88.42 375.5,88.08 376.5,87.74 377.5,87.54 378.5,87.30 379.5,86.48 380.5,86.11 381.5,85.46 382.5,84.65 383.5,84.05 384.5,83.59 385.5,82.79 386.5,82.03 387.5,81.25 388.5,80.25 389.5,79.62 390.5,78.70 391.5,77.80 392.5,76.89 393.5,76.31 394.5,75.63 395.5,74.91 396.5,74.19 397.5,73.71 398.5,73.29 399.5,72.98 400.5,73.08 401.5,73.07 402.5,73.11 403.5,73.64 404.5,73.78 405.5,74.09 406.5,74.37 407.5,74.61 408.5,74.87 409.5,75.41 410.5,75.45 411.5,76.08 412.5,76.55 413.5,76.79 414.5,77.33 415.5,77.47 416.5,77.90 417.5,78.06 418.5,78.20 419.5,78.29 420.5,77.92 421.5,77.78 422.5,77.76 423.5,77.33 424.5,77.04 425.5,77.17 426.5,76.77 427.5,76.35 428.5,76.36 429.5,75.98 430.5,75.79 431.5,75.84 432.5,75.62 433.5,75.36 434.5,75.22 435.5,75.06 436.5,74.85 437.5,74.56 438.5,74.69 439.5,74.57 440.5,74.32 441.5,74.21 442.5,74.19 443.5,74.04 444.5,73.92 445.5,74.00 446.5,73.91 447.5,73.51 448.5,73.42 449.5,73.56 450.5,73.55 451.5,73.43 452.5,73.26 453.5,73.22 454.5,73.62 455.5,73.78 456.5,73.83 457.5,73.94 458.5,74.15 459.5,74.08 460.5,74.36 461.5,74.21 462.5,74.26 463.5,74.70 464.5,74.78 465.5,74.97 466.5,74.87 467.5,75.10 468.5,75.38 469.5,75.34 470.5,75.61 471.5,75.89 472.5,76.19 473.5,76.27 474.5,76.25 475.5,76.26 476.5,76.19 477.5,76.07 478.5,75.84 479.5,75.06 480.5,75.05 481.5,74.61 482.5,73.93 483.5,73.63 484.5,73.25 485.5,72.84 486.5,72.48 487.5,72.20 488.5,72.22 489.5,72.01 490.5,71.90 491.5,72.36 492.5,72.64 493.5,72.80 494.5,73.53 495.5,74.07 496.5,74.53 497.5,74.92 498.5,75.72 499.5,76.35 500.5,76.94 501.5,77.61 502.5,77.99 503.5,79.07 504.5,79.52 505.5,80.46 506.5,81.37 507.5,82.24 508.5,83.03 509.5,84.01 510.5,84.79 511.5,85.66 512.5,86.34 513.5,86.83 514.5,87.07 515.5,87.58 516.5,87.77 517.5,87.48 518.5,87.80 519.5,87.41 520.5,87.45 521.5,87.26 522.5,86.70 523.5,85.87 524.5,84.76 525.5,83.65 526.5,82.51 527.5,81.61 528.5,80.26 529.5,79.20 530.5,78.39 531.5,77.35 532.5,76.36 533.5,75.82 534.5,75.42 535.5,74.71 536.5,74.08 537.5,73.48 538.5,73.09 539.5,72.45 540.5,72.01 541.5,71.66 542.5,71.81 543.5,71.99 544.5,72.17 545.5,72.59 546.5,72.85 547.5,73.52 548.5,73.62 549.5,74.26 550.5,74.28 551.5,74.93 552.5,75.40 553.5,75.66 554.5,75.91 555.5,76.28 556.5,77.00 557.5,77.40 558.5,77.49 559.5,77.96 560.5,78.53 561.5,78.95 562.5,79.01 563.5,79.62 564.5,79.90 565.5,80.22 566.5,80.84 567.5,81.13 568.5,81.38 569.5,81.91 570.5,81.95 571.5,82.03 572.5,82.05 573.5,81.92 574.5,82.03 575.5,81.68 576.5,81.78 577.5,81.54 578.5,81.35 579.5,81.42 580.5,81.18 581.5,81.06 582.5,81.37 583.5,81.22 584.5,81.55 585.5,81.35 586.5,80.70 587.5,79.96 588.5,79.65 589.5,78.76 590.5,78.60 591.5,78.10 592.5,78.12 593.5,77.99 594.5,77.64 595.5,77.70 596.5,77.79 597.5,77.79 598.5,78.21 599.5,78.05 600.5,78.18 601.5,78.29 602.5,78.40 603.5,78.79 604.5,78.67 605.5,78.97 606.5,78.99 607.5,79.52 608.5,79.82 609.5,80.24 610.5,80.27 611.5,80.90 612.5,81.31 613.5,81.54 614.5,82.06 615.5,82.30 616.5,82.79 617.5,83.28 618.5,83.64 619.5,83.78 620.5,84.07 621.5,84.63 622.5,84.60 623.5,84.93 624.5,85.15 625.5,85.37 626.5,85.68 627.5,85.76 628.5,86.14 629.5,86.46 630.5,86.77 631.5,86.87 632.5,87.01 633.5,87.15 634.5,87.23" fill="none" stroke="#e8f000" stroke-width="1.0924999999999998" stroke-linejoin="round" opacity="1"/>
<polyline points="340.5,93.35 341.5,93.33 342.5,93.16 343.5,93.04 344.5,92.87 345.5,92.98 346.5,92.58 347.5,92.40 348.5,92.32 349.5,92.20 350.5,92.10 351.5,91.95 352.5,91.77 353.5,91.73 354.5,91.60 355.5,91.58 356.5,91.31 357.5,91.14 358.5,91.06 359.5,91.04 360.5,90.80 361.5,90.75 362.5,90.57 363.5,90.19 364.5,89.84 365.5,89.87 366.5,89.66 367.5,89.29 368.5,89.17 369.5,88.81 370.5,88.83 371.5,88.58 372.5,88.34 373.5,88.18 374.5,87.67 375.5,87.57 376.5,87.39 377.5,87.07 378.5,86.48 379.5,85.88 380.5,85.49 381.5,84.65 382.5,84.27 383.5,83.37 384.5,82.89 385.5,82.20 386.5,81.31 387.5,80.65 388.5,79.81 389.5,78.89 390.5,78.22 391.5,77.33 392.5,76.51 393.5,75.49 394.5,74.71 395.5,74.24 396.5,73.60 397.5,73.33 398.5,72.73 399.5,72.40 400.5,72.34 401.5,72.41 402.5,72.72 403.5,72.86 404.5,73.05 405.5,73.45 406.5,73.46 407.5,73.82 408.5,74.33 409.5,74.72 410.5,74.84 411.5,75.23 412.5,75.80 413.5,76.26 414.5,76.41 415.5,76.97 416.5,77.25 417.5,77.39 418.5,77.51 419.5,77.53 420.5,77.45 421.5,77.09 422.5,77.07 423.5,76.96 424.5,76.67 425.5,76.20 426.5,76.22 427.5,76.00 428.5,75.53 429.5,75.48 430.5,75.39 431.5,75.32 432.5,75.13 433.5,74.82 434.5,74.65 435.5,74.62 436.5,74.15 437.5,74.12 438.5,73.80 439.5,73.97 440.5,73.81 441.5,73.53 442.5,73.43 443.5,73.46 444.5,73.45 445.5,73.10 446.5,73.08 447.5,73.06 448.5,72.85 449.5,73.00 450.5,72.86 451.5,72.92 452.5,72.80 453.5,72.87 454.5,72.81 455.5,73.01 456.5,73.10 457.5,73.23 458.5,73.18 459.5,73.61 460.5,73.45 461.5,73.69 462.5,74.00 463.5,73.97 464.5,74.25 465.5,74.16 466.5,74.40 467.5,74.54 468.5,74.68 469.5,74.86 470.5,75.06 471.5,75.39 472.5,75.61 473.5,75.42 474.5,75.76 475.5,75.71 476.5,75.55 477.5,75.19 478.5,74.99 479.5,74.59 480.5,74.22 481.5,73.93 482.5,73.46 483.5,73.04 484.5,72.65 485.5,72.55 486.5,71.97 487.5,71.93 488.5,71.42 489.5,71.50 490.5,71.48 491.5,71.71 492.5,71.91 493.5,72.45 494.5,72.84 495.5,73.18 496.5,73.99 497.5,74.53 498.5,74.94 499.5,75.69 500.5,76.32 501.5,76.74 502.5,77.39 503.5,78.19 504.5,79.12 505.5,79.89 506.5,80.58 507.5,81.56 508.5,82.44 509.5,83.28 510.5,84.02 511.5,85.03 512.5,85.74 513.5,86.15 514.5,86.61 515.5,87.09 516.5,86.89 517.5,86.98 518.5,86.92 519.5,87.03 520.5,87.01 521.5,86.41 522.5,85.89 523.5,85.07 524.5,84.10 525.5,83.16 526.5,82.05 527.5,81.13 528.5,79.83 529.5,78.76 530.5,77.52 531.5,76.66 532.5,75.88 533.5,75.14 534.5,74.77 535.5,74.08 536.5,73.42 537.5,73.04 538.5,72.35 539.5,71.82 540.5,71.55 541.5,71.07 542.5,71.27 543.5,71.25 544.5,71.39 545.5,72.02 546.5,72.52 547.5,72.82 548.5,73.24 549.5,73.67 550.5,73.79 551.5,74.26 552.5,74.75 553.5,74.99 554.5,75.61 555.5,75.78 556.5,76.01 557.5,76.44 558.5,76.97 559.5,77.21 560.5,77.84 561.5,78.40 562.5,78.77 563.5,79.19 564.5,79.30 565.5,79.66 566.5,79.99 567.5,80.71 568.5,80.71 569.5,81.04 570.5,81.49 571.5,81.71 572.5,81.55 573.5,81.26 574.5,81.11 575.5,81.28 576.5,81.08 577.5,80.79 578.5,80.93 579.5,80.58 580.5,80.49 581.5,80.83 582.5,80.53 583.5,80.74 584.5,80.65 585.5,80.62 586.5,80.14 587.5,79.43 588.5,78.92 589.5,78.10 590.5,78.00 591.5,77.62 592.5,77.25 593.5,77.28 594.5,77.09 595.5,77.20 596.5,77.14 597.5,77.20 598.5,77.43 599.5,77.39 600.5,77.88 601.5,77.93 602.5,77.83 603.5,78.10 604.5,78.06 605.5,78.21 606.5,78.49 607.5,78.88 608.5,78.93 609.5,79.64 610.5,79.75 611.5,80.10 612.5,80.61 613.5,81.16 614.5,81.35 615.5,81.78 616.5,82.35 617.5,82.55 618.5,82.85 619.5,83.13 620.5,83.57 621.5,83.90 622.5,84.14 623.5,84.22 624.5,84.39 625.5,85.01 626.5,85.14 627.5,85.45 628.5,85.69 629.5,85.76 630.5,85.91 631.5,86.46 632.5,86.68 633.5,86.46 634.5,86.81" fill="none" stroke="#ff9a00" stroke-width="1.0924999999999998" stroke-linejoin="round" opacity="1"/>
<polyline points="340.5,92.94 341.5,92.79 342.5,92.76 343.5,92.69 344.5,92.31 345.5,92.34 346.5,92.32 347.5,92.19 348.5,91.94 349.5,91.66 350.5,91.63 351.5,91.74 352.5,91.26 353.5,91.23 354.5,91.36 355.5,91.03 356.5,90.81 357.5,90.73 358.5,90.84 359.5,90.46 360.5,90.32 361.5,90.21 362.5,90.07 363.5,89.72 364.5,89.33 365.5,89.31 366.5,88.87 367.5,88.67 368.5,88.49 369.5,88.47 370.5,88.08 371.5,88.02 372.5,87.59 373.5,87.35 374.5,87.09 375.5,87.14 376.5,86.94 377.5,86.34 378.5,85.92 379.5,85.33 380.5,85.00 381.5,84.23 382.5,83.54 383.5,83.12 384.5,82.45 385.5,81.69 386.5,80.82 387.5,80.22 388.5,79.33 389.5,78.41 390.5,77.43 391.5,76.86 392.5,76.00 393.5,75.16 394.5,74.60 395.5,73.82 396.5,73.19 397.5,72.60 398.5,72.37 399.5,72.06 400.5,71.90 401.5,72.15 402.5,72.26 403.5,72.22 404.5,72.78 405.5,72.68 406.5,73.20 407.5,73.36 408.5,73.85 409.5,74.30 410.5,74.51 411.5,75.01 412.5,75.12 413.5,75.77 414.5,75.95 415.5,76.48 416.5,76.77 417.5,76.88 418.5,77.24 419.5,76.95 420.5,76.86 421.5,76.58 422.5,76.59 423.5,76.23 424.5,75.91 425.5,75.69 426.5,75.55 427.5,75.44 428.5,75.03 429.5,74.83 430.5,74.90 431.5,74.65 432.5,74.32 433.5,74.21 434.5,73.96 435.5,73.85 436.5,73.73 437.5,73.50 438.5,73.36 439.5,73.25 440.5,73.17 441.5,73.17 442.5,73.20 443.5,73.01 444.5,72.83 445.5,72.55 446.5,72.53 447.5,72.60 448.5,72.41 449.5,72.49 450.5,72.44 451.5,72.16 452.5,72.19 453.5,72.22 454.5,72.46 455.5,72.35 456.5,72.54 457.5,72.89 458.5,72.81 459.5,73.16 460.5,73.05 461.5,73.34 462.5,73.32 463.5,73.30 464.5,73.63 465.5,73.64 466.5,74.08 467.5,74.16 468.5,74.26 469.5,74.59 470.5,74.60 471.5,74.94 472.5,75.00 473.5,74.95 474.5,75.11 475.5,75.34 476.5,74.93 477.5,75.06 478.5,74.36 479.5,74.26 480.5,73.82 481.5,73.35 482.5,73.05 483.5,72.66 484.5,72.19 485.5,71.77 486.5,71.33 487.5,71.31 488.5,71.21 489.5,70.89 490.5,71.10 491.5,71.08 492.5,71.31 493.5,71.92 494.5,72.47 495.5,72.70 496.5,73.57 497.5,73.91 498.5,74.65 499.5,75.02 500.5,75.88 501.5,76.26 502.5,76.91 503.5,77.60 504.5,78.44 505.5,79.25 506.5,80.38 507.5,80.89 508.5,81.76 509.5,82.65 510.5,83.44 511.5,84.53 512.5,84.97 513.5,85.82 514.5,86.11 515.5,86.28 516.5,86.39 517.5,86.51 518.5,86.40 519.5,86.46 520.5,86.35 521.5,86.07 522.5,85.59 523.5,84.66 524.5,83.79 525.5,82.74 526.5,81.47 527.5,80.56 528.5,79.18 529.5,78.25 530.5,77.15 531.5,76.12 532.5,75.52 533.5,74.89 534.5,74.14 535.5,73.55 536.5,73.23 537.5,72.73 538.5,72.04 539.5,71.47 540.5,71.06 541.5,70.82 542.5,70.74 543.5,70.79 544.5,71.17 545.5,71.55 546.5,71.89 547.5,72.23 548.5,72.56 549.5,72.88 550.5,73.38 551.5,73.69 552.5,74.14 553.5,74.41 554.5,75.09 555.5,75.16 556.5,75.86 557.5,76.13 558.5,76.66 559.5,77.05 560.5,77.17 561.5,77.61 562.5,78.30 563.5,78.56 564.5,78.73 565.5,79.19 566.5,79.50 567.5,79.96 568.5,80.23 569.5,80.53 570.5,80.74 571.5,81.02 572.5,81.12 573.5,80.94 574.5,80.86 575.5,80.71 576.5,80.36 577.5,80.44 578.5,80.24 579.5,80.13 580.5,80.32 581.5,80.13 582.5,80.28 583.5,80.40 584.5,80.27 585.5,79.92 586.5,79.52 587.5,78.94 588.5,78.24 589.5,77.72 590.5,77.14 591.5,77.12 592.5,76.97 593.5,76.80 594.5,76.53 595.5,76.56 596.5,76.87 597.5,76.96 598.5,77.03 599.5,77.21 600.5,77.07 601.5,77.23 602.5,77.41 603.5,77.55 604.5,77.63 605.5,77.74 606.5,78.17 607.5,78.17 608.5,78.63 609.5,79.09 610.5,79.21 611.5,79.66 612.5,80.07 613.5,80.41 614.5,81.05 615.5,81.42 616.5,81.51 617.5,81.87 618.5,82.45 619.5,82.75 620.5,82.88 621.5,83.49 622.5,83.75 623.5,83.87 624.5,83.92 625.5,84.20 626.5,84.70 627.5,84.88 628.5,85.03 629.5,85.47 630.5,85.35 631.5,85.85 632.5,86.15 633.5,86.27 634.5,86.10" fill="none" stroke="#ff5a10" stroke-width="1.0924999999999998" stroke-linejoin="round" opacity="1"/>
<polyline points="340.5,92.14 341.5,92.29 342.5,92.21 343.5,92.02 344.5,91.79 345.5,91.90 346.5,91.78 347.5,91.54 348.5,91.42 349.5,91.19 350.5,90.97 351.5,90.99 352.5,90.96 353.5,90.63 354.5,90.79 355.5,90.45 356.5,90.32 357.5,90.12 358.5,90.37 359.5,90.12 360.5,90.00 361.5,89.70 362.5,89.26 363.5,89.15 364.5,89.00 365.5,88.62 366.5,88.74 367.5,88.28 368.5,87.97 369.5,88.02 370.5,87.52 371.5,87.62 372.5,87.20 373.5,87.02 374.5,86.71 375.5,86.55 376.5,86.17 377.5,85.76 378.5,85.67 379.5,84.92 380.5,84.55 381.5,83.70 382.5,83.38 383.5,82.72 384.5,82.01 385.5,81.32 386.5,80.49 387.5,79.75 388.5,78.66 389.5,77.93 390.5,77.19 391.5,76.07 392.5,75.52 393.5,74.74 394.5,73.86 395.5,73.23 396.5,72.73 397.5,72.20 398.5,72.02 399.5,71.50 400.5,71.24 401.5,71.29 402.5,71.71 403.5,72.07 404.5,72.12 405.5,72.37 406.5,72.66 407.5,73.03 408.5,73.15 409.5,73.66 410.5,74.02 411.5,74.45 412.5,74.67 413.5,75.07 414.5,75.54 415.5,76.17 416.5,76.28 417.5,76.59 418.5,76.57 419.5,76.45 420.5,76.28 421.5,76.37 422.5,76.14 423.5,75.76 424.5,75.67 425.5,75.45 426.5,75.32 427.5,75.12 428.5,74.69 429.5,74.72 430.5,74.51 431.5,74.18 432.5,74.12 433.5,73.78 434.5,73.56 435.5,73.34 436.5,73.42 437.5,72.98 438.5,72.81 439.5,72.98 440.5,72.86 441.5,72.64 442.5,72.68 443.5,72.27 444.5,72.25 445.5,72.17 446.5,72.12 447.5,71.92 448.5,71.78 449.5,71.79 450.5,71.93 451.5,71.93 452.5,71.84 453.5,71.79 454.5,71.79 455.5,72.19 456.5,72.14 457.5,72.33 458.5,72.17 459.5,72.36 460.5,72.73 461.5,72.83 462.5,72.98 463.5,73.00 464.5,73.07 465.5,73.29 466.5,73.56 467.5,73.51 468.5,73.76 469.5,73.83 470.5,74.19 471.5,74.05 472.5,74.49 473.5,74.76 474.5,74.50 475.5,74.73 476.5,74.65 477.5,74.51 478.5,74.08 479.5,73.56 480.5,73.24 481.5,73.08 482.5,72.67 483.5,71.98 484.5,71.58 485.5,71.20 486.5,70.82 487.5,70.72 488.5,70.41 489.5,70.59 490.5,70.52 491.5,70.47 492.5,70.92 493.5,71.23 494.5,71.80 495.5,72.25 496.5,72.79 497.5,73.35 498.5,73.99 499.5,74.68 500.5,75.21 501.5,75.65 502.5,76.61 503.5,77.43 504.5,78.19 505.5,79.03 506.5,79.55 507.5,80.57 508.5,81.24 509.5,82.36 510.5,82.95 511.5,84.00 512.5,84.57 513.5,85.33 514.5,85.59 515.5,85.73 516.5,85.96 517.5,85.92 518.5,86.16 519.5,85.92 520.5,85.89 521.5,85.58 522.5,85.19 523.5,84.08 524.5,83.29 525.5,82.15 526.5,81.14 527.5,80.14 528.5,78.77 529.5,77.83 530.5,76.72 531.5,75.80 532.5,74.78 533.5,74.37 534.5,73.84 535.5,73.05 536.5,72.50 537.5,72.23 538.5,71.33 539.5,70.78 540.5,70.33 541.5,70.37 542.5,70.27 543.5,70.25 544.5,70.61 545.5,70.76 546.5,71.39 547.5,71.70 548.5,72.11 549.5,72.45 550.5,72.84 551.5,73.15 552.5,73.47 553.5,74.01 554.5,74.32 555.5,74.89 556.5,75.33 557.5,75.69 558.5,75.98 559.5,76.29 560.5,76.75 561.5,77.19 562.5,77.65 563.5,78.19 564.5,78.23 565.5,78.78 566.5,79.16 567.5,79.62 568.5,80.06 569.5,80.32 570.5,80.47 571.5,80.63 572.5,80.60 573.5,80.58 574.5,80.37 575.5,80.22 576.5,79.90 577.5,80.03 578.5,79.69 579.5,79.71 580.5,79.76 581.5,79.83 582.5,79.90 583.5,79.59 584.5,79.70 585.5,79.48 586.5,79.10 587.5,78.39 588.5,77.89 589.5,77.09 590.5,76.73 591.5,76.69 592.5,76.46 593.5,76.23 594.5,76.02 595.5,76.35 596.5,76.30 597.5,76.19 598.5,76.37 599.5,76.62 600.5,76.76 601.5,76.72 602.5,77.12 603.5,76.99 604.5,77.09 605.5,77.48 606.5,77.40 607.5,77.87 608.5,77.98 609.5,78.50 610.5,78.76 611.5,79.18 612.5,79.79 613.5,79.99 614.5,80.36 615.5,80.82 616.5,81.07 617.5,81.41 618.5,81.86 619.5,82.16 620.5,82.44 621.5,83.03 622.5,82.92 623.5,83.47 624.5,83.76 625.5,83.91 626.5,83.88 627.5,84.31 628.5,84.37 629.5,84.84 630.5,85.11 631.5,85.17 632.5,85.32 633.5,85.66 634.5,85.60" fill="none" stroke="#ff2a00" stroke-width="1.0924999999999998" stroke-linejoin="round" opacity="1"/>
<polyline points="19.5,239.01 20.5,239.05 21.5,239.09 22.5,239.13 23.5,239.25 24.5,239.36 25.5,239.47 26.5,239.59 27.5,239.70 28.5,239.82 29.5,239.60 30.5,239.38 31.5,239.17 32.5,239.16 33.5,239.15 34.5,239.15 35.5,239.22 36.5,239.29 37.5,239.36 38.5,239.59 39.5,239.82 40.5,240.05 41.5,239.82 42.5,239.60 43.5,239.38 44.5,239.63 45.5,239.89 46.5,240.15 47.5,240.14 48.5,240.12 49.5,239.99 50.5,239.69 51.5,239.39 52.5,239.09 53.5,239.16 54.5,239.23 55.5,239.30 56.5,239.17 57.5,239.02 58.5,238.82 59.5,238.63 60.5,238.45 61.5,238.27 62.5,238.33 63.5,238.51 64.5,238.86 65.5,238.62 66.5,238.38 67.5,238.13 68.5,238.22 69.5,238.34 70.5,238.50 71.5,239.05 72.5,239.60 73.5,240.00 74.5,238.56 75.5,237.11 76.5,235.83 77.5,236.25 78.5,236.67 79.5,237.09 80.5,237.64 81.5,238.19 82.5,238.75 83.5,239.26 84.5,239.77 85.5,240.06 86.5,240.04 87.5,240.02 88.5,239.99 89.5,239.44 90.5,238.88 91.5,238.70 92.5,239.21 93.5,239.71 94.5,239.63 95.5,239.12 96.5,238.61 97.5,238.10 98.5,237.50 99.5,237.60 100.5,237.71 101.5,237.99 102.5,238.27 103.5,238.55 104.5,238.65 105.5,238.86 106.5,239.07 107.5,239.13 108.5,239.19 109.5,239.25 110.5,239.39 111.5,239.41 112.5,239.43 113.5,239.76 114.5,240.09 115.5,240.43 116.5,240.57 117.5,240.71 118.5,240.85 119.5,240.42 120.5,239.86 121.5,239.31 122.5,239.42 123.5,239.53 124.5,239.64 125.5,239.53 126.5,239.41 127.5,239.29 128.5,239.07 129.5,238.87 130.5,238.66 131.5,238.37 132.5,238.08 133.5,237.79 134.5,238.09 135.5,238.44 136.5,238.79 137.5,238.88 138.5,238.97 139.5,239.06 140.5,238.98 141.5,238.90 142.5,238.83 143.5,239.14 144.5,239.45 145.5,239.77 146.5,239.51 147.5,239.25 148.5,238.99 149.5,238.83 150.5,238.67 151.5,238.50 152.5,238.53 153.5,238.56 154.5,238.75 155.5,239.51 156.5,240.27 157.5,240.56 158.5,239.76 159.5,238.97 160.5,238.18 161.5,237.46 162.5,237.74 163.5,238.14 164.5,238.51 165.5,238.89 166.5,239.26 167.5,239.61 168.5,239.95 169.5,240.15 170.5,240.16 171.5,240.17 172.5,240.17 173.5,240.18 174.5,240.19 175.5,240.19 176.5,240.11 177.5,240.03 178.5,239.71 179.5,239.17 180.5,238.64 181.5,238.11 182.5,237.71 183.5,237.32 184.5,236.93 185.5,236.77 186.5,236.60 187.5,237.20 188.5,237.67 189.5,238.14 190.5,238.60 191.5,239.16 192.5,239.71 193.5,240.26 194.5,240.13 195.5,239.60 196.5,239.07 197.5,238.81 198.5,238.55 199.5,238.30 200.5,238.29 201.5,238.33 202.5,238.79 203.5,238.84 204.5,238.88 205.5,238.92 206.5,239.13 207.5,239.34 208.5,239.54 209.5,239.48 210.5,239.40 211.5,239.32 212.5,239.60 213.5,239.88 214.5,240.16 215.5,240.53 216.5,240.89 217.5,241.25 218.5,241.31 219.5,241.19 220.5,240.90 221.5,240.86 222.5,240.81 223.5,240.83 224.5,240.44 225.5,240.04 226.5,239.64 227.5,239.67 228.5,239.69 229.5,239.71 230.5,239.77 231.5,239.83 232.5,239.96 233.5,239.82 234.5,239.68 235.5,239.53 236.5,239.67 237.5,239.81 238.5,239.95 239.5,239.86 240.5,239.76 241.5,239.67 242.5,239.50 243.5,239.30 244.5,238.95 245.5,238.78 246.5,238.60 247.5,238.42 248.5,238.60 249.5,238.79 250.5,238.97 251.5,238.45 252.5,238.06 253.5,237.96 254.5,238.24 255.5,238.52 256.5,238.80 257.5,239.10 258.5,239.40 259.5,239.71 260.5,240.11 261.5,240.30 262.5,240.21 263.5,240.01 264.5,239.82 265.5,239.62 266.5,239.22 267.5,238.82 268.5,238.42 269.5,238.18 270.5,238.31 271.5,238.69 272.5,239.18 273.5,239.67 274.5,240.16 275.5,240.33 276.5,240.20 277.5,239.93 278.5,239.91 279.5,239.89 280.5,239.87 281.5,239.90 282.5,239.94 283.5,239.97 284.5,239.92 285.5,239.87 286.5,239.82 287.5,239.52 288.5,239.52 289.5,239.52 290.5,239.79 291.5,240.05 292.5,240.32 293.5,240.53 294.5,240.38 295.5,240.23 296.5,240.31 297.5,240.38 298.5,240.46 299.5,240.29 300.5,240.11 301.5,239.94 302.5,239.96 303.5,240.14 304.5,240.31 305.5,240.29 306.5,240.27 307.5,240.25 308.5,240.11 309.5,239.96 310.5,239.82 311.5,240.09 312.5,240.35 313.5,240.62" fill="none" stroke="#a23cf5" stroke-width="1.38" stroke-linejoin="round" opacity="1"/>
<polyline points="70.0,233.18 71.0,233.24 72.0,233.29 73.0,233.34 74.0,233.77 75.0,234.19 76.0,234.62 77.0,234.94 78.0,235.27 79.0,235.59 80.0,235.84 81.0,236.29 82.0,236.74 83.0,237.09 84.0,237.44 85.0,237.79 86.0,238.28 87.0,238.77 88.0,239.27 89.0,239.63 90.0,240.00 91.0,240.37 92.0,239.78 93.0,239.19 94.0,238.60 95.0,237.82 96.0,237.03 97.0,236.25 98.0,235.80 99.0,235.49 100.0,235.18 101.0,234.66 102.0,234.13 103.0,233.60 104.0,232.99 105.0,232.39 106.0,231.78" fill="none" stroke="#7a2cf0" stroke-width="1.38" stroke-linejoin="round" opacity="1"/>
<polyline points="19.5,229.79 20.5,229.72 21.5,229.65 22.5,229.58 23.5,229.49 24.5,229.39 25.5,229.30 26.5,229.42 27.5,229.53 28.5,229.64 29.5,229.35 30.5,229.06 31.5,228.77 32.5,228.74 33.5,228.70 34.5,228.46 35.5,227.83 36.5,227.19 37.5,226.56 38.5,226.34 39.5,226.12 40.5,225.90 41.5,225.65 42.5,225.40 43.5,225.15 44.5,224.64 45.5,224.13 46.5,223.62 47.5,223.91 48.5,224.70 49.5,225.49 50.5,226.08 51.5,226.68 52.5,227.27 53.5,228.21 54.5,229.38 55.5,230.55 56.5,231.78 57.5,233.00 58.5,234.23 59.5,234.55 60.5,234.53 61.5,234.52 62.5,233.95 63.5,233.48 64.5,233.16 65.5,233.04 66.5,232.93 67.5,232.81 68.5,233.03 69.5,233.25 70.5,233.47 71.5,233.45 72.5,233.43 73.5,233.43 74.5,233.62 75.5,233.80 76.5,233.99 77.5,234.23 78.5,234.46 79.5,234.70 80.5,234.59 81.5,234.40 82.5,234.18 83.5,234.21 84.5,234.24 85.5,234.27 86.5,234.37 87.5,234.46 88.5,234.56 89.5,234.98 90.5,235.17 91.5,235.34 92.5,234.81 93.5,234.29 94.5,233.76 95.5,233.60 96.5,233.44 97.5,233.29 98.5,233.05 99.5,232.82 100.5,232.58 101.5,232.43 102.5,232.35 103.5,232.27 104.5,232.17 105.5,232.08 106.5,231.98 107.5,232.02 108.5,232.05 109.5,232.09 110.5,232.00 111.5,232.09 112.5,232.19 113.5,232.42 114.5,232.65 115.5,232.88 116.5,233.29 117.5,233.71 118.5,234.13 119.5,233.86 120.5,233.47 121.5,233.07 122.5,233.24 123.5,233.41 124.5,233.58 125.5,233.46 126.5,233.33 127.5,233.21 128.5,232.97 129.5,232.69 130.5,232.41 131.5,232.19 132.5,231.98 133.5,231.77 134.5,231.64 135.5,231.50 136.5,231.37 137.5,231.08 138.5,230.85 139.5,230.71 140.5,230.50 141.5,230.29 142.5,230.08 143.5,230.05 144.5,230.02 145.5,229.99 146.5,229.89 147.5,229.79 148.5,229.74 149.5,230.31 150.5,230.87 151.5,231.43 152.5,232.17 153.5,232.90 154.5,233.63 155.5,233.91 156.5,234.19 157.5,234.29 158.5,234.07 159.5,233.85 160.5,233.62 161.5,233.71 162.5,233.79 163.5,233.88 164.5,233.93 165.5,233.99 166.5,233.98 167.5,233.58 168.5,233.18 169.5,232.78 170.5,232.64 171.5,232.49 172.5,232.34 173.5,231.85 174.5,231.35 175.5,231.21 176.5,231.52 177.5,231.84 178.5,232.16 179.5,232.73 180.5,233.30 181.5,233.87 182.5,233.95 183.5,234.04 184.5,233.92 185.5,234.10 186.5,234.28 187.5,234.46 188.5,234.58 189.5,234.69 190.5,234.80 191.5,234.81 192.5,234.81 193.5,234.90 194.5,235.01 195.5,235.11 196.5,235.22 197.5,235.37 198.5,235.53 199.5,235.69 200.5,236.23 201.5,236.77 202.5,237.24 203.5,237.23 204.5,237.21 205.5,237.20 206.5,237.40 207.5,237.59 208.5,237.79 209.5,237.69 210.5,237.56 211.5,237.32 212.5,237.46 213.5,237.59 214.5,237.72 215.5,237.64 216.5,237.55 217.5,237.46 218.5,237.31 219.5,237.16 220.5,237.01 221.5,236.93 222.5,236.84 223.5,236.75 224.5,236.69 225.5,236.63 226.5,236.54 227.5,236.32 228.5,236.11 229.5,235.89 230.5,235.85 231.5,235.81 232.5,235.77 233.5,235.80 234.5,235.84 235.5,235.88 236.5,235.56 237.5,235.25 238.5,234.94 239.5,235.10 240.5,235.26 241.5,235.72 242.5,235.78 243.5,235.84 244.5,235.90 245.5,236.13 246.5,236.37 247.5,236.60 248.5,236.88 249.5,237.17 250.5,237.45 251.5,237.58 252.5,237.67 253.5,237.68 254.5,237.55 255.5,237.43 256.5,237.30 257.5,237.43 258.5,237.55 259.5,237.67 260.5,237.65 261.5,237.50 262.5,237.15 263.5,236.91 264.5,236.67 265.5,236.43 266.5,236.55 267.5,236.67 268.5,236.79 269.5,236.40 270.5,235.71 271.5,234.82 272.5,234.22 273.5,233.63 274.5,233.03 275.5,232.21 276.5,231.79 277.5,231.55 278.5,231.19 279.5,230.83 280.5,230.48 281.5,230.57 282.5,230.66 283.5,230.75 284.5,230.56 285.5,230.44 286.5,230.33 287.5,230.05 288.5,229.77 289.5,229.48 290.5,229.24 291.5,229.00 292.5,228.01 293.5,226.76 294.5,227.46 295.5,228.16 296.5,228.71 297.5,229.26 298.5,229.81 299.5,230.33 300.5,230.16 301.5,229.99 302.5,229.63 303.5,229.26 304.5,228.90 305.5,228.90 306.5,228.90 307.5,228.91 308.5,229.08 309.5,229.75 310.5,230.41 311.5,230.66 312.5,230.90 313.5,231.15" fill="none" stroke="#7a2cf0" stroke-width="1.38" stroke-linejoin="round" opacity="1"/>
<polyline points="19.5,228.31 20.5,228.21 21.5,228.11 22.5,228.01 23.5,227.96 24.5,227.91 25.5,227.86 26.5,227.52 27.5,227.18 28.5,226.81 29.5,226.80 30.5,226.78 31.5,226.77 32.5,226.70 33.5,226.64 34.5,226.41 35.5,226.05 36.5,225.68 37.5,225.32 38.5,224.67 39.5,224.01 40.5,223.35 41.5,223.17 42.5,222.99 43.5,222.80 44.5,222.42 45.5,222.04 46.5,221.65 47.5,221.68 48.5,222.15 49.5,222.75 50.5,223.79 51.5,224.84 52.5,225.88 53.5,226.94 54.5,228.15 55.5,229.31 56.5,230.62 57.5,231.93 58.5,233.23 59.5,233.80 60.5,234.03 61.5,234.07 62.5,233.79 63.5,233.51 64.5,233.25 65.5,232.98 66.5,232.70 67.5,232.43 68.5,232.29 69.5,232.19 70.5,232.13 71.5,232.14 72.5,232.14 73.5,232.17 74.5,232.18 75.5,232.18 76.5,232.18 77.5,232.59 78.5,233.03 79.5,233.49 80.5,233.79 81.5,234.02 82.5,234.24 83.5,234.27 84.5,234.20 85.5,234.10 86.5,234.29 87.5,234.49 88.5,234.68 89.5,234.73 90.5,234.62 91.5,234.50 92.5,234.18 93.5,233.87 94.5,233.56 95.5,233.45 96.5,233.26 97.5,233.07 98.5,232.60 99.5,232.13 100.5,231.66 101.5,231.40 102.5,231.19 103.5,231.11 104.5,231.47 105.5,231.83 106.5,232.19 107.5,231.91 108.5,231.62 109.5,231.33 110.5,231.31 111.5,231.34 112.5,231.36 113.5,231.69 114.5,232.01 115.5,232.34 116.5,232.33 117.5,232.33 118.5,232.32 119.5,232.05 120.5,231.71 121.5,231.38 122.5,231.37 123.5,231.36 124.5,231.35 125.5,231.23 126.5,231.11 127.5,230.99 128.5,230.83 129.5,230.63 130.5,230.43 131.5,230.11 132.5,229.79 133.5,229.47 134.5,229.46 135.5,229.45 136.5,229.45 137.5,229.15 138.5,228.91 139.5,228.79 140.5,228.79 141.5,228.78 142.5,228.78 143.5,228.66 144.5,228.54 145.5,228.42 146.5,228.35 147.5,228.28 148.5,228.27 149.5,228.75 150.5,229.23 151.5,229.71 152.5,230.56 153.5,231.41 154.5,232.26 155.5,232.78 156.5,233.29 157.5,233.68 158.5,233.75 159.5,233.78 160.5,233.50 161.5,233.11 162.5,232.73 163.5,232.34 164.5,232.14 165.5,231.94 166.5,231.66 167.5,231.24 168.5,230.82 169.5,230.40 170.5,230.07 171.5,229.91 172.5,229.76 173.5,229.43 174.5,229.09 175.5,229.16 176.5,229.70 177.5,230.23 178.5,230.76 179.5,231.18 180.5,231.60 181.5,232.00 182.5,232.43 183.5,232.85 184.5,233.13 185.5,233.51 186.5,233.75 187.5,233.99 188.5,233.97 189.5,233.95 190.5,233.93 191.5,233.99 192.5,234.05 193.5,234.25 194.5,234.40 195.5,234.54 196.5,234.68 197.5,234.95 198.5,235.21 199.5,235.47 200.5,235.76 201.5,236.03 202.5,236.15 203.5,235.98 204.5,235.80 205.5,235.63 206.5,235.55 207.5,235.48 208.5,235.40 209.5,235.58 210.5,235.75 211.5,235.89 212.5,235.82 213.5,235.76 214.5,235.69 215.5,235.83 216.5,235.97 217.5,236.10 218.5,235.81 219.5,235.52 220.5,235.23 221.5,235.51 222.5,235.79 223.5,236.07 224.5,235.70 225.5,235.33 226.5,234.92 227.5,235.04 228.5,235.16 229.5,235.28 230.5,235.15 231.5,235.02 232.5,234.89 233.5,234.75 234.5,234.61 235.5,234.47 236.5,234.61 237.5,234.75 238.5,234.97 239.5,234.90 240.5,234.82 241.5,234.96 242.5,234.95 243.5,234.95 244.5,234.95 245.5,235.29 246.5,235.64 247.5,235.98 248.5,236.24 249.5,236.50 250.5,236.76 251.5,236.74 252.5,236.64 253.5,236.37 254.5,236.35 255.5,236.34 256.5,236.32 257.5,236.49 258.5,236.66 259.5,236.83 260.5,236.84 261.5,236.79 262.5,236.63 263.5,236.32 264.5,236.00 265.5,235.69 266.5,235.47 267.5,235.24 268.5,235.00 269.5,234.66 270.5,234.11 271.5,233.41 272.5,232.59 273.5,231.76 274.5,230.93 275.5,230.45 276.5,230.31 277.5,230.32 278.5,230.11 279.5,229.91 280.5,229.70 281.5,229.27 282.5,228.84 283.5,228.44 284.5,228.07 285.5,227.75 286.5,227.44 287.5,227.46 288.5,227.49 289.5,227.51 290.5,227.54 291.5,227.58 292.5,227.08 293.5,225.87 294.5,226.16 295.5,226.46 296.5,226.86 297.5,227.26 298.5,227.65 299.5,228.05 300.5,227.95 301.5,227.85 302.5,227.92 303.5,227.97 304.5,228.01 305.5,227.82 306.5,227.62 307.5,227.42 308.5,227.35 309.5,227.64 310.5,227.92 311.5,228.47 312.5,229.02 313.5,229.58" fill="none" stroke="#4040f0" stroke-width="1.38" stroke-linejoin="round" opacity="1"/>
<polyline points="19.5,226.26 20.5,226.16 21.5,226.06 22.5,225.96 23.5,225.94 24.5,225.92 25.5,225.90 26.5,225.80 27.5,225.70 28.5,225.55 29.5,225.34 30.5,225.14 31.5,224.94 32.5,224.53 33.5,224.13 34.5,223.60 35.5,223.48 36.5,223.36 37.5,223.24 38.5,222.68 39.5,222.11 40.5,221.55 41.5,221.15 42.5,220.75 43.5,220.34 44.5,219.90 45.5,219.46 46.5,219.02 47.5,219.22 48.5,219.79 49.5,220.64 50.5,221.58 51.5,222.52 52.5,223.46 53.5,224.83 54.5,226.27 55.5,227.63 56.5,229.07 57.5,230.51 58.5,231.96 59.5,232.72 60.5,233.17 61.5,233.22 62.5,233.20 63.5,233.10 64.5,232.89 65.5,232.41 66.5,231.94 67.5,231.46 68.5,231.25 69.5,231.10 70.5,231.02 71.5,231.03 72.5,231.04 73.5,231.07 74.5,231.36 75.5,231.66 76.5,231.95 77.5,232.23 78.5,232.60 79.5,233.01 80.5,233.28 81.5,233.52 82.5,233.75 83.5,234.04 84.5,234.12 85.5,234.15 86.5,233.98 87.5,233.81 88.5,233.64 89.5,233.63 90.5,233.52 91.5,233.39 92.5,233.11 93.5,232.83 94.5,232.54 95.5,232.41 96.5,232.11 97.5,231.81 98.5,231.46 99.5,231.11 100.5,230.76 101.5,230.59 102.5,230.46 103.5,230.56 104.5,230.66 105.5,230.76 106.5,230.86 107.5,230.91 108.5,230.97 109.5,231.03 110.5,230.99 111.5,230.85 112.5,230.72 113.5,230.67 114.5,230.62 115.5,230.58 116.5,230.45 117.5,230.31 118.5,230.18 119.5,230.34 120.5,230.48 121.5,230.62 122.5,230.44 123.5,230.26 124.5,230.09 125.5,230.07 126.5,230.05 127.5,230.03 128.5,229.88 129.5,229.70 130.5,229.51 131.5,229.08 132.5,228.66 133.5,228.23 134.5,227.95 135.5,227.67 136.5,227.39 137.5,227.24 138.5,227.18 139.5,227.24 140.5,227.48 141.5,227.72 142.5,227.96 143.5,227.90 144.5,227.85 145.5,227.79 146.5,227.63 147.5,227.46 148.5,227.35 149.5,228.03 150.5,228.70 151.5,229.37 152.5,229.72 153.5,230.07 154.5,230.44 155.5,231.27 156.5,232.10 157.5,232.86 158.5,232.91 159.5,232.90 160.5,232.25 161.5,232.17 162.5,232.09 163.5,232.01 164.5,231.77 165.5,231.52 166.5,231.19 167.5,230.40 168.5,229.62 169.5,228.83 170.5,228.29 171.5,228.09 172.5,227.89 173.5,227.55 174.5,227.20 175.5,227.32 176.5,227.94 177.5,228.55 178.5,229.17 179.5,229.71 180.5,230.25 181.5,230.77 182.5,231.32 183.5,231.87 184.5,232.33 185.5,232.53 186.5,232.48 187.5,232.42 188.5,232.55 189.5,232.68 190.5,232.81 191.5,232.77 192.5,232.72 193.5,232.86 194.5,233.24 195.5,233.62 196.5,234.00 197.5,234.16 198.5,234.33 199.5,234.49 200.5,234.63 201.5,234.74 202.5,234.62 203.5,234.85 204.5,235.09 205.5,235.32 206.5,235.01 207.5,234.71 208.5,234.40 209.5,234.44 210.5,234.49 211.5,234.58 212.5,234.73 213.5,234.87 214.5,235.02 215.5,234.97 216.5,234.91 217.5,234.86 218.5,234.95 219.5,235.03 220.5,235.12 221.5,234.97 222.5,234.83 223.5,234.69 224.5,234.80 225.5,234.90 226.5,234.95 227.5,234.55 228.5,234.15 229.5,233.75 230.5,233.94 231.5,234.13 232.5,234.32 233.5,234.08 234.5,233.84 235.5,233.60 236.5,233.52 237.5,233.43 238.5,233.52 239.5,233.80 240.5,234.07 241.5,234.48 242.5,234.69 243.5,234.91 244.5,235.13 245.5,235.19 246.5,235.26 247.5,235.32 248.5,235.56 249.5,235.79 250.5,236.03 251.5,236.22 252.5,236.30 253.5,236.11 254.5,236.23 255.5,236.34 256.5,236.45 257.5,236.17 258.5,235.90 259.5,235.62 260.5,235.33 261.5,235.03 262.5,234.72 263.5,234.66 264.5,234.61 265.5,234.55 266.5,234.20 267.5,233.84 268.5,233.45 269.5,233.05 270.5,232.51 271.5,231.88 272.5,231.25 273.5,230.63 274.5,230.01 275.5,229.48 276.5,229.25 277.5,229.13 278.5,228.78 279.5,228.44 280.5,228.09 281.5,227.66 282.5,227.23 283.5,226.85 284.5,226.74 285.5,226.66 286.5,226.59 287.5,226.23 288.5,225.86 289.5,225.50 290.5,225.51 291.5,225.53 292.5,225.22 293.5,224.63 294.5,225.12 295.5,225.61 296.5,225.64 297.5,225.67 298.5,225.70 299.5,226.31 300.5,226.60 301.5,226.89 302.5,226.88 303.5,226.82 304.5,226.76 305.5,226.44 306.5,226.11 307.5,225.78 308.5,226.03 309.5,226.49 310.5,226.95 311.5,227.31 312.5,227.66 313.5,228.02" fill="none" stroke="#1a8cff" stroke-width="1.38" stroke-linejoin="round" opacity="1"/>
<polyline points="19.5,224.44 20.5,224.40 21.5,224.36 22.5,224.32 23.5,224.19 24.5,224.07 25.5,223.95 26.5,223.87 27.5,223.80 28.5,223.65 29.5,223.19 30.5,222.73 31.5,222.27 32.5,222.31 33.5,222.35 34.5,222.31 35.5,221.81 36.5,221.31 37.5,220.81 38.5,220.54 39.5,220.27 40.5,220.01 41.5,219.67 42.5,219.33 43.5,218.99 44.5,218.71 45.5,218.44 46.5,218.17 47.5,217.89 48.5,217.94 49.5,218.39 50.5,219.72 51.5,221.05 52.5,222.38 53.5,223.92 54.5,225.47 55.5,226.89 56.5,228.11 57.5,229.34 58.5,230.56 59.5,231.64 60.5,232.40 61.5,232.59 62.5,232.57 63.5,232.38 64.5,231.96 65.5,231.92 66.5,231.89 67.5,231.85 68.5,231.20 69.5,230.66 70.5,230.21 71.5,230.43 72.5,230.64 73.5,230.88 74.5,230.91 75.5,230.94 76.5,230.96 77.5,230.99 78.5,231.13 79.5,231.33 80.5,231.92 81.5,232.51 82.5,233.08 83.5,233.14 84.5,232.89 85.5,232.57 86.5,232.56 87.5,232.55 88.5,232.55 89.5,232.51 90.5,232.42 91.5,232.32 92.5,232.12 93.5,231.93 94.5,231.73 95.5,231.60 96.5,231.24 97.5,230.88 98.5,230.48 99.5,230.08 100.5,229.68 101.5,229.62 102.5,229.58 103.5,229.89 104.5,229.73 105.5,229.57 106.5,229.41 107.5,229.58 108.5,229.76 109.5,229.93 110.5,229.95 111.5,229.75 112.5,229.55 113.5,229.72 114.5,229.88 115.5,230.05 116.5,229.74 117.5,229.43 118.5,229.12 119.5,229.10 120.5,229.13 121.5,229.16 122.5,229.14 123.5,229.12 124.5,229.10 125.5,228.82 126.5,228.55 127.5,228.28 128.5,228.06 129.5,227.81 130.5,227.56 131.5,227.34 132.5,227.13 133.5,226.91 134.5,226.65 135.5,226.38 136.5,226.12 137.5,226.04 138.5,226.05 139.5,226.20 140.5,226.36 141.5,226.53 142.5,226.70 143.5,226.53 144.5,226.36 145.5,226.19 146.5,226.31 147.5,226.43 148.5,226.60 149.5,227.19 150.5,227.78 151.5,228.36 152.5,228.87 153.5,229.38 154.5,229.92 155.5,230.54 156.5,231.16 157.5,231.74 158.5,232.25 159.5,232.67 160.5,232.16 161.5,231.52 162.5,230.88 163.5,230.25 164.5,229.90 165.5,229.56 166.5,229.11 167.5,228.60 168.5,228.08 169.5,227.57 170.5,226.70 171.5,226.34 172.5,225.98 173.5,225.88 174.5,225.78 175.5,226.19 176.5,226.69 177.5,227.18 178.5,227.68 179.5,228.47 180.5,229.26 181.5,230.02 182.5,230.48 183.5,230.95 184.5,231.37 185.5,232.00 186.5,232.24 187.5,232.48 188.5,232.51 189.5,232.54 190.5,232.56 191.5,232.26 192.5,231.96 193.5,231.87 194.5,232.36 195.5,232.85 196.5,233.34 197.5,233.35 198.5,233.35 199.5,233.35 200.5,233.93 201.5,234.47 202.5,234.69 203.5,234.26 204.5,233.83 205.5,233.41 206.5,233.27 207.5,233.13 208.5,233.00 209.5,233.18 210.5,233.41 211.5,233.74 212.5,233.66 213.5,233.57 214.5,233.49 215.5,233.27 216.5,233.06 217.5,232.84 218.5,233.05 219.5,233.26 220.5,233.46 221.5,233.63 222.5,233.80 223.5,233.98 224.5,233.74 225.5,233.50 226.5,233.19 227.5,233.36 228.5,233.52 229.5,233.69 230.5,233.44 231.5,233.19 232.5,232.93 233.5,232.92 234.5,232.92 235.5,232.91 236.5,232.82 237.5,232.73 238.5,232.90 239.5,232.95 240.5,232.99 241.5,233.10 242.5,233.47 243.5,233.85 244.5,234.22 245.5,234.52 246.5,234.81 247.5,235.10 248.5,235.38 249.5,235.66 250.5,235.94 251.5,236.14 252.5,236.20 253.5,235.92 254.5,235.52 255.5,235.11 256.5,234.71 257.5,234.63 258.5,234.55 259.5,234.47 260.5,234.09 261.5,233.76 262.5,233.51 263.5,233.63 264.5,233.75 265.5,233.86 266.5,233.42 267.5,232.97 268.5,232.47 269.5,232.14 270.5,231.75 271.5,231.32 272.5,230.35 273.5,229.37 274.5,228.39 275.5,227.88 276.5,227.61 277.5,227.44 278.5,226.99 279.5,226.54 280.5,226.10 281.5,225.78 282.5,225.46 283.5,225.20 284.5,225.09 285.5,224.99 286.5,224.89 287.5,224.74 288.5,224.60 289.5,224.45 290.5,223.94 291.5,223.44 292.5,222.78 293.5,222.72 294.5,223.33 295.5,223.94 296.5,224.11 297.5,224.27 298.5,224.44 299.5,224.44 300.5,224.31 301.5,224.18 302.5,224.48 303.5,224.71 304.5,224.95 305.5,224.99 306.5,225.04 307.5,225.08 308.5,224.97 309.5,224.96 310.5,224.94 311.5,225.31 312.5,225.67 313.5,226.03" fill="none" stroke="#00d8ff" stroke-width="1.38" stroke-linejoin="round" opacity="1"/>
<polyline points="19.5,222.69 20.5,222.84 21.5,222.98 22.5,223.12 23.5,222.99 24.5,222.86 25.5,222.73 26.5,222.59 27.5,222.45 28.5,222.22 29.5,221.92 30.5,221.61 31.5,221.31 32.5,221.09 33.5,220.87 34.5,220.59 35.5,219.91 36.5,219.23 37.5,218.55 38.5,218.47 39.5,218.39 40.5,218.32 41.5,217.83 42.5,217.35 43.5,216.86 44.5,216.72 45.5,216.58 46.5,216.44 47.5,216.28 48.5,216.40 49.5,217.00 50.5,218.52 51.5,220.03 52.5,221.54 53.5,223.00 54.5,224.41 55.5,225.66 56.5,226.92 57.5,228.19 58.5,229.46 59.5,230.81 60.5,231.86 61.5,232.21 62.5,232.51 63.5,232.59 64.5,232.33 65.5,231.75 66.5,231.17 67.5,230.60 68.5,230.46 69.5,230.45 70.5,230.57 71.5,230.53 72.5,230.50 73.5,230.48 74.5,230.44 75.5,230.40 76.5,230.36 77.5,230.42 78.5,230.62 79.5,230.88 80.5,231.40 81.5,231.93 82.5,232.45 83.5,232.93 84.5,233.02 85.5,233.00 86.5,232.79 87.5,232.57 88.5,232.36 89.5,232.11 90.5,231.85 91.5,231.60 92.5,231.69 93.5,231.78 94.5,231.87 95.5,231.59 96.5,231.03 97.5,230.47 98.5,230.28 99.5,230.09 100.5,229.91 101.5,229.21 102.5,228.51 103.5,228.24 104.5,228.62 105.5,228.99 106.5,229.36 107.5,229.48 108.5,229.60 109.5,229.72 110.5,230.03 111.5,230.02 112.5,230.01 113.5,229.42 114.5,228.83 115.5,228.24 116.5,228.29 117.5,228.33 118.5,228.38 119.5,228.03 120.5,227.77 121.5,227.50 122.5,227.40 123.5,227.31 124.5,227.21 125.5,227.06 126.5,226.92 127.5,226.77 128.5,226.71 129.5,226.62 130.5,226.52 131.5,226.48 132.5,226.44 133.5,226.40 134.5,226.21 135.5,226.03 136.5,225.84 137.5,225.60 138.5,225.47 139.5,225.48 140.5,225.39 141.5,225.30 142.5,225.20 143.5,225.09 144.5,224.98 145.5,224.87 146.5,225.02 147.5,225.17 148.5,225.36 149.5,225.96 150.5,226.56 151.5,227.16 152.5,227.56 153.5,227.96 154.5,228.40 155.5,229.40 156.5,230.40 157.5,231.41 158.5,231.77 159.5,232.01 160.5,231.09 161.5,230.60 162.5,230.11 163.5,229.62 164.5,229.05 165.5,228.49 166.5,227.82 167.5,226.98 168.5,226.15 169.5,225.32 170.5,224.46 171.5,224.24 172.5,224.01 173.5,223.90 174.5,223.79 175.5,224.24 176.5,225.03 177.5,225.83 178.5,226.63 179.5,227.61 180.5,228.58 181.5,229.50 182.5,230.03 183.5,230.55 184.5,231.08 185.5,231.59 186.5,231.62 187.5,231.65 188.5,231.54 189.5,231.43 190.5,231.32 191.5,231.25 192.5,231.18 193.5,231.35 194.5,231.76 195.5,232.16 196.5,232.57 197.5,232.88 198.5,233.19 199.5,233.50 200.5,233.49 201.5,233.44 202.5,233.01 203.5,233.07 204.5,233.13 205.5,233.18 206.5,232.83 207.5,232.49 208.5,232.14 209.5,232.16 210.5,232.25 211.5,232.49 212.5,232.40 213.5,232.31 214.5,232.22 215.5,232.18 216.5,232.14 217.5,232.10 218.5,232.15 219.5,232.19 220.5,232.23 221.5,232.54 222.5,232.84 223.5,233.15 224.5,233.09 225.5,233.04 226.5,232.91 227.5,232.66 228.5,232.42 229.5,232.18 230.5,232.45 231.5,232.72 232.5,232.99 233.5,232.67 234.5,232.36 235.5,232.05 236.5,231.99 237.5,231.93 238.5,232.19 239.5,232.33 240.5,232.48 241.5,232.62 242.5,232.99 243.5,233.37 244.5,233.74 245.5,234.09 246.5,234.44 247.5,234.80 248.5,235.18 249.5,235.57 250.5,235.95 251.5,235.96 252.5,235.80 253.5,235.22 254.5,234.96 255.5,234.71 256.5,234.45 257.5,233.94 258.5,233.44 259.5,232.94 260.5,232.84 261.5,232.84 262.5,232.99 263.5,232.74 264.5,232.49 265.5,232.24 266.5,232.17 267.5,232.11 268.5,231.98 269.5,231.25 270.5,230.52 271.5,229.79 272.5,229.32 273.5,228.85 274.5,228.38 275.5,227.75 276.5,227.32 277.5,226.98 278.5,226.23 279.5,225.48 280.5,224.73 281.5,224.45 282.5,224.16 283.5,223.96 284.5,223.60 285.5,223.25 286.5,222.90 287.5,222.95 288.5,222.99 289.5,223.03 290.5,222.88 291.5,222.73 292.5,222.58 293.5,222.09 294.5,221.95 295.5,221.81 296.5,222.20 297.5,222.60 298.5,222.99 299.5,223.01 300.5,223.03 301.5,223.05 302.5,223.24 303.5,223.36 304.5,223.48 305.5,223.59 306.5,223.70 307.5,223.82 308.5,223.80 309.5,223.79 310.5,223.78 311.5,223.94 312.5,224.11 313.5,224.28" fill="none" stroke="#00f090" stroke-width="1.38" stroke-linejoin="round" opacity="1"/>
<polyline points="340.5,244.01 341.5,243.41 342.5,243.40 343.5,243.14 344.5,243.34 345.5,243.09 346.5,243.05 347.5,242.19 348.5,242.25 349.5,241.72 350.5,241.66 351.5,241.68 352.5,241.09 353.5,241.01 354.5,241.09 355.5,240.62 356.5,239.88 357.5,239.67 358.5,239.35 359.5,238.21 360.5,238.34 361.5,237.76 362.5,236.97 363.5,236.32 364.5,236.47 365.5,235.47 366.5,234.83 367.5,234.45 368.5,234.72 369.5,234.19 370.5,234.03 371.5,233.64 372.5,233.15 373.5,233.17 374.5,232.39 375.5,232.37 376.5,232.56 377.5,232.47 378.5,232.90 379.5,233.20 380.5,234.13 381.5,234.59 382.5,235.71 383.5,236.67 384.5,237.28 385.5,238.04 386.5,238.50 387.5,239.21 388.5,240.06 389.5,240.41 390.5,240.98 391.5,241.42 392.5,242.01 393.5,243.04 394.5,243.26 395.5,243.66 396.5,243.75 397.5,244.62 398.5,244.43 399.5,244.60 400.5,244.84 401.5,244.24 402.5,243.85 403.5,243.63 404.5,243.44 405.5,243.06 406.5,242.31 407.5,241.83 408.5,241.74 409.5,241.38 410.5,241.02 411.5,241.29 412.5,240.92 413.5,240.28 414.5,240.50 415.5,240.37 416.5,240.87 417.5,240.58 418.5,240.51 419.5,240.57 420.5,240.90 421.5,240.73 422.5,241.02 423.5,241.25 424.5,240.79 425.5,240.59 426.5,241.15 427.5,240.70 428.5,240.30 429.5,240.21 430.5,240.20 431.5,240.55 432.5,240.62 433.5,240.32 434.5,240.13 435.5,240.58 436.5,241.32 437.5,241.20 438.5,241.80 439.5,241.93 440.5,241.38 441.5,242.01 442.5,242.01 443.5,241.92 444.5,241.73 445.5,242.05 446.5,241.65 447.5,241.92 448.5,241.90 449.5,242.24 450.5,242.09 451.5,241.52 452.5,241.63 453.5,241.28 454.5,241.79 455.5,241.67 456.5,241.13 457.5,241.32 458.5,241.21 459.5,240.80 460.5,241.31 461.5,241.22 462.5,241.54 463.5,241.46 464.5,241.16 465.5,241.55 466.5,241.43 467.5,242.28 468.5,242.37 469.5,242.45 470.5,242.16 471.5,242.08 472.5,242.86 473.5,243.05 474.5,242.48 475.5,242.90 476.5,242.61 477.5,243.15 478.5,243.11 479.5,242.56 480.5,242.79 481.5,242.81 482.5,242.54 483.5,242.99 484.5,242.58 485.5,242.37 486.5,242.59 487.5,242.70 488.5,242.24 489.5,242.29 490.5,242.79 491.5,242.47 492.5,242.26 493.5,242.28 494.5,241.93 495.5,241.97 496.5,242.02 497.5,242.17 498.5,241.85 499.5,241.80 500.5,241.66 501.5,242.10 502.5,241.78 503.5,242.32 504.5,242.29 505.5,241.66 506.5,241.79 507.5,242.14 508.5,241.77 509.5,241.71 510.5,242.35 511.5,242.06 512.5,241.98 513.5,242.23 514.5,242.25 515.5,241.75 516.5,241.68 517.5,241.94 518.5,241.94 519.5,241.97 520.5,242.18 521.5,242.14 522.5,242.39 523.5,241.68 524.5,241.92 525.5,241.87 526.5,242.29 527.5,241.80 528.5,241.75 529.5,241.96 530.5,241.94 531.5,241.82 532.5,241.80 533.5,242.25 534.5,241.59 535.5,241.47 536.5,240.68 537.5,239.76 538.5,240.28 539.5,240.18 540.5,240.57 541.5,240.81 542.5,241.03 543.5,240.77 544.5,241.31 545.5,241.37 546.5,241.80 547.5,241.81 548.5,242.29 549.5,242.91 550.5,242.40 551.5,242.87 552.5,242.66 553.5,242.68 554.5,243.16 555.5,243.24 556.5,242.94 557.5,243.13 558.5,242.73 559.5,242.89 560.5,243.48 561.5,243.22 562.5,243.24 563.5,243.46 564.5,242.95 565.5,243.43 566.5,243.41 567.5,243.74 568.5,243.24 569.5,243.93 570.5,243.28 571.5,243.42 572.5,243.79 573.5,243.91 574.5,243.61 575.5,243.57 576.5,244.24 577.5,243.75 578.5,244.00 579.5,243.96 580.5,243.70 581.5,243.74 582.5,243.60 583.5,243.84 584.5,243.16 585.5,243.47 586.5,243.00 587.5,243.03 588.5,243.16 589.5,242.77 590.5,242.69 591.5,242.94 592.5,242.31 593.5,242.52 594.5,242.86 595.5,242.77 596.5,241.93 597.5,241.95 598.5,241.90 599.5,242.34 600.5,242.21 601.5,242.16 602.5,241.75 603.5,241.64 604.5,242.24 605.5,242.19 606.5,242.18 607.5,242.54 608.5,242.33 609.5,241.87 610.5,242.58 611.5,242.23 612.5,242.58 613.5,242.85 614.5,242.24 615.5,242.26 616.5,242.29 617.5,242.68 618.5,242.49 619.5,242.79 620.5,242.91 621.5,242.53 622.5,242.91 623.5,242.65 624.5,242.86 625.5,243.23 626.5,243.21 627.5,242.64 628.5,242.94 629.5,242.86 630.5,242.67 631.5,243.32 632.5,243.24 633.5,242.98 634.5,243.38" fill="none" stroke="#7a2cf0" stroke-width="1.38" stroke-linejoin="round" opacity="1"/>
<polyline points="340.5,237.55 341.5,237.89 342.5,237.08 343.5,236.97 344.5,236.77 345.5,236.50 346.5,235.87 347.5,235.54 348.5,234.79 349.5,234.75 350.5,234.34 351.5,234.35 352.5,233.74 353.5,233.54 354.5,232.86 355.5,232.15 356.5,232.10 357.5,231.48 358.5,230.53 359.5,229.70 360.5,229.44 361.5,228.83 362.5,228.45 363.5,227.71 364.5,227.04 365.5,226.49 366.5,225.74 367.5,224.88 368.5,224.33 369.5,224.93 370.5,225.19 371.5,225.50 372.5,226.72 373.5,227.18 374.5,227.59 375.5,228.98 376.5,229.59 377.5,230.72 378.5,231.37 379.5,231.75 380.5,233.02 381.5,234.00 382.5,234.94 383.5,235.26 384.5,236.04 385.5,236.64 386.5,236.60 387.5,237.53 388.5,237.86 389.5,237.67 390.5,238.49 391.5,238.61 392.5,238.69 393.5,239.17 394.5,239.61 395.5,239.42 396.5,239.22 397.5,239.67 398.5,240.04 399.5,240.33 400.5,240.28 401.5,239.88 402.5,240.73 403.5,240.53 404.5,240.20 405.5,240.32 406.5,240.37 407.5,240.92 408.5,240.60 409.5,241.14 410.5,240.50 411.5,240.63 412.5,240.29 413.5,239.70 414.5,239.40 415.5,239.86 416.5,239.65 417.5,238.70 418.5,238.93 419.5,238.86 420.5,238.56 421.5,238.36 422.5,237.79 423.5,237.98 424.5,237.69 425.5,237.92 426.5,237.62 427.5,237.62 428.5,237.52 429.5,237.02 430.5,237.17 431.5,236.56 432.5,236.54 433.5,237.28 434.5,237.29 435.5,238.00 436.5,238.16 437.5,237.91 438.5,238.17 439.5,238.43 440.5,237.96 441.5,237.98 442.5,237.85 443.5,237.84 444.5,238.36 445.5,238.26 446.5,238.47 447.5,238.24 448.5,238.47 449.5,237.90 450.5,237.91 451.5,238.00 452.5,238.21 453.5,238.77 454.5,238.23 455.5,238.49 456.5,238.24 457.5,238.29 458.5,238.77 459.5,238.90 460.5,238.89 461.5,239.28 462.5,239.31 463.5,239.46 464.5,239.23 465.5,239.05 466.5,239.02 467.5,239.60 468.5,239.18 469.5,239.14 470.5,239.76 471.5,239.37 472.5,239.85 473.5,239.58 474.5,239.83 475.5,239.62 476.5,240.11 477.5,240.36 478.5,240.48 479.5,240.21 480.5,240.06 481.5,239.49 482.5,238.43 483.5,237.81 484.5,237.67 485.5,237.87 486.5,237.39 487.5,237.55 488.5,236.94 489.5,237.31 490.5,236.71 491.5,236.64 492.5,236.90 493.5,236.55 494.5,236.54 495.5,236.11 496.5,236.28 497.5,235.87 498.5,236.03 499.5,236.13 500.5,236.72 501.5,236.81 502.5,236.86 503.5,237.31 504.5,237.33 505.5,237.64 506.5,237.69 507.5,237.95 508.5,237.89 509.5,238.70 510.5,238.73 511.5,239.13 512.5,239.22 513.5,239.01 514.5,239.34 515.5,240.22 516.5,240.30 517.5,240.64 518.5,240.74 519.5,240.29 520.5,240.98 521.5,240.76 522.5,240.94 523.5,240.85 524.5,240.73 525.5,241.00 526.5,241.06 527.5,241.01 528.5,241.13 529.5,241.30 530.5,241.24 531.5,241.22 532.5,241.84 533.5,241.56 534.5,241.58 535.5,241.77 536.5,241.42 537.5,240.86 538.5,240.39 539.5,240.49 540.5,239.89 541.5,240.06 542.5,240.06 543.5,240.61 544.5,240.07 545.5,240.42 546.5,240.43 547.5,240.11 548.5,240.28 549.5,240.90 550.5,240.89 551.5,240.49 552.5,240.52 553.5,241.19 554.5,240.98 555.5,241.14 556.5,241.34 557.5,240.86 558.5,241.09 559.5,241.46 560.5,240.91 561.5,241.00 562.5,241.54 563.5,241.54 564.5,241.32 565.5,241.05 566.5,241.64 567.5,241.26 568.5,241.65 569.5,241.29 570.5,241.24 571.5,241.71 572.5,241.50 573.5,241.53 574.5,241.61 575.5,241.66 576.5,241.71 577.5,241.89 578.5,241.49 579.5,241.98 580.5,241.86 581.5,242.17 582.5,241.78 583.5,242.10 584.5,241.70 585.5,242.03 586.5,241.93 587.5,241.74 588.5,241.60 589.5,241.89 590.5,241.34 591.5,241.03 592.5,241.14 593.5,240.83 594.5,241.42 595.5,241.20 596.5,240.36 597.5,240.25 598.5,239.41 599.5,239.43 600.5,238.58 601.5,237.91 602.5,238.11 603.5,237.53 604.5,238.05 605.5,237.95 606.5,237.57 607.5,237.15 608.5,237.44 609.5,236.73 610.5,236.66 611.5,236.68 612.5,236.38 613.5,237.01 614.5,236.93 615.5,237.21 616.5,237.27 617.5,237.09 618.5,237.31 619.5,237.75 620.5,238.07 621.5,238.10 622.5,238.01 623.5,238.52 624.5,238.33 625.5,238.62 626.5,238.92 627.5,238.89 628.5,238.85 629.5,239.07 630.5,238.88 631.5,239.19 632.5,239.63 633.5,239.47 634.5,239.15" fill="none" stroke="#4040f0" stroke-width="1.38" stroke-linejoin="round" opacity="1"/>
<polyline points="340.5,236.80 341.5,236.74 342.5,236.66 343.5,235.78 344.5,235.49 345.5,235.00 346.5,234.73 347.5,234.32 348.5,234.06 349.5,233.92 350.5,233.81 351.5,233.08 352.5,232.32 353.5,231.84 354.5,231.54 355.5,230.68 356.5,229.88 357.5,229.88 358.5,229.08 359.5,228.00 360.5,227.25 361.5,226.52 362.5,226.49 363.5,225.10 364.5,224.83 365.5,224.42 366.5,223.03 367.5,222.77 368.5,222.44 369.5,222.84 370.5,222.67 371.5,223.50 372.5,224.31 373.5,225.01 374.5,226.39 375.5,227.52 376.5,228.34 377.5,229.26 378.5,231.16 379.5,232.45 380.5,233.46 381.5,233.95 382.5,235.01 383.5,235.47 384.5,235.99 385.5,236.42 386.5,236.60 387.5,237.21 388.5,237.91 389.5,238.22 390.5,238.28 391.5,238.85 392.5,238.97 393.5,238.37 394.5,238.62 395.5,238.95 396.5,239.16 397.5,240.07 398.5,240.18 399.5,240.17 400.5,240.55 401.5,240.07 402.5,240.01 403.5,240.02 404.5,240.29 405.5,240.78 406.5,240.69 407.5,240.33 408.5,240.69 409.5,240.37 410.5,240.73 411.5,240.12 412.5,239.88 413.5,239.94 414.5,239.77 415.5,239.28 416.5,238.69 417.5,238.65 418.5,238.03 419.5,237.49 420.5,237.42 421.5,237.52 422.5,237.30 423.5,236.80 424.5,237.17 425.5,237.02 426.5,236.43 427.5,236.83 428.5,236.15 429.5,235.88 430.5,236.15 431.5,236.33 432.5,236.03 433.5,236.11 434.5,236.44 435.5,236.72 436.5,237.01 437.5,237.19 438.5,237.39 439.5,237.80 440.5,237.19 441.5,237.42 442.5,237.99 443.5,237.71 444.5,237.14 445.5,237.32 446.5,237.38 447.5,237.48 448.5,236.71 449.5,237.37 450.5,237.40 451.5,237.29 452.5,237.78 453.5,238.14 454.5,237.64 455.5,237.81 456.5,237.54 457.5,237.05 458.5,237.16 459.5,237.28 460.5,237.05 461.5,237.79 462.5,237.43 463.5,237.69 464.5,238.12 465.5,238.07 466.5,237.79 467.5,237.74 468.5,237.88 469.5,238.27 470.5,237.69 471.5,238.51 472.5,238.74 473.5,238.77 474.5,239.11 475.5,239.05 476.5,239.87 477.5,240.13 478.5,240.42 479.5,240.30 480.5,239.90 481.5,239.88 482.5,239.36 483.5,238.22 484.5,237.96 485.5,237.78 486.5,237.17 487.5,236.76 488.5,236.47 489.5,235.99 490.5,235.73 491.5,235.61 492.5,235.40 493.5,235.25 494.5,234.75 495.5,234.37 496.5,234.78 497.5,234.37 498.5,234.43 499.5,234.66 500.5,234.72 501.5,235.29 502.5,235.43 503.5,236.04 504.5,236.48 505.5,236.13 506.5,237.01 507.5,236.74 508.5,236.96 509.5,237.36 510.5,238.14 511.5,238.77 512.5,239.22 513.5,238.99 514.5,239.54 515.5,240.22 516.5,240.38 517.5,240.49 518.5,240.13 519.5,240.24 520.5,240.22 521.5,240.39 522.5,240.59 523.5,241.00 524.5,241.00 525.5,240.73 526.5,240.85 527.5,241.19 528.5,241.65 529.5,241.44 530.5,241.81 531.5,241.84 532.5,242.11 533.5,241.89 534.5,241.77 535.5,241.63 536.5,241.55 537.5,240.73 538.5,240.30 539.5,240.56 540.5,240.19 541.5,240.34 542.5,240.05 543.5,240.02 544.5,240.25 545.5,240.50 546.5,240.25 547.5,240.50 548.5,241.06 549.5,240.66 550.5,240.32 551.5,240.96 552.5,240.57 553.5,240.47 554.5,240.85 555.5,240.88 556.5,240.61 557.5,240.93 558.5,241.07 559.5,240.65 560.5,240.80 561.5,240.45 562.5,240.99 563.5,240.84 564.5,241.25 565.5,241.48 566.5,241.30 567.5,241.71 568.5,242.07 569.5,241.53 570.5,242.08 571.5,241.82 572.5,242.19 573.5,241.49 574.5,241.74 575.5,241.56 576.5,241.64 577.5,242.14 578.5,241.85 579.5,241.71 580.5,242.20 581.5,241.47 582.5,241.44 583.5,242.01 584.5,241.76 585.5,241.85 586.5,241.42 587.5,241.62 588.5,240.97 589.5,240.72 590.5,241.05 591.5,240.55 592.5,239.92 593.5,239.67 594.5,239.45 595.5,239.73 596.5,239.26 597.5,238.35 598.5,238.37 599.5,237.83 600.5,237.19 601.5,236.75 602.5,236.36 603.5,236.43 604.5,236.05 605.5,236.36 606.5,235.96 607.5,235.89 608.5,235.94 609.5,235.83 610.5,235.32 611.5,234.82 612.5,235.01 613.5,235.31 614.5,234.86 615.5,235.14 616.5,235.39 617.5,235.60 618.5,236.30 619.5,236.32 620.5,236.16 621.5,236.64 622.5,236.87 623.5,236.38 624.5,236.57 625.5,236.51 626.5,237.19 627.5,237.11 628.5,236.95 629.5,237.29 630.5,237.40 631.5,237.86 632.5,237.90 633.5,238.05 634.5,238.05" fill="none" stroke="#1a8cff" stroke-width="1.38" stroke-linejoin="round" opacity="1"/>
<polyline points="340.5,235.53 341.5,235.55 342.5,234.93 343.5,234.84 344.5,234.33 345.5,233.99 346.5,233.91 347.5,233.48 348.5,233.26 349.5,233.11 350.5,231.92 351.5,231.74 352.5,230.70 353.5,230.57 354.5,229.88 355.5,228.83 356.5,228.72 357.5,227.99 358.5,226.82 359.5,226.33 360.5,225.71 361.5,224.99 362.5,223.51 363.5,222.75 364.5,222.39 365.5,221.77 366.5,220.37 367.5,219.89 368.5,220.20 369.5,220.06 370.5,220.60 371.5,221.81 372.5,222.60 373.5,223.51 374.5,224.71 375.5,225.85 376.5,227.39 377.5,228.92 378.5,230.82 379.5,232.12 380.5,234.12 381.5,234.77 382.5,234.77 383.5,235.44 384.5,235.42 385.5,236.28 386.5,236.86 387.5,237.07 388.5,237.65 389.5,238.40 390.5,238.11 391.5,238.43 392.5,238.08 393.5,238.25 394.5,238.82 395.5,239.02 396.5,239.19 397.5,240.37 398.5,240.46 399.5,240.35 400.5,240.03 401.5,239.97 402.5,239.87 403.5,240.30 404.5,239.94 405.5,240.76 406.5,240.18 407.5,240.66 408.5,240.66 409.5,240.45 410.5,240.26 411.5,240.18 412.5,239.78 413.5,239.93 414.5,239.29 415.5,238.80 416.5,238.53 417.5,238.00 418.5,237.34 419.5,236.85 420.5,237.27 421.5,236.89 422.5,236.07 423.5,236.30 424.5,236.25 425.5,236.16 426.5,235.31 427.5,235.19 428.5,235.26 429.5,235.33 430.5,234.84 431.5,235.26 432.5,235.24 433.5,235.09 434.5,235.72 435.5,235.74 436.5,236.41 437.5,236.24 438.5,236.44 439.5,236.61 440.5,237.07 441.5,237.39 442.5,236.77 443.5,237.08 444.5,237.05 445.5,236.71 446.5,236.11 447.5,235.99 448.5,236.18 449.5,235.62 450.5,236.46 451.5,236.53 452.5,237.17 453.5,237.50 454.5,237.31 455.5,236.76 456.5,236.56 457.5,236.08 458.5,236.14 459.5,235.84 460.5,235.71 461.5,235.40 462.5,236.41 463.5,236.36 464.5,236.57 465.5,236.36 466.5,236.49 467.5,236.10 468.5,236.25 469.5,236.43 470.5,236.64 471.5,236.76 472.5,237.15 473.5,237.21 474.5,237.37 475.5,238.40 476.5,239.11 477.5,239.27 478.5,240.15 479.5,240.21 480.5,240.18 481.5,240.42 482.5,239.38 483.5,239.00 484.5,238.56 485.5,237.47 486.5,237.26 487.5,236.55 488.5,235.86 489.5,235.45 490.5,235.16 491.5,234.55 492.5,234.01 493.5,233.76 494.5,233.14 495.5,232.94 496.5,232.23 497.5,232.43 498.5,232.47 499.5,232.75 500.5,233.40 501.5,234.06 502.5,234.37 503.5,235.06 504.5,235.22 505.5,235.28 506.5,236.08 507.5,236.24 508.5,236.60 509.5,236.69 510.5,237.56 511.5,237.92 512.5,238.65 513.5,239.46 514.5,239.44 515.5,239.44 516.5,239.70 517.5,240.17 518.5,240.51 519.5,239.96 520.5,240.33 521.5,240.35 522.5,240.52 523.5,240.79 524.5,240.82 525.5,240.79 526.5,241.42 527.5,241.53 528.5,241.75 529.5,241.29 530.5,241.77 531.5,241.68 532.5,241.73 533.5,242.49 534.5,242.20 535.5,241.76 536.5,241.58 537.5,241.19 538.5,240.52 539.5,240.03 540.5,240.63 541.5,240.38 542.5,240.41 543.5,240.34 544.5,240.70 545.5,241.08 546.5,241.22 547.5,240.62 548.5,240.59 549.5,241.23 550.5,240.80 551.5,240.83 552.5,240.82 553.5,240.54 554.5,240.47 555.5,240.80 556.5,240.56 557.5,240.06 558.5,240.05 559.5,240.67 560.5,240.49 561.5,240.66 562.5,240.56 563.5,240.88 564.5,240.81 565.5,241.10 566.5,241.35 567.5,241.59 568.5,242.36 569.5,242.45 570.5,242.23 571.5,241.79 572.5,242.45 573.5,242.31 574.5,242.14 575.5,242.35 576.5,242.14 577.5,241.98 578.5,241.72 579.5,241.91 580.5,241.71 581.5,241.47 582.5,241.41 583.5,241.29 584.5,241.61 585.5,241.16 586.5,241.41 587.5,241.12 588.5,240.37 589.5,239.96 590.5,240.22 591.5,239.87 592.5,239.10 593.5,239.02 594.5,238.78 595.5,237.96 596.5,237.48 597.5,237.09 598.5,236.72 599.5,236.06 600.5,235.75 601.5,234.65 602.5,234.33 603.5,234.20 604.5,234.73 605.5,234.09 606.5,233.78 607.5,233.69 608.5,233.42 609.5,233.64 610.5,233.53 611.5,233.06 612.5,232.68 613.5,232.69 614.5,233.37 615.5,233.12 616.5,233.62 617.5,234.10 618.5,234.38 619.5,235.10 620.5,235.34 621.5,235.11 622.5,235.21 623.5,234.96 624.5,235.16 625.5,234.75 626.5,235.00 627.5,235.70 628.5,235.60 629.5,235.82 630.5,236.28 631.5,236.33 632.5,236.14 633.5,236.57 634.5,236.98" fill="none" stroke="#00d8ff" stroke-width="1.38" stroke-linejoin="round" opacity="1"/>
<polyline points="340.5,234.86 341.5,234.34 342.5,234.23 343.5,234.19 344.5,233.43 345.5,233.40 346.5,233.19 347.5,233.23 348.5,232.11 349.5,231.57 350.5,231.02 351.5,230.62 352.5,229.84 353.5,228.47 354.5,228.34 355.5,227.32 356.5,227.03 357.5,226.37 358.5,225.00 359.5,224.87 360.5,223.50 361.5,222.17 362.5,221.40 363.5,220.14 364.5,219.80 365.5,218.78 366.5,217.68 367.5,217.36 368.5,217.53 369.5,218.13 370.5,218.29 371.5,219.00 372.5,220.18 373.5,221.05 374.5,222.44 375.5,224.37 376.5,225.64 377.5,227.82 378.5,230.71 379.5,232.44 380.5,233.95 381.5,234.59 382.5,235.11 383.5,235.48 384.5,235.83 385.5,235.82 386.5,236.53 387.5,236.92 388.5,237.81 389.5,238.07 390.5,238.58 391.5,238.39 392.5,238.20 393.5,237.68 394.5,238.16 395.5,238.34 396.5,239.27 397.5,240.58 398.5,240.34 399.5,240.13 400.5,240.42 401.5,239.81 402.5,239.85 403.5,240.13 404.5,240.53 405.5,239.90 406.5,240.51 407.5,240.08 408.5,240.67 409.5,240.27 410.5,239.91 411.5,239.94 412.5,239.82 413.5,239.00 414.5,238.74 415.5,238.61 416.5,238.19 417.5,237.67 418.5,237.01 419.5,236.75 420.5,235.90 421.5,235.76 422.5,235.45 423.5,235.08 424.5,234.78 425.5,234.57 426.5,235.09 427.5,234.40 428.5,234.21 429.5,234.39 430.5,234.40 431.5,234.49 432.5,234.45 433.5,233.83 434.5,234.22 435.5,234.68 436.5,234.96 437.5,235.45 438.5,235.49 439.5,236.30 440.5,236.14 441.5,236.86 442.5,236.94 443.5,236.57 444.5,235.91 445.5,235.39 446.5,235.79 447.5,235.38 448.5,234.68 449.5,234.31 450.5,235.22 451.5,235.60 452.5,236.49 453.5,237.17 454.5,236.83 455.5,236.01 456.5,234.70 457.5,234.67 458.5,234.35 459.5,234.27 460.5,233.54 461.5,234.40 462.5,234.27 463.5,234.86 464.5,235.67 465.5,235.58 466.5,235.03 467.5,234.19 468.5,234.16 469.5,234.45 470.5,234.62 471.5,235.05 472.5,234.98 473.5,236.10 474.5,236.36 475.5,237.10 476.5,237.65 477.5,238.67 478.5,239.20 479.5,240.07 480.5,240.24 481.5,240.29 482.5,240.16 483.5,239.43 484.5,238.52 485.5,238.24 486.5,237.10 487.5,236.52 488.5,235.57 489.5,235.06 490.5,233.89 491.5,233.11 492.5,232.30 493.5,231.74 494.5,231.84 495.5,231.07 496.5,230.78 497.5,230.68 498.5,230.41 499.5,230.54 500.5,231.63 501.5,232.37 502.5,233.15 503.5,233.38 504.5,233.67 505.5,234.55 506.5,235.02 507.5,234.80 508.5,235.90 509.5,236.51 510.5,236.58 511.5,237.71 512.5,237.99 513.5,238.99 514.5,239.17 515.5,239.84 516.5,239.75 517.5,240.03 518.5,240.23 519.5,240.44 520.5,240.27 521.5,240.10 522.5,240.34 523.5,240.53 524.5,240.64 525.5,240.72 526.5,241.53 527.5,241.22 528.5,241.13 529.5,241.52 530.5,242.13 531.5,242.28 532.5,242.27 533.5,242.03 534.5,242.15 535.5,242.26 536.5,241.14 537.5,240.59 538.5,240.52 539.5,240.01 540.5,240.75 541.5,240.78 542.5,240.37 543.5,241.07 544.5,241.28 545.5,241.23 546.5,241.34 547.5,240.84 548.5,240.87 549.5,240.94 550.5,240.59 551.5,240.99 552.5,240.52 553.5,240.60 554.5,240.28 555.5,240.64 556.5,240.03 557.5,240.40 558.5,240.36 559.5,240.12 560.5,239.68 561.5,240.43 562.5,239.94 563.5,240.09 564.5,241.02 565.5,240.88 566.5,241.16 567.5,242.23 568.5,242.64 569.5,242.38 570.5,242.44 571.5,242.65 572.5,242.56 573.5,242.13 574.5,241.86 575.5,241.84 576.5,241.87 577.5,241.58 578.5,242.06 579.5,241.70 580.5,241.74 581.5,241.43 582.5,241.45 583.5,241.58 584.5,241.52 585.5,241.20 586.5,240.63 587.5,240.57 588.5,239.82 589.5,239.71 590.5,239.00 591.5,238.97 592.5,238.02 593.5,237.19 594.5,237.23 595.5,236.18 596.5,236.18 597.5,235.60 598.5,235.06 599.5,233.84 600.5,233.47 601.5,232.82 602.5,232.52 603.5,232.69 604.5,232.69 605.5,232.11 606.5,232.49 607.5,232.08 608.5,231.71 609.5,231.88 610.5,231.50 611.5,231.22 612.5,231.50 613.5,231.19 614.5,231.23 615.5,231.75 616.5,232.44 617.5,232.20 618.5,233.00 619.5,233.59 620.5,233.63 621.5,233.28 622.5,233.75 623.5,233.40 624.5,233.04 625.5,233.48 626.5,233.76 627.5,233.87 628.5,234.28 629.5,233.87 630.5,234.78 631.5,234.90 632.5,234.73 633.5,235.11 634.5,235.46" fill="none" stroke="#00f090" stroke-width="1.38" stroke-linejoin="round" opacity="1"/>
<polyline points="340.5,233.38 341.5,233.33 342.5,233.13 343.5,232.82 344.5,232.73 345.5,232.40 346.5,231.90 347.5,231.97 348.5,231.27 349.5,230.70 350.5,229.96 351.5,229.59 352.5,228.26 353.5,227.38 354.5,226.81 355.5,226.03 356.5,225.11 357.5,224.19 358.5,223.71 359.5,222.66 360.5,222.05 361.5,220.09 362.5,219.22 363.5,218.41 364.5,217.38 365.5,216.41 366.5,215.77 367.5,214.99 368.5,215.58 369.5,216.17 370.5,216.10 371.5,217.22 372.5,218.28 373.5,219.51 374.5,220.95 375.5,222.44 376.5,224.89 377.5,227.54 378.5,230.60 379.5,233.15 380.5,234.45 381.5,235.30 382.5,235.37 383.5,235.37 384.5,235.73 385.5,235.91 386.5,236.87 387.5,237.02 388.5,237.84 389.5,238.04 390.5,238.40 391.5,237.84 392.5,237.73 393.5,237.81 394.5,237.59 395.5,238.66 396.5,239.85 397.5,240.57 398.5,240.95 399.5,240.47 400.5,240.28 401.5,240.38 402.5,240.29 403.5,240.01 404.5,240.03 405.5,240.57 406.5,240.33 407.5,240.59 408.5,239.99 409.5,240.03 410.5,240.32 411.5,239.88 412.5,239.73 413.5,238.99 414.5,238.87 415.5,237.66 416.5,237.33 417.5,237.13 418.5,236.52 419.5,236.14 420.5,235.52 421.5,235.33 422.5,235.12 423.5,234.47 424.5,233.98 425.5,233.90 426.5,233.73 427.5,234.01 428.5,233.83 429.5,233.53 430.5,233.09 431.5,233.66 432.5,233.00 433.5,233.04 434.5,233.73 435.5,233.68 436.5,234.10 437.5,234.38 438.5,234.55 439.5,235.02 440.5,235.36 441.5,235.67 442.5,235.76 443.5,235.67 444.5,235.48 445.5,235.00 446.5,234.78 447.5,234.34 448.5,233.66 449.5,233.63 450.5,233.65 451.5,234.66 452.5,236.26 453.5,236.63 454.5,235.76 455.5,235.15 456.5,234.24 457.5,233.06 458.5,232.52 459.5,232.33 460.5,232.06 461.5,232.20 462.5,233.17 463.5,233.86 464.5,234.73 465.5,234.22 466.5,233.52 467.5,233.22 468.5,232.90 469.5,233.21 470.5,232.63 471.5,233.35 472.5,234.06 473.5,235.15 474.5,235.50 475.5,236.25 476.5,237.05 477.5,238.38 478.5,238.99 479.5,239.52 480.5,240.92 481.5,240.67 482.5,240.77 483.5,240.26 484.5,239.20 485.5,237.83 486.5,236.91 487.5,236.07 488.5,234.54 489.5,234.14 490.5,233.16 491.5,231.97 492.5,230.86 493.5,230.31 494.5,230.23 495.5,229.21 496.5,228.57 497.5,228.25 498.5,228.59 499.5,229.10 500.5,229.76 501.5,230.79 502.5,231.72 503.5,232.66 504.5,233.33 505.5,233.21 506.5,234.04 507.5,233.96 508.5,234.70 509.5,235.56 510.5,236.06 511.5,237.45 512.5,238.35 513.5,239.01 514.5,239.49 515.5,239.77 516.5,240.09 517.5,240.02 518.5,239.98 519.5,240.27 520.5,240.53 521.5,240.47 522.5,240.06 523.5,240.88 524.5,240.73 525.5,240.78 526.5,241.53 527.5,241.42 528.5,241.50 529.5,241.52 530.5,242.41 531.5,242.57 532.5,242.70 533.5,242.50 534.5,242.35 535.5,242.34 536.5,241.82 537.5,241.02 538.5,240.37 539.5,240.20 540.5,240.29 541.5,240.93 542.5,241.05 543.5,241.31 544.5,241.04 545.5,241.45 546.5,241.20 547.5,241.49 548.5,240.97 549.5,241.06 550.5,240.52 551.5,241.02 552.5,240.56 553.5,240.46 554.5,240.49 555.5,239.88 556.5,239.76 557.5,240.17 558.5,239.68 559.5,239.67 560.5,240.03 561.5,239.74 562.5,239.90 563.5,240.01 564.5,240.18 565.5,241.16 566.5,241.88 567.5,242.38 568.5,242.89 569.5,242.89 570.5,242.95 571.5,242.85 572.5,242.60 573.5,242.56 574.5,242.53 575.5,242.17 576.5,241.78 577.5,242.12 578.5,241.65 579.5,241.45 580.5,241.59 581.5,241.32 582.5,241.16 583.5,241.33 584.5,240.60 585.5,240.36 586.5,239.91 587.5,239.77 588.5,239.37 589.5,239.21 590.5,238.57 591.5,238.00 592.5,237.13 593.5,236.11 594.5,235.97 595.5,235.00 596.5,234.75 597.5,233.52 598.5,233.34 599.5,232.98 600.5,232.06 601.5,231.56 602.5,231.57 603.5,231.07 604.5,231.03 605.5,230.84 606.5,231.09 607.5,230.44 608.5,230.65 609.5,229.83 610.5,230.05 611.5,229.62 612.5,229.52 613.5,229.09 614.5,229.63 615.5,230.46 616.5,230.41 617.5,230.59 618.5,231.51 619.5,231.52 620.5,231.92 621.5,232.33 622.5,232.08 623.5,232.04 624.5,231.91 625.5,231.54 626.5,231.93 627.5,232.45 628.5,232.03 629.5,232.82 630.5,232.90 631.5,232.97 632.5,233.53 633.5,233.32 634.5,234.14" fill="none" stroke="#40e010" stroke-width="1.38" stroke-linejoin="round" opacity="1"/>
<polyline points="340.5,232.73 341.5,232.30 342.5,232.56 343.5,232.03 344.5,232.34 345.5,231.55 346.5,231.80 347.5,231.13 348.5,231.37 349.5,230.62 350.5,229.05 351.5,228.44 352.5,227.05 353.5,226.24 354.5,225.57 355.5,224.21 356.5,223.58 357.5,222.81 358.5,222.06 359.5,221.44 360.5,219.98 361.5,218.63 362.5,217.84 363.5,216.37 364.5,215.38 365.5,214.37 366.5,213.94 367.5,213.17 368.5,213.70 369.5,214.57 370.5,214.97 371.5,215.64 372.5,216.63 373.5,218.34 374.5,219.36 375.5,221.44 376.5,224.15 377.5,226.88 378.5,229.90 379.5,232.91 380.5,234.82 381.5,235.18 382.5,235.24 383.5,234.95 384.5,235.21 385.5,235.72 386.5,236.48 387.5,237.25 388.5,237.68 389.5,238.21 390.5,238.59 391.5,238.34 392.5,237.63 393.5,237.62 394.5,237.12 395.5,238.37 396.5,239.77 397.5,240.56 398.5,240.98 399.5,240.64 400.5,240.54 401.5,239.72 402.5,239.87 403.5,240.04 404.5,240.25 405.5,240.45 406.5,239.95 407.5,239.99 408.5,240.04 409.5,240.35 410.5,240.00 411.5,239.89 412.5,239.29 413.5,238.88 414.5,238.69 415.5,237.67 416.5,237.14 417.5,236.77 418.5,236.39 419.5,235.87 420.5,235.07 421.5,234.27 422.5,233.99 423.5,233.66 424.5,233.35 425.5,233.58 426.5,233.08 427.5,232.60 428.5,233.01 429.5,232.77 430.5,232.69 431.5,232.94 432.5,232.33 433.5,232.63 434.5,232.86 435.5,233.05 436.5,233.24 437.5,234.14 438.5,234.65 439.5,235.21 440.5,235.35 441.5,235.44 442.5,235.56 443.5,235.15 444.5,235.37 445.5,234.38 446.5,233.71 447.5,232.97 448.5,232.66 449.5,233.12 450.5,233.41 451.5,234.07 452.5,235.36 453.5,236.26 454.5,235.27 455.5,234.40 456.5,233.20 457.5,231.94 458.5,232.09 459.5,231.77 460.5,231.54 461.5,231.07 462.5,231.84 463.5,233.00 464.5,233.80 465.5,233.32 466.5,232.78 467.5,232.06 468.5,231.23 469.5,231.66 470.5,231.41 471.5,232.45 472.5,232.56 473.5,233.68 474.5,234.86 475.5,235.96 476.5,236.36 477.5,237.93 478.5,238.37 479.5,239.59 480.5,240.86 481.5,241.25 482.5,241.33 483.5,240.35 484.5,239.27 485.5,238.15 486.5,236.71 487.5,235.32 488.5,234.05 489.5,233.28 490.5,231.96 491.5,230.92 492.5,229.90 493.5,229.14 494.5,229.19 495.5,228.09 496.5,227.96 497.5,226.82 498.5,227.29 499.5,228.14 500.5,228.84 501.5,229.44 502.5,230.73 503.5,231.49 504.5,232.18 505.5,232.77 506.5,233.34 507.5,233.90 508.5,233.93 509.5,235.44 510.5,236.09 511.5,236.82 512.5,237.53 513.5,238.52 514.5,239.02 515.5,239.93 516.5,239.58 517.5,239.57 518.5,239.93 519.5,240.23 520.5,239.87 521.5,240.48 522.5,240.69 523.5,240.61 524.5,240.34 525.5,241.14 526.5,241.47 527.5,241.36 528.5,241.98 529.5,241.80 530.5,241.83 531.5,242.70 532.5,242.48 533.5,243.10 534.5,242.78 535.5,242.08 536.5,241.60 537.5,240.95 538.5,240.43 539.5,240.70 540.5,240.87 541.5,240.52 542.5,241.01 543.5,241.29 544.5,241.23 545.5,241.63 546.5,241.87 547.5,241.71 548.5,241.12 549.5,241.53 550.5,241.26 551.5,240.57 552.5,240.76 553.5,239.95 554.5,240.30 555.5,239.92 556.5,240.02 557.5,239.54 558.5,239.66 559.5,239.65 560.5,239.63 561.5,239.27 562.5,239.30 563.5,239.88 564.5,240.27 565.5,241.41 566.5,241.27 567.5,242.49 568.5,242.94 569.5,243.31 570.5,242.86 571.5,243.23 572.5,243.14 573.5,242.96 574.5,242.67 575.5,242.50 576.5,242.45 577.5,242.38 578.5,242.20 579.5,241.43 580.5,241.27 581.5,241.51 582.5,240.93 583.5,241.30 584.5,241.08 585.5,240.36 586.5,239.98 587.5,239.31 588.5,238.92 589.5,238.48 590.5,237.74 591.5,237.37 592.5,236.21 593.5,235.53 594.5,234.70 595.5,234.07 596.5,233.34 597.5,232.28 598.5,232.40 599.5,231.49 600.5,230.93 601.5,230.74 602.5,230.17 603.5,230.09 604.5,229.97 605.5,229.55 606.5,229.55 607.5,229.30 608.5,229.37 609.5,228.98 610.5,228.88 611.5,227.97 612.5,228.02 613.5,227.76 614.5,228.56 615.5,228.59 616.5,228.92 617.5,229.62 618.5,230.22 619.5,231.02 620.5,231.17 621.5,231.32 622.5,231.25 623.5,230.58 624.5,230.13 625.5,230.17 626.5,230.80 627.5,230.57 628.5,231.26 629.5,231.73 630.5,231.46 631.5,231.85 632.5,232.72 633.5,232.85 634.5,232.77" fill="none" stroke="#e8f000" stroke-width="1.38" stroke-linejoin="round" opacity="1"/>
<polyline points="340.5,231.76 341.5,231.95 342.5,231.53 343.5,231.86 344.5,231.49 345.5,230.94 346.5,230.75 347.5,231.12 348.5,230.26 349.5,230.01 350.5,228.90 351.5,227.68 352.5,226.85 353.5,225.52 354.5,224.50 355.5,223.52 356.5,222.71 357.5,221.96 358.5,221.43 359.5,220.39 360.5,219.45 361.5,217.64 362.5,216.42 363.5,215.66 364.5,214.32 365.5,213.31 366.5,212.46 367.5,212.36 368.5,212.11 369.5,213.29 370.5,213.45 371.5,214.53 372.5,215.94 373.5,217.07 374.5,218.69 375.5,220.50 376.5,223.07 377.5,226.19 378.5,230.05 379.5,233.27 380.5,235.22 381.5,235.43 382.5,235.69 383.5,235.47 384.5,235.50 385.5,235.98 386.5,236.30 387.5,236.98 388.5,237.52 389.5,238.65 390.5,238.62 391.5,237.70 392.5,237.70 393.5,237.01 394.5,237.46 395.5,238.14 396.5,239.50 397.5,240.40 398.5,240.93 399.5,240.87 400.5,240.53 401.5,239.66 402.5,239.71 403.5,240.18 404.5,239.61 405.5,239.97 406.5,240.45 407.5,240.32 408.5,240.51 409.5,240.08 410.5,239.96 411.5,239.39 412.5,239.16 413.5,238.74 414.5,238.44 415.5,237.69 416.5,236.87 417.5,236.69 418.5,235.89 419.5,235.40 420.5,234.43 421.5,234.07 422.5,234.00 423.5,233.56 424.5,233.12 425.5,233.35 426.5,233.08 427.5,232.58 428.5,232.65 429.5,232.38 430.5,232.16 431.5,231.90 432.5,232.25 433.5,232.53 434.5,232.34 435.5,232.73 436.5,232.85 437.5,233.07 438.5,233.96 439.5,234.32 440.5,235.00 441.5,235.79 442.5,235.87 443.5,235.57 444.5,234.75 445.5,234.05 446.5,233.46 447.5,233.16 448.5,231.83 449.5,231.78 450.5,232.40 451.5,233.94 452.5,235.66 453.5,235.96 454.5,235.13 455.5,234.07 456.5,232.64 457.5,231.82 458.5,230.83 459.5,230.38 460.5,230.12 461.5,230.82 462.5,231.58 463.5,232.55 464.5,232.64 465.5,232.52 466.5,231.45 467.5,231.07 468.5,230.91 469.5,230.99 470.5,230.95 471.5,231.22 472.5,232.09 473.5,232.97 474.5,233.89 475.5,234.84 476.5,235.96 477.5,237.69 478.5,238.48 479.5,239.96 480.5,240.72 481.5,241.32 482.5,241.29 483.5,240.60 484.5,239.39 485.5,237.78 486.5,236.81 487.5,234.97 488.5,234.26 489.5,232.65 490.5,231.35 491.5,230.69 492.5,229.62 493.5,228.38 494.5,227.59 495.5,227.50 496.5,227.02 497.5,225.89 498.5,226.64 499.5,227.12 500.5,227.69 501.5,228.54 502.5,230.06 503.5,230.72 504.5,231.42 505.5,232.58 506.5,232.41 507.5,233.07 508.5,233.91 509.5,235.05 510.5,235.35 511.5,236.35 512.5,237.37 513.5,238.47 514.5,239.20 515.5,239.66 516.5,239.65 517.5,239.60 518.5,239.97 519.5,239.75 520.5,239.92 521.5,239.83 522.5,239.91 523.5,240.39 524.5,240.58 525.5,241.03 526.5,241.52 527.5,241.65 528.5,241.43 529.5,242.17 530.5,242.36 531.5,242.75 532.5,242.41 533.5,242.74 534.5,243.05 535.5,242.53 536.5,241.25 537.5,240.67 538.5,240.30 539.5,240.35 540.5,241.00 541.5,240.73 542.5,240.99 543.5,241.50 544.5,241.57 545.5,241.29 546.5,241.75 547.5,241.47 548.5,241.23 549.5,241.20 550.5,241.29 551.5,240.71 552.5,240.79 553.5,240.22 554.5,239.66 555.5,240.12 556.5,239.21 557.5,239.76 558.5,239.25 559.5,239.45 560.5,239.58 561.5,239.02 562.5,239.82 563.5,239.43 564.5,239.95 565.5,240.65 566.5,241.51 567.5,242.33 568.5,242.69 569.5,243.43 570.5,243.31 571.5,243.12 572.5,242.58 573.5,242.46 574.5,242.78 575.5,242.70 576.5,242.65 577.5,242.10 578.5,241.57 579.5,241.75 580.5,241.54 581.5,241.44 582.5,241.27 583.5,240.92 584.5,240.50 585.5,240.30 586.5,239.55 587.5,239.09 588.5,238.61 589.5,238.37 590.5,237.60 591.5,236.74 592.5,235.42 593.5,234.94 594.5,234.07 595.5,233.40 596.5,232.63 597.5,231.87 598.5,230.98 599.5,230.37 600.5,229.85 601.5,229.70 602.5,228.94 603.5,228.92 604.5,229.09 605.5,228.84 606.5,228.63 607.5,228.41 608.5,228.23 609.5,227.93 610.5,227.85 611.5,227.63 612.5,226.85 613.5,226.87 614.5,227.46 615.5,227.95 616.5,228.56 617.5,228.77 618.5,229.31 619.5,229.69 620.5,230.17 621.5,230.44 622.5,229.86 623.5,230.24 624.5,229.36 625.5,229.75 626.5,229.59 627.5,229.85 628.5,230.25 629.5,230.46 630.5,231.12 631.5,231.17 632.5,231.77 633.5,232.18 634.5,232.36" fill="none" stroke="#ff9a00" stroke-width="1.38" stroke-linejoin="round" opacity="1"/>
<line x1="78.7" y1="51.5" x2="78.7" y2="108.5" stroke="#1a1a1a" stroke-width="1.25" stroke-dasharray="3,1.5"/>
<text transform="translate(81.2,48.5) rotate(-90)" font-size="7.2" font-weight="bold" fill="#4f22ad" textLength="23.5" lengthAdjust="spacingAndGlyphs">δ<tspan dy="1.3" font-size="4.3">as</tspan><tspan dy="-1.3">NH</tspan><tspan dy="-2.6" font-size="4.3">3+</tspan><tspan dy="2.6"></tspan></text>
<line x1="115.7" y1="51" x2="115.7" y2="108.5" stroke="#1a1a1a" stroke-width="1.25" stroke-dasharray="3,1.5"/>
<text transform="translate(118.2,47) rotate(-90)" font-size="7.2" font-weight="bold" fill="#ff1a1a" textLength="22.5" lengthAdjust="spacingAndGlyphs">ν<tspan dy="1.3" font-size="4.3">as</tspan><tspan dy="-1.3">COO</tspan><tspan dy="-2.6" font-size="4.3">-</tspan><tspan dy="2.6"></tspan></text>
<line x1="132.2" y1="51" x2="132.2" y2="108.5" stroke="#1a1a1a" stroke-width="1.25" stroke-dasharray="3,1.5"/>
<text transform="translate(134.7,47) rotate(-90)" font-size="7.2" font-weight="bold" fill="#ff1a1a" textLength="22.5" lengthAdjust="spacingAndGlyphs">ν<tspan dy="1.3" font-size="4.3">as</tspan><tspan dy="-1.3">COO</tspan><tspan dy="-2.6" font-size="4.3">-</tspan><tspan dy="2.6"></tspan></text>
<line x1="144.7" y1="52" x2="144.7" y2="108.5" stroke="#1a1a1a" stroke-width="1.25" stroke-dasharray="3,1.5"/>
<text transform="translate(147.2,49) rotate(-90)" font-size="7.2" font-weight="bold" fill="#4f22ad" textLength="23" lengthAdjust="spacingAndGlyphs">δ<tspan dy="1.3" font-size="4.3">as</tspan><tspan dy="-1.3">NH</tspan><tspan dy="-2.6" font-size="4.3">3+</tspan><tspan dy="2.6"></tspan></text>
<line x1="161.2" y1="52" x2="161.2" y2="108.5" stroke="#1a1a1a" stroke-width="1.25" stroke-dasharray="3,1.5"/>
<text transform="translate(163.7,49) rotate(-90)" font-size="7.2" font-weight="bold" fill="#ff1a1a" textLength="28.5" lengthAdjust="spacingAndGlyphs">δNH/νCN</text>
<line x1="171.2" y1="52" x2="171.2" y2="108.5" stroke="#1a1a1a" stroke-width="1.25" stroke-dasharray="3,1.5"/>
<text transform="translate(173.7,48.5) rotate(-90)" font-size="7.2" font-weight="bold" fill="#ff1a1a" textLength="17.8" lengthAdjust="spacingAndGlyphs">νCOO<tspan dy="-2.6" font-size="4.3">-</tspan><tspan dy="2.6"></tspan></text>
<line x1="183.7" y1="52" x2="183.7" y2="108.5" stroke="#1a1a1a" stroke-width="1.25" stroke-dasharray="3,1.5"/>
<text transform="translate(186.2,48.5) rotate(-90)" font-size="7.2" font-weight="bold" fill="#4f22ad" textLength="22.5" lengthAdjust="spacingAndGlyphs">δ<tspan dy="1.3" font-size="4.3">as</tspan><tspan dy="-1.3">NH</tspan><tspan dy="-2.6" font-size="4.3">3+</tspan><tspan dy="2.6"></tspan></text>
<line x1="210.7" y1="51" x2="210.7" y2="108.5" stroke="#1a1a1a" stroke-width="1.25" stroke-dasharray="3,1.5"/>
<text transform="translate(213.2,47.5) rotate(-90)" font-size="7.2" font-weight="bold" fill="#ff1a1a" textLength="20.0" lengthAdjust="spacingAndGlyphs">ν<tspan dy="1.3" font-size="4.3">s</tspan><tspan dy="-1.3">COO</tspan><tspan dy="-2.6" font-size="4.3">-</tspan><tspan dy="2.6"></tspan></text>
<line x1="220.7" y1="51" x2="220.7" y2="108.5" stroke="#1a1a1a" stroke-width="1.25" stroke-dasharray="3,1.5"/>
<text transform="translate(223.2,47) rotate(-90)" font-size="7.2" font-weight="bold" fill="#ff1a1a" textLength="11.5" lengthAdjust="spacingAndGlyphs">νCN</text>
<line x1="237.2" y1="51" x2="237.2" y2="108.5" stroke="#1a1a1a" stroke-width="1.25" stroke-dasharray="3,1.5"/>
<text transform="translate(239.7,47) rotate(-90)" font-size="7.2" font-weight="bold" fill="#ff1a1a" textLength="20.5" lengthAdjust="spacingAndGlyphs">ν<tspan dy="1.3" font-size="4.3">s</tspan><tspan dy="-1.3">COO</tspan><tspan dy="-2.6" font-size="4.3">-</tspan><tspan dy="2.6"></tspan></text>
<line x1="269.2" y1="53.5" x2="269.2" y2="108.5" stroke="#1a1a1a" stroke-width="1.25" stroke-dasharray="3,1.5"/>
<text transform="translate(271.7,51) rotate(-90)" font-size="7.2" font-weight="bold" fill="#ff1a1a" textLength="21" lengthAdjust="spacingAndGlyphs">NCOO-</text>
<line x1="400.5" y1="53.5" x2="400.5" y2="110.5" stroke="#1a1a1a" stroke-width="1.25" stroke-dasharray="3,1.5"/>
<text transform="translate(403.0,48) rotate(-90)" font-size="7.2" font-weight="bold" fill="#4f22ad" textLength="23.5" lengthAdjust="spacingAndGlyphs">δ<tspan dy="1.3" font-size="4.3">as</tspan><tspan dy="-1.3">NH</tspan><tspan dy="-2.6" font-size="4.3">3+</tspan><tspan dy="2.6"></tspan></text>
<line x1="436.5" y1="53" x2="436.5" y2="110.5" stroke="#1a1a1a" stroke-width="1.25" stroke-dasharray="3,1.5"/>
<text transform="translate(439.0,49) rotate(-90)" font-size="7.2" font-weight="bold" fill="#ff1a1a" textLength="23" lengthAdjust="spacingAndGlyphs">ν<tspan dy="1.3" font-size="4.3">as</tspan><tspan dy="-1.3">COO</tspan><tspan dy="-2.6" font-size="4.3">-</tspan><tspan dy="2.6"></tspan></text>
<line x1="453.0" y1="53" x2="453.0" y2="110.5" stroke="#1a1a1a" stroke-width="1.25" stroke-dasharray="3,1.5"/>
<text transform="translate(455.5,49.5) rotate(-90)" font-size="7.2" font-weight="bold" fill="#ff1a1a" textLength="23.0" lengthAdjust="spacingAndGlyphs">ν<tspan dy="1.3" font-size="4.3">as</tspan><tspan dy="-1.3">COO</tspan><tspan dy="-2.6" font-size="4.3">-</tspan><tspan dy="2.6"></tspan></text>
<line x1="464.0" y1="54" x2="464.0" y2="110.5" stroke="#1a1a1a" stroke-width="1.25" stroke-dasharray="3,1.5"/>
<text transform="translate(466.5,51) rotate(-90)" font-size="7.2" font-weight="bold" fill="#4f22ad" textLength="22.5" lengthAdjust="spacingAndGlyphs">δ<tspan dy="1.3" font-size="4.3">as</tspan><tspan dy="-1.3">NH</tspan><tspan dy="-2.6" font-size="4.3">3+</tspan><tspan dy="2.6"></tspan></text>
<line x1="481.5" y1="60" x2="481.5" y2="110.5" stroke="#1a1a1a" stroke-width="1.25" stroke-dasharray="3,1.5"/>
<text transform="translate(484.0,57) rotate(-90)" font-size="7.2" font-weight="bold" fill="#ff1a1a" textLength="29" lengthAdjust="spacingAndGlyphs">δNH/νCN</text>
<line x1="492.5" y1="54" x2="492.5" y2="110.5" stroke="#1a1a1a" stroke-width="1.25" stroke-dasharray="3,1.5"/>
<text transform="translate(495.0,51.5) rotate(-90)" font-size="7.2" font-weight="bold" fill="#ff1a1a" textLength="19.0" lengthAdjust="spacingAndGlyphs">νCOO<tspan dy="-2.6" font-size="4.3">-</tspan><tspan dy="2.6"></tspan></text>
<line x1="502.5" y1="53" x2="502.5" y2="110.5" stroke="#1a1a1a" stroke-width="1.25" stroke-dasharray="3,1.5"/>
<text transform="translate(505.0,50) rotate(-90)" font-size="7.2" font-weight="bold" fill="#4f22ad" textLength="23" lengthAdjust="spacingAndGlyphs">δ<tspan dy="1.3" font-size="4.3">as</tspan><tspan dy="-1.3">NH</tspan><tspan dy="-2.6" font-size="4.3">3+</tspan><tspan dy="2.6"></tspan></text>
<line x1="531.5" y1="53" x2="531.5" y2="110.5" stroke="#1a1a1a" stroke-width="1.25" stroke-dasharray="3,1.5"/>
<text transform="translate(534.0,49.5) rotate(-90)" font-size="7.2" font-weight="bold" fill="#ff1a1a" textLength="20.5" lengthAdjust="spacingAndGlyphs">ν<tspan dy="1.3" font-size="4.3">s</tspan><tspan dy="-1.3">COO</tspan><tspan dy="-2.6" font-size="4.3">-</tspan><tspan dy="2.6"></tspan></text>
<line x1="542.0" y1="53" x2="542.0" y2="110.5" stroke="#1a1a1a" stroke-width="1.25" stroke-dasharray="3,1.5"/>
<text transform="translate(544.5,49) rotate(-90)" font-size="7.2" font-weight="bold" fill="#ff1a1a" textLength="11.5" lengthAdjust="spacingAndGlyphs">νCN</text>
<line x1="558.5" y1="53" x2="558.5" y2="110.5" stroke="#1a1a1a" stroke-width="1.25" stroke-dasharray="3,1.5"/>
<text transform="translate(561.0,51) rotate(-90)" font-size="7.2" font-weight="bold" fill="#ff1a1a" textLength="20" lengthAdjust="spacingAndGlyphs">ν<tspan dy="1.3" font-size="4.3">s</tspan><tspan dy="-1.3">COO</tspan><tspan dy="-2.6" font-size="4.3">-</tspan><tspan dy="2.6"></tspan></text>
<line x1="590.1" y1="53.6" x2="590.1" y2="110.5" stroke="#1a1a1a" stroke-width="1.25" stroke-dasharray="3,1.5"/>
<text transform="translate(592.6,52) rotate(-90)" font-size="7.2" font-weight="bold" fill="#ff1a1a" textLength="22.4" lengthAdjust="spacingAndGlyphs">NCOO-</text>
<line x1="48.6" y1="199" x2="48.6" y2="244.5" stroke="#1a1a1a" stroke-width="1.25" stroke-dasharray="3,1.5"/>
<text transform="translate(51.1,195) rotate(-90)" font-size="7.2" font-weight="normal" fill="#ff8410" stroke="#ff8410" stroke-width="0.3" textLength="15" lengthAdjust="spacingAndGlyphs">νC=O</text>
<line x1="73.6" y1="200" x2="73.6" y2="244.5" stroke="#1a1a1a" stroke-width="1.25" stroke-dasharray="3,1.5"/>
<text transform="translate(76.1,196) rotate(-90)" font-size="7.2" font-weight="normal" fill="#ff8410" stroke="#ff8410" stroke-width="0.3" textLength="15" lengthAdjust="spacingAndGlyphs">νC=O</text>
<line x1="111.1" y1="200" x2="111.1" y2="244.5" stroke="#1a1a1a" stroke-width="1.25" stroke-dasharray="3,1.5"/>
<text transform="translate(113.6,196.5) rotate(-90)" font-size="7.2" font-weight="bold" fill="#ff1a1a" textLength="23.0" lengthAdjust="spacingAndGlyphs">ν<tspan dy="1.3" font-size="4.3">as</tspan><tspan dy="-1.3">COO</tspan><tspan dy="-2.6" font-size="4.3">-</tspan><tspan dy="2.6"></tspan></text>
<line x1="131.6" y1="200" x2="131.6" y2="244.5" stroke="#1a1a1a" stroke-width="1.25" stroke-dasharray="3,1.5"/>
<text transform="translate(134.1,196.5) rotate(-90)" font-size="7.2" font-weight="bold" fill="#ff1a1a" textLength="23.0" lengthAdjust="spacingAndGlyphs">ν<tspan dy="1.3" font-size="4.3">as</tspan><tspan dy="-1.3">COO</tspan><tspan dy="-2.6" font-size="4.3">-</tspan><tspan dy="2.6"></tspan></text>
<line x1="147.1" y1="200" x2="147.1" y2="244.5" stroke="#1a1a1a" stroke-width="1.25" stroke-dasharray="3,1.5"/>
<text transform="translate(149.6,197) rotate(-90)" font-size="7.2" font-weight="bold" fill="#4f22ad" textLength="22.5" lengthAdjust="spacingAndGlyphs">δ<tspan dy="1.3" font-size="4.3">as</tspan><tspan dy="-1.3">NH</tspan><tspan dy="-2.6" font-size="4.3">3+</tspan><tspan dy="2.6"></tspan></text>
<line x1="158.6" y1="203" x2="158.6" y2="244.5" stroke="#1a1a1a" stroke-width="1.25" stroke-dasharray="3,1.5"/>
<text transform="translate(161.1,201.5) rotate(-90)" font-size="7.2" font-weight="bold" fill="#ff1a1a" textLength="29.0" lengthAdjust="spacingAndGlyphs">δNH/νCN</text>
<line x1="173.6" y1="200" x2="173.6" y2="244.5" stroke="#1a1a1a" stroke-width="1.25" stroke-dasharray="3,1.5"/>
<text transform="translate(176.1,198) rotate(-90)" font-size="7.2" font-weight="bold" fill="#ff1a1a" textLength="18.5" lengthAdjust="spacingAndGlyphs">νCOO<tspan dy="-2.6" font-size="4.3">-</tspan><tspan dy="2.6"></tspan></text>
<line x1="182.6" y1="200" x2="182.6" y2="244.5" stroke="#1a1a1a" stroke-width="1.25" stroke-dasharray="3,1.5"/>
<text transform="translate(185.1,195.5) rotate(-90)" font-size="7.2" font-weight="bold" fill="#4f22ad" textLength="22.5" lengthAdjust="spacingAndGlyphs">δ<tspan dy="1.3" font-size="4.3">as</tspan><tspan dy="-1.3">NH</tspan><tspan dy="-2.6" font-size="4.3">3+</tspan><tspan dy="2.6"></tspan></text>
<line x1="241.2" y1="201" x2="241.2" y2="244.5" stroke="#1a1a1a" stroke-width="1.25" stroke-dasharray="3,1.5"/>
<text transform="translate(243.7,197.4) rotate(-90)" font-size="7.2" font-weight="bold" fill="#ff1a1a" textLength="20.400000000000006" lengthAdjust="spacingAndGlyphs">ν<tspan dy="1.3" font-size="4.3">s</tspan><tspan dy="-1.3">COO</tspan><tspan dy="-2.6" font-size="4.3">-</tspan><tspan dy="2.6"></tspan></text>
<line x1="367.90000000000003" y1="201" x2="367.90000000000003" y2="245.3" stroke="#1a1a1a" stroke-width="1.25" stroke-dasharray="3,1.5"/>
<text transform="translate(370.40000000000003,196.6) rotate(-90)" font-size="7.2" font-weight="normal" fill="#ff8410" stroke="#ff8410" stroke-width="0.3" textLength="15.199999999999989" lengthAdjust="spacingAndGlyphs">νC=O</text>
<line x1="392.7" y1="201" x2="392.7" y2="245.3" stroke="#1a1a1a" stroke-width="1.25" stroke-dasharray="3,1.5"/>
<text transform="translate(395.2,197) rotate(-90)" font-size="7.2" font-weight="normal" fill="#ff8410" stroke="#ff8410" stroke-width="0.3" textLength="14" lengthAdjust="spacingAndGlyphs">νC=O</text>
<line x1="433.90000000000003" y1="201" x2="433.90000000000003" y2="245.3" stroke="#1a1a1a" stroke-width="1.25" stroke-dasharray="3,1.5"/>
<text transform="translate(436.40000000000003,197) rotate(-90)" font-size="7.2" font-weight="bold" fill="#ff1a1a" textLength="23" lengthAdjust="spacingAndGlyphs">ν<tspan dy="1.3" font-size="4.3">as</tspan><tspan dy="-1.3">COO</tspan><tspan dy="-2.6" font-size="4.3">-</tspan><tspan dy="2.6"></tspan></text>
<line x1="450.6" y1="201.5" x2="450.6" y2="245.3" stroke="#1a1a1a" stroke-width="1.25" stroke-dasharray="3,1.5"/>
<text transform="translate(453.1,198) rotate(-90)" font-size="7.2" font-weight="bold" fill="#ff1a1a" textLength="23.400000000000006" lengthAdjust="spacingAndGlyphs">ν<tspan dy="1.3" font-size="4.3">as</tspan><tspan dy="-1.3">COO</tspan><tspan dy="-2.6" font-size="4.3">-</tspan><tspan dy="2.6"></tspan></text>
<line x1="461.3" y1="202" x2="461.3" y2="245.3" stroke="#1a1a1a" stroke-width="1.25" stroke-dasharray="3,1.5"/>
<text transform="translate(463.8,199) rotate(-90)" font-size="7.2" font-weight="bold" fill="#4f22ad" textLength="23" lengthAdjust="spacingAndGlyphs">δ<tspan dy="1.3" font-size="4.3">as</tspan><tspan dy="-1.3">NH</tspan><tspan dy="-2.6" font-size="4.3">3+</tspan><tspan dy="2.6"></tspan></text>
<line x1="472.90000000000003" y1="203.5" x2="472.90000000000003" y2="245.3" stroke="#1a1a1a" stroke-width="1.25" stroke-dasharray="3,1.5"/>
<text transform="translate(475.40000000000003,200.5) rotate(-90)" font-size="7.2" font-weight="bold" fill="#ff1a1a" textLength="28.099999999999994" lengthAdjust="spacingAndGlyphs">δNH/νCN</text>
<line x1="491.7" y1="204" x2="491.7" y2="245.3" stroke="#1a1a1a" stroke-width="1.25" stroke-dasharray="3,1.5"/>
<text transform="translate(494.2,201) rotate(-90)" font-size="7.2" font-weight="bold" fill="#ff1a1a" textLength="18.400000000000006" lengthAdjust="spacingAndGlyphs">νCOO<tspan dy="-2.6" font-size="4.3">-</tspan><tspan dy="2.6"></tspan></text>
<line x1="499.5" y1="202" x2="499.5" y2="245.3" stroke="#1a1a1a" stroke-width="1.25" stroke-dasharray="3,1.5"/>
<text transform="translate(502.0,197.5) rotate(-90)" font-size="7.2" font-weight="bold" fill="#4f22ad" textLength="22.900000000000006" lengthAdjust="spacingAndGlyphs">δ<tspan dy="1.3" font-size="4.3">as</tspan><tspan dy="-1.3">NH</tspan><tspan dy="-2.6" font-size="4.3">3+</tspan><tspan dy="2.6"></tspan></text>
<line x1="560.3" y1="203" x2="560.3" y2="245.3" stroke="#1a1a1a" stroke-width="1.25" stroke-dasharray="3,1.5"/>
<text transform="translate(562.8,199) rotate(-90)" font-size="7.2" font-weight="bold" fill="#ff1a1a" textLength="21" lengthAdjust="spacingAndGlyphs">ν<tspan dy="1.3" font-size="4.3">s</tspan><tspan dy="-1.3">COO</tspan><tspan dy="-2.6" font-size="4.3">-</tspan><tspan dy="2.6"></tspan></text>
</svg></body></html>
